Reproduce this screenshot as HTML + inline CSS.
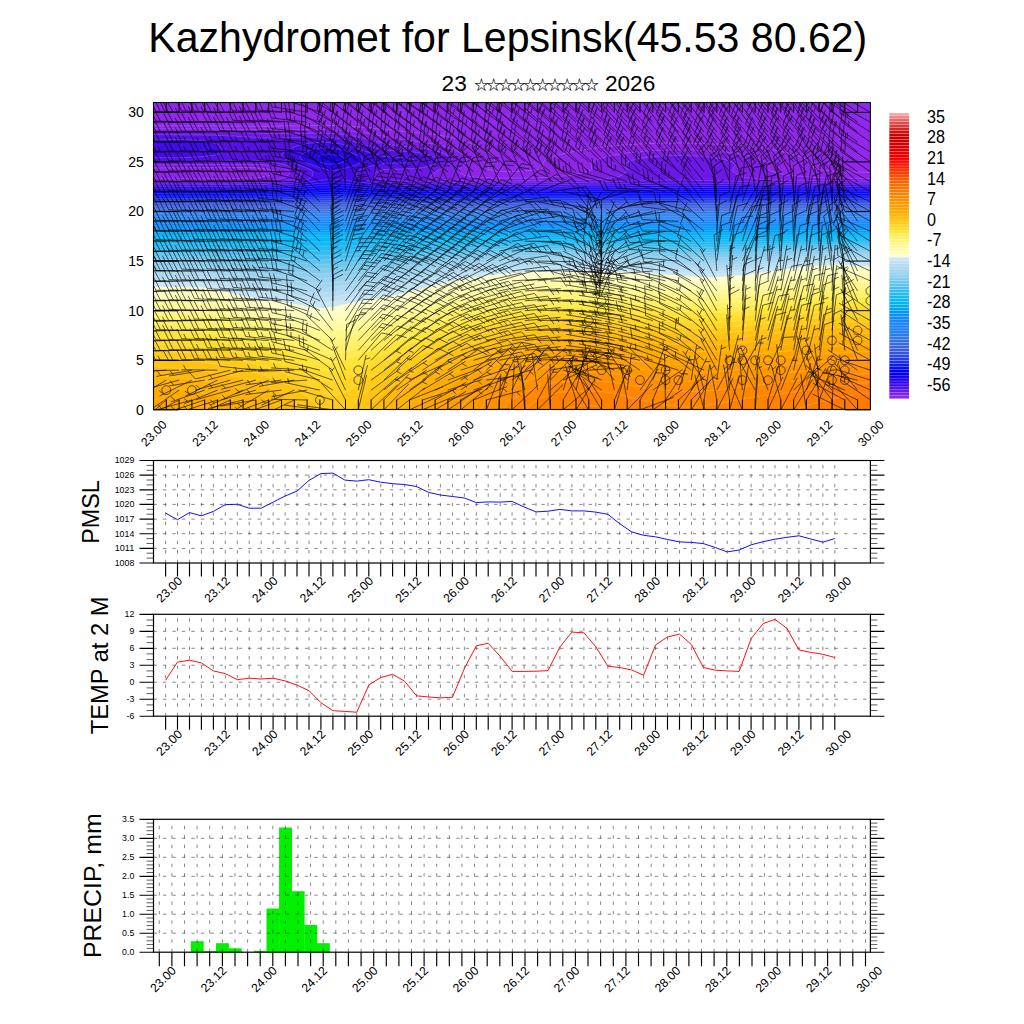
<!DOCTYPE html>
<html><head><meta charset="utf-8"><title>Kazhydromet for Lepsinsk</title>
<style>html,body{margin:0;padding:0;background:#fff;width:1024px;height:1024px;overflow:hidden}</style></head>
<body>
<svg width="1024" height="1024" viewBox="0 0 1024 1024" style="position:absolute;left:0;top:0">
<rect width="1024" height="1024" fill="#fff"/>
<clipPath id="mc"><rect x="153.5" y="102.5" width="716.9" height="307.0"/></clipPath>
<g clip-path="url(#mc)" stroke="#fff" stroke-opacity=".38" stroke-width=".45">
<rect x="153.5" y="102.5" width="716.9" height="307.0" fill="#9128eb" stroke="none"/>
<path d="M145.5 415.9L878.4 415.9L878.4 172.7L839.1 171.7L817.3 169.5L813.6 167.5L812.1 163.5L810.0 161.5L802.8 157.5L786.8 152.5L767.2 148.8L747.5 146.2L727.9 144.6L682.1 143.0L659.2 143.2L633.0 144.4L610.1 146.2L587.2 149.1L567.6 152.7L551.1 157.5L546.8 159.5L544.1 161.5L542.9 163.5L543.7 167.5L540.5 169.5L521.8 171.3L502.1 171.5L495.6 170.9L487.9 169.5L488.0 167.5L492.9 163.5L494.3 161.5L494.6 159.5L493.8 157.5L489.9 153.5L480.2 147.5L469.4 142.6L459.6 139.4L446.5 136.4L433.4 134.4L358.2 126.8L338.5 125.6L318.9 125.5L269.8 126.3L145.5 125.8Z" fill="#8e25e9"/>
<path d="M145.5 415.9L878.4 415.9L878.4 178.7L816.2 177.7L790.1 175.4L779.5 173.5L770.4 171.0L767.6 169.5L768.1 165.5L767.4 163.5L765.1 161.5L760.6 159.3L750.8 156.3L737.7 153.8L721.3 151.8L701.7 150.4L682.1 150.0L662.5 150.2L642.8 151.4L626.5 153.1L610.1 155.8L600.3 158.6L593.9 161.5L591.8 163.5L591.3 165.5L592.2 169.5L588.2 171.5L580.4 173.5L569.2 175.5L548.5 177.5L528.3 178.1L498.9 178.3L476.0 177.5L465.2 175.5L460.5 173.5L458.3 171.5L458.5 169.5L465.6 163.5L466.6 161.5L466.7 159.5L465.9 157.5L462.9 154.5L458.1 151.5L453.5 149.5L443.2 146.2L433.4 144.0L397.4 138.7L364.7 132.8L345.1 130.6L325.5 129.7L273.1 130.0L201.1 129.0L145.5 128.9L145.5 167.9L250.2 167.5L260.0 168.1L269.8 169.4L274.2 171.5L273.4 173.5L269.5 175.5L260.9 177.5L253.5 178.1L227.3 178.7L145.5 178.8Z" fill="#7f1fe7"/>
<path d="M145.5 415.9L878.4 415.9L878.4 181.3L783.5 180.3L761.2 179.5L743.0 177.5L738.7 175.5L733.0 171.5L732.1 169.5L735.2 165.5L734.3 163.5L730.9 161.5L724.5 159.5L711.5 157.3L698.4 156.1L682.1 155.5L665.7 155.9L652.6 156.8L642.8 158.0L633.0 160.1L628.7 161.5L625.4 163.5L624.6 165.5L627.8 169.5L626.9 171.5L621.3 175.5L617.0 177.5L603.6 179.1L567.6 180.5L512.0 181.2L472.7 180.8L441.5 179.5L430.2 177.5L431.0 175.5L435.7 171.5L447.5 165.5L450.0 163.5L451.2 161.5L451.1 159.5L449.9 157.5L447.5 155.5L443.7 153.5L436.7 151.1L426.9 148.9L394.2 145.3L384.3 143.7L361.1 137.5L351.1 135.5L338.5 134.0L322.2 133.2L276.4 133.5L204.4 131.8L145.5 131.5L145.5 165.0L243.7 164.2L260.0 164.5L269.8 165.3L279.6 167.0L287.5 169.5L289.6 171.5L289.4 173.5L287.8 175.5L285.0 177.5L277.6 179.5L266.6 180.5L237.1 181.3L145.5 181.4Z" fill="#6c18e6"/>
<path d="M145.5 415.9L878.4 415.9L878.4 183.2L786.8 182.6L685.4 180.1L659.2 180.3L577.4 182.5L512.0 183.1L462.9 182.7L390.9 180.6L379.5 179.5L374.5 177.5L374.1 175.5L374.7 173.5L376.8 171.5L384.3 169.5L417.1 168.3L423.6 167.4L430.9 165.5L435.0 163.5L436.8 161.5L436.7 159.5L434.7 157.5L430.7 155.5L423.3 153.5L413.8 152.1L390.9 150.5L381.1 149.3L371.3 147.0L348.4 140.1L330.4 137.5L312.4 137.1L273.1 138.4L214.2 135.1L145.5 134.5L145.5 162.2L197.9 162.0L250.2 160.3L263.3 160.7L276.4 162.4L292.7 166.7L299.3 169.5L301.1 171.5L301.2 173.5L298.8 177.5L294.4 179.5L282.9 181.4L273.1 182.2L240.4 183.1L145.5 183.2Z" fill="#5612e6"/>
<path d="M145.5 415.9L878.4 415.9L878.4 184.9L796.6 184.6L678.8 183.0L561.0 184.6L485.8 184.8L404.0 183.6L381.1 182.5L371.1 181.5L359.9 179.5L356.5 177.5L356.5 173.5L357.3 171.5L360.0 169.5L368.0 166.7L381.1 163.8L387.6 163.0L404.0 162.8L410.5 162.2L413.7 161.5L413.8 159.5L404.0 157.7L384.3 156.4L374.5 154.2L345.1 144.9L335.3 143.1L322.2 142.2L309.1 143.2L298.2 145.5L288.1 149.5L284.7 151.5L282.6 153.5L282.0 155.5L283.4 157.5L286.5 159.5L310.5 169.5L312.6 171.5L313.1 173.5L311.8 177.5L308.2 179.5L289.5 182.7L263.3 184.5L145.5 185.0ZM145.5 139.3L145.5 157.6L181.5 157.7L201.1 156.6L212.4 155.5L219.7 153.5L221.7 151.5L221.5 149.5L219.0 145.5L216.0 143.5L208.8 141.5L186.5 139.5Z" fill="#420ce8"/>
<path d="M145.5 415.9L878.4 415.9L878.4 186.7L685.4 185.2L521.8 186.6L413.8 185.9L377.8 184.4L341.8 180.0L332.0 179.5L322.2 180.3L289.5 184.7L266.6 186.2L145.5 186.7ZM300.2 157.5L301.4 159.5L308.0 163.5L322.2 168.4L332.0 170.4L335.3 170.4L341.8 169.2L354.1 165.5L358.7 163.5L361.6 161.5L362.5 159.5L361.3 157.5L358.3 155.5L348.5 151.5L338.5 149.1L328.7 148.0L318.9 148.4L309.1 150.6L302.9 153.5L300.8 155.5Z" fill="#2f06eb"/>
<path d="M145.5 415.9L878.4 415.9L878.4 188.4L685.4 187.4L521.8 188.3L417.1 187.8L381.1 186.8L345.1 183.2L332.0 182.7L318.9 183.4L286.2 186.9L266.6 187.9L145.5 188.4ZM316.5 159.5L318.9 161.5L325.5 163.6L332.0 164.2L338.5 163.6L344.2 161.5L345.4 159.5L343.9 157.5L339.3 155.5L328.7 154.2L319.8 155.5L316.6 157.5Z" fill="#1e02f1"/>
<path d="M145.5 415.9L878.4 415.9L878.4 190.1L685.4 189.3L521.8 190.1L417.1 189.7L384.3 188.9L345.1 185.7L332.0 185.2L318.9 185.8L286.2 188.8L266.6 189.7L145.5 190.1Z" fill="#0e00f8"/>
<path d="M145.5 415.9L878.4 415.9L878.4 191.8L685.4 191.3L417.1 191.5L384.3 190.8L345.1 188.0L332.0 187.6L318.9 188.1L286.2 190.7L266.6 191.5L145.5 191.8Z" fill="#0000ff"/>
<path d="M145.5 415.9L878.4 415.9L878.4 193.5L417.1 193.3L384.3 192.7L332.0 189.9L286.2 192.5L263.3 193.3L145.5 193.5Z" fill="#0102f9"/>
<path d="M145.5 415.9L878.4 415.9L878.4 195.2L417.1 195.1L384.3 194.5L332.0 192.2L263.3 195.0L145.5 195.2Z" fill="#050ef5"/>
<path d="M145.5 415.9L878.4 415.9L878.4 196.9L417.1 196.8L384.3 196.3L332.0 194.4L263.3 196.7L145.5 196.9Z" fill="#0f20ee"/>
<path d="M145.5 415.9L878.4 415.9L878.4 198.6L417.1 198.5L384.3 198.1L332.0 196.5L263.3 198.4L145.5 198.6Z" fill="#1a30e9"/>
<path d="M145.5 415.9L878.4 415.9L878.4 200.2L417.1 200.2L332.0 198.5L263.3 200.1L145.5 200.2Z" fill="#233ce6"/>
<path d="M145.5 415.9L878.4 415.9L878.4 201.9L417.1 201.8L332.0 200.5L263.3 201.8L145.5 201.9Z" fill="#2c48e3"/>
<path d="M145.5 415.9L878.4 415.9L878.4 203.5L417.1 203.5L332.0 202.4L263.3 203.4L145.5 203.5Z" fill="#3454e0"/>
<path d="M145.5 415.9L878.4 415.9L878.4 205.1L417.1 205.1L332.0 204.2L263.3 205.1L145.5 205.1Z" fill="#3b5ddd"/>
<path d="M145.5 415.9L878.4 415.9L878.4 206.8L417.1 206.7L332.0 206.0L263.3 206.7L145.5 206.8Z" fill="#3c64de"/>
<path d="M145.5 415.9L878.4 415.9L878.4 208.4L417.1 208.4L332.0 207.8L145.5 208.4Z" fill="#3b6ae2"/>
<path d="M145.5 415.9L878.4 415.9L878.4 210.0L417.1 210.0L332.0 209.5L145.5 210.0Z" fill="#3871e5"/>
<path d="M145.5 415.9L878.4 415.9L878.4 211.6L332.0 211.3L145.5 211.6Z" fill="#3377e8"/>
<path d="M145.5 415.9L878.4 415.9L878.4 213.3L145.5 213.3Z" fill="#2c7dec"/>
<path d="M145.5 415.9L878.4 415.9L878.4 214.9L145.5 214.9Z" fill="#2680f2"/>
<path d="M145.5 415.9L878.4 415.9L878.4 216.5L145.5 216.5Z" fill="#2283f6"/>
<path d="M145.5 415.9L878.4 415.9L878.4 218.2L145.5 218.2Z" fill="#1f86f9"/>
<path d="M145.5 415.9L878.4 415.9L878.4 219.8L145.5 219.8Z" fill="#1a87fa"/>
<path d="M145.5 415.9L878.4 415.9L878.4 221.6L145.5 221.6Z" fill="#1587fa"/>
<path d="M145.5 415.9L878.4 415.9L878.4 223.7L145.5 223.7Z" fill="#0e8dfa"/>
<path d="M145.5 415.9L878.4 415.9L878.4 226.0L145.5 226.0Z" fill="#0893fa"/>
<path d="M145.5 415.9L878.4 415.9L878.4 228.2L145.5 228.2Z" fill="#0299fa"/>
<path d="M145.5 415.9L878.4 415.9L878.4 230.5L145.5 230.5Z" fill="#00a2fa"/>
<path d="M145.5 415.9L878.4 415.9L878.4 232.8L145.5 232.8Z" fill="#00abfa"/>
<path d="M145.5 415.9L878.4 415.9L878.4 235.0L145.5 235.1Z" fill="#00b7fa"/>
<path d="M145.5 415.9L878.4 415.9L878.4 237.2L145.5 237.5Z" fill="#05b9fa"/>
<path d="M145.5 415.9L878.4 415.9L878.4 239.1L822.8 239.0L711.5 239.8L505.4 239.6L322.2 241.8L207.7 240.5L145.5 240.5Z" fill="#15b9f7"/>
<path d="M145.5 415.9L878.4 415.9L878.4 241.0L822.8 240.8L711.5 242.4L606.8 241.7L505.4 241.9L322.2 246.3L207.7 243.8L145.5 243.7Z" fill="#24baf4"/>
<path d="M145.5 415.9L878.4 415.9L878.4 242.9L819.5 242.6L711.5 244.9L606.8 243.9L505.4 244.2L456.3 245.5L390.9 248.5L322.2 250.8L256.7 249.0L207.7 247.0L145.5 246.8Z" fill="#34bdf2"/>
<path d="M145.5 415.9L878.4 415.9L878.4 244.8L819.5 244.3L711.5 247.5L606.8 246.1L505.4 246.5L456.3 248.3L390.9 252.3L322.2 255.4L256.7 252.9L207.7 250.2L145.5 250.0Z" fill="#48c0f1"/>
<path d="M145.5 415.9L878.4 415.9L878.4 246.7L842.4 245.9L819.5 246.1L741.0 249.3L711.5 250.0L606.8 248.2L547.9 248.2L505.4 248.8L456.3 251.0L390.9 256.0L322.2 259.9L256.7 256.9L207.7 253.4L145.5 253.2Z" fill="#5ec4f0"/>
<path d="M145.5 415.9L878.4 415.9L878.4 248.6L842.4 247.7L822.8 247.8L796.6 248.7L741.0 251.7L711.5 252.6L606.8 250.4L547.9 250.4L505.4 251.1L456.3 253.7L390.9 259.8L322.2 264.4L256.7 260.8L207.7 256.7L188.0 256.2L145.5 256.4Z" fill="#71c7ee"/>
<path d="M145.5 415.9L878.4 415.9L878.4 250.5L842.4 249.4L820.6 249.6L793.3 250.8L741.0 254.2L711.5 255.2L642.8 253.2L606.8 252.7L547.9 252.6L505.4 253.5L482.5 254.5L456.3 256.5L390.9 263.6L322.2 269.0L309.1 268.5L256.7 264.7L207.7 260.0L188.0 259.4L145.5 259.6Z" fill="#80caee"/>
<path d="M145.5 415.9L878.4 415.9L878.4 252.5L842.4 251.3L819.5 251.5L793.3 252.8L741.0 256.7L711.5 257.8L642.8 255.5L606.8 255.0L547.9 254.9L505.4 255.9L482.5 257.1L454.1 259.6L390.9 267.5L332.0 273.3L322.2 273.8L309.1 273.2L256.7 268.9L207.7 263.4L188.0 262.7L145.5 263.0Z" fill="#8eceee"/>
<path d="M145.5 415.9L878.4 415.9L878.4 254.5L842.4 253.1L819.5 253.4L793.3 254.9L741.0 259.3L711.5 260.6L642.8 257.9L606.8 257.3L547.9 257.2L505.4 258.4L482.5 259.7L456.3 262.3L436.7 264.7L390.9 271.6L354.9 275.1L332.0 278.0L322.2 278.6L309.1 278.0L256.7 273.0L207.7 266.8L188.0 266.1L145.5 266.4Z" fill="#99d2ef"/>
<path d="M145.5 415.9L878.4 415.9L878.4 256.5L842.4 254.9L819.5 255.3L793.3 256.9L741.0 261.8L711.5 263.3L642.8 260.3L606.8 259.7L547.9 259.5L505.4 260.8L482.5 262.4L456.3 265.3L436.7 268.0L390.9 275.6L354.9 279.5L332.0 282.8L322.2 283.4L309.1 282.7L256.7 277.2L220.8 271.8L207.7 270.3L188.0 269.5L145.5 269.8Z" fill="#a2d5f0"/>
<path d="M145.5 415.9L878.4 415.9L878.4 258.5L842.4 256.8L819.5 257.1L793.3 259.0L741.0 264.4L711.5 266.0L698.4 265.7L642.8 262.8L606.8 262.0L547.9 261.8L505.4 263.3L482.5 265.0L456.3 268.2L436.7 271.2L390.9 279.6L354.9 284.0L332.0 287.5L322.2 288.3L309.1 287.5L256.7 281.4L220.8 275.4L207.7 273.7L188.0 272.9L145.5 273.2Z" fill="#abd9f1"/>
<path d="M145.5 415.9L878.4 415.9L878.4 260.5L842.4 258.6L819.5 259.0L793.3 261.1L741.0 267.0L711.5 268.7L698.4 268.4L642.8 265.2L606.8 264.3L547.9 264.2L505.4 265.8L482.5 267.6L456.3 271.1L436.7 274.4L390.9 283.6L354.9 288.4L332.0 292.3L322.2 293.1L309.1 292.3L256.7 285.6L220.8 279.0L207.7 277.2L188.0 276.2L145.5 276.6Z" fill="#b4dcf2"/>
<path d="M145.5 415.9L878.4 415.9L878.4 262.5L842.4 260.5L819.5 260.9L793.3 263.1L741.0 269.6L711.5 271.5L698.4 271.1L642.8 267.6L606.8 266.7L547.9 266.5L505.4 268.2L482.5 270.3L456.3 274.1L436.4 277.7L390.9 287.6L354.9 292.8L332.0 297.1L322.2 297.9L309.1 297.0L256.7 289.8L220.8 282.6L207.7 280.6L188.0 279.6L145.5 280.0Z" fill="#bee1f3"/>
<path d="M145.5 415.9L878.4 415.9L878.4 264.6L842.4 262.5L819.5 262.9L793.3 265.3L741.0 272.2L711.5 274.2L698.4 273.9L642.8 270.0L610.1 269.1L547.9 268.9L505.4 270.7L482.5 273.0L453.2 277.7L433.4 281.7L394.2 291.0L354.9 297.3L332.0 301.9L322.2 302.8L309.1 301.8L256.7 294.0L217.8 285.7L204.4 283.8L188.0 283.0L145.5 283.4Z" fill="#c8e6f5"/>
<path d="M145.5 415.9L878.4 415.9L878.4 267.1L839.1 264.8L819.5 265.4L795.9 267.7L744.3 274.9L714.8 277.2L698.4 276.9L639.6 272.7L602.4 271.7L544.7 271.6L504.7 273.7L485.8 275.7L461.3 279.7L440.0 284.0L394.2 295.4L356.7 301.7L332.0 307.0L322.2 307.9L309.1 306.8L286.2 302.8L256.7 298.4L243.7 295.9L217.5 289.7L205.3 287.7L188.0 286.7L145.5 287.1Z" fill="#ffffce"/>
<path d="M145.5 415.9L878.4 415.9L878.4 270.7L842.4 268.6L822.8 268.9L796.6 271.3L741.0 279.0L724.6 280.6L711.5 281.2L695.2 280.6L639.6 276.6L600.3 275.5L544.7 275.5L506.4 277.7L482.5 280.4L453.1 285.6L435.2 289.7L394.2 300.4L358.2 307.1L335.3 312.3L325.5 313.5L312.4 312.7L286.2 307.9L256.7 303.3L217.5 294.6L204.4 292.5L188.0 291.6L145.5 291.9Z" fill="#fffec1"/>
<path d="M145.5 415.9L878.4 415.9L878.4 275.0L842.4 273.0L822.8 273.3L796.6 275.7L741.0 283.3L711.5 285.4L695.2 285.0L639.6 281.0L600.3 279.8L547.9 279.8L512.0 281.8L485.8 284.7L456.3 290.0L436.7 294.4L390.9 306.6L358.2 313.2L335.3 318.5L325.5 319.6L312.4 318.5L286.2 313.4L256.7 308.5L220.8 300.5L207.7 298.2L188.0 296.9L145.5 297.0Z" fill="#fffcb0"/>
<path d="M145.5 415.9L878.4 415.9L878.4 279.3L842.4 277.4L822.8 277.8L796.6 280.2L741.0 287.7L711.5 289.8L695.2 289.4L639.6 285.4L600.3 284.1L551.2 284.1L515.2 286.3L485.8 289.5L456.3 295.1L436.4 299.7L387.6 313.1L338.5 324.4L325.5 325.9L312.4 324.5L286.2 319.0L250.2 312.6L220.8 306.0L207.7 303.7L188.0 302.3L145.5 302.3Z" fill="#fffa9d"/>
<path d="M145.5 415.9L878.4 415.9L878.4 283.7L842.4 282.0L822.8 282.4L796.6 284.8L741.0 292.1L711.5 294.3L695.2 293.8L636.3 289.8L597.0 288.5L551.2 288.6L518.5 290.7L489.0 294.0L456.3 300.3L433.4 305.9L387.6 319.0L341.8 330.4L328.7 332.4L322.2 332.2L312.4 330.8L286.2 324.8L253.5 318.7L220.8 311.5L207.7 309.3L188.0 307.9L145.5 307.7Z" fill="#fff78a"/>
<path d="M145.5 415.9L878.4 415.9L878.4 288.2L842.4 286.6L822.8 287.1L796.6 289.5L741.0 296.7L711.5 298.8L695.2 298.4L633.0 294.3L600.3 293.1L554.5 293.1L525.0 294.9L489.0 299.1L456.3 305.7L436.7 310.5L394.2 323.3L345.1 336.6L335.3 338.7L328.7 339.3L322.2 339.0L315.6 338.0L282.9 330.2L210.9 315.6L188.0 313.6L145.5 313.2Z" fill="#fff478"/>
<path d="M145.5 415.9L878.4 415.9L878.4 292.8L842.4 291.3L822.8 291.9L796.6 294.3L741.0 301.3L711.5 303.4L695.2 303.1L636.3 299.2L597.0 297.6L554.5 297.8L525.9 299.7L489.0 304.3L454.0 311.7L431.5 317.7L394.2 329.6L345.1 344.0L332.0 346.4L325.5 346.4L315.6 344.8L280.2 335.7L210.9 321.5L188.0 319.5L145.5 319.0Z" fill="#fff167"/>
<path d="M145.5 415.9L878.4 415.9L878.4 297.4L842.4 296.1L822.8 296.8L796.6 299.2L741.0 306.0L711.5 308.2L695.2 307.9L633.0 303.8L597.0 302.3L554.5 302.5L528.3 304.4L489.0 309.6L453.1 317.6L426.9 325.1L348.4 350.9L338.5 353.5L332.0 354.2L325.5 354.0L318.9 352.9L278.4 341.8L214.2 328.2L191.3 325.8L145.5 324.9Z" fill="#ffec53"/>
<path d="M145.5 415.9L878.4 415.9L878.4 302.2L842.4 301.1L822.8 301.7L796.6 304.1L741.0 310.9L711.5 313.0L695.2 312.8L629.7 308.5L597.0 307.1L557.8 307.3L531.6 309.1L508.7 312.0L489.0 315.1L452.2 323.7L423.6 332.4L345.1 360.3L338.5 362.0L332.0 362.6L325.5 362.2L318.9 360.8L290.5 351.8L269.8 346.3L217.5 335.1L204.4 333.3L191.3 332.2L145.5 331.0Z" fill="#ffe535"/>
<path d="M145.5 415.9L878.4 415.9L878.4 307.0L845.7 306.1L826.0 306.6L799.9 308.9L737.7 316.1L711.5 318.0L691.9 317.6L626.5 313.3L597.0 312.0L557.8 312.3L531.6 314.3L506.5 317.7L489.0 320.8L469.4 325.2L446.5 331.4L430.2 336.6L410.3 343.8L373.9 357.8L348.4 368.4L341.8 370.5L335.3 371.7L328.7 371.6L322.2 370.3L292.7 359.9L276.4 355.0L250.2 348.5L220.8 342.4L204.4 339.9L191.3 338.8L145.5 337.3Z" fill="#ffdd2c"/>
<path d="M145.5 415.9L878.4 415.9L878.4 312.0L845.7 311.2L826.0 311.8L799.9 314.1L741.0 320.9L711.5 323.1L691.9 322.8L619.9 318.1L597.0 317.1L557.8 317.3L531.6 319.6L505.4 323.5L485.8 327.3L466.1 332.2L443.2 338.9L423.3 345.8L398.3 355.8L375.1 365.8L345.1 380.0L335.3 382.3L328.7 381.9L322.2 380.2L292.7 368.1L273.9 361.8L253.5 356.3L233.0 351.8L214.2 348.3L197.9 346.3L171.7 344.7L145.5 344.0Z" fill="#ffd523"/>
<path d="M145.5 415.9L878.4 415.9L878.4 317.1L845.7 316.5L826.0 317.2L799.9 319.5L737.7 326.5L708.3 328.4L688.6 328.0L616.7 323.2L593.7 322.2L557.8 322.6L531.6 325.0L505.4 329.3L484.3 333.7L462.1 339.7L436.7 347.9L416.4 355.8L394.0 365.8L370.3 377.8L345.1 392.8L338.5 395.2L335.3 395.6L332.0 395.5L325.5 393.7L299.3 380.0L284.8 373.8L266.6 367.5L246.9 362.2L220.8 356.9L201.1 354.0L171.7 351.8L145.5 351.0Z" fill="#ffcd19"/>
<path d="M145.5 358.5L145.5 415.9L318.7 415.9L318.5 409.8L316.5 405.8L312.9 401.8L305.9 395.8L296.8 389.8L289.5 385.8L276.4 379.9L263.3 375.0L240.4 368.7L207.7 362.8L175.9 359.8ZM351.1 415.9L878.4 415.9L878.4 322.4L845.7 321.9L826.0 322.7L799.9 325.1L737.7 331.9L711.5 333.8L688.6 333.5L613.4 328.4L590.5 327.5L567.6 327.7L551.2 328.4L538.1 329.7L521.8 332.3L492.3 338.1L464.5 345.8L435.3 355.8L407.7 367.8L381.8 381.8L372.6 387.8L364.7 393.8L358.2 399.8L353.1 405.8L351.3 409.8Z" fill="#ffc312"/>
<path d="M145.5 366.5L145.5 415.9L298.7 415.9L298.4 409.8L297.8 407.8L294.9 403.8L289.5 399.0L281.8 393.8L274.4 389.8L263.3 384.8L253.5 381.2L233.8 376.2L204.4 371.1L171.7 367.8ZM369.7 415.9L878.4 415.9L878.4 327.8L845.7 327.5L829.3 328.2L803.1 330.5L734.4 337.8L708.3 339.6L678.8 338.7L613.4 333.9L593.7 333.1L557.8 333.6L544.7 334.7L531.6 336.5L498.9 343.1L476.0 349.2L445.0 359.8L420.3 370.4L407.2 377.2L396.2 383.8L387.4 389.8L380.0 395.8L374.2 401.8L371.4 405.8L369.9 409.8Z" fill="#ffba0b"/>
<path d="M145.5 375.4L145.5 415.9L277.1 415.9L276.9 409.8L276.1 407.8L270.4 401.8L260.0 395.2L246.8 389.8L227.3 385.0L197.9 380.0L165.1 376.4ZM386.6 415.9L878.4 415.9L878.4 333.4L849.0 333.3L829.3 334.1L734.4 343.6L708.3 345.4L695.2 345.4L672.3 344.3L613.4 339.7L593.7 338.8L561.0 339.2L547.9 340.2L536.6 341.8L507.3 347.8L482.5 354.3L455.4 363.8L430.2 374.7L410.4 385.8L402.0 391.8L394.9 397.8L389.6 403.8L387.4 407.8L386.8 409.8Z" fill="#ffb306"/>
<path d="M145.5 385.6L145.5 415.9L251.4 415.9L251.0 409.8L249.8 407.8L244.2 403.8L233.8 399.8L210.9 394.3L186.2 389.8L161.9 386.5ZM403.4 415.9L878.4 415.9L878.4 339.2L849.0 339.3L829.3 340.2L731.2 350.1L708.3 351.6L691.9 351.6L665.7 350.3L613.4 345.8L597.0 344.9L564.3 345.1L551.2 346.0L541.4 347.2L518.5 351.9L489.0 359.8L466.4 367.8L443.2 378.0L425.4 387.8L417.1 393.6L412.1 397.8L406.5 403.8L404.2 407.8L403.6 409.8Z" fill="#ffac01"/>
<path d="M145.5 398.9L145.5 415.9L190.3 415.9L190.2 411.8L189.5 409.8L187.1 407.8L182.6 405.8L165.1 401.1L155.3 399.5ZM421.0 415.9L878.4 415.9L878.4 345.3L852.2 345.5L832.6 346.4L727.9 356.8L705.0 358.2L688.6 358.1L662.5 356.7L613.4 352.1L597.0 351.1L564.3 351.4L544.7 353.2L523.3 357.8L495.0 365.8L476.0 372.7L455.9 381.8L438.5 391.8L428.1 399.8L424.3 403.8L421.8 407.8L421.1 409.8Z" fill="#ffa500"/>
<path d="M440.1 415.9L878.4 415.9L878.4 351.7L852.2 352.0L832.6 353.1L727.9 363.7L705.0 365.2L688.6 365.1L659.2 363.6L613.4 358.9L597.0 357.8L567.6 357.9L547.9 359.6L528.5 363.8L505.4 370.7L486.0 377.8L469.4 385.6L455.6 393.8L445.6 401.8L440.9 407.8L440.3 409.8Z" fill="#ff9e00"/>
<path d="M460.1 415.9L878.4 415.9L878.4 358.4L855.5 358.9L835.9 360.0L724.6 371.4L701.7 372.9L685.4 372.7L659.2 371.3L613.4 366.1L597.0 364.8L570.8 364.9L551.2 366.5L535.1 369.8L518.5 374.9L500.1 381.8L483.1 389.8L472.7 396.3L463.8 403.8L461.0 407.8L460.3 409.8Z" fill="#ff9700"/>
<path d="M480.8 415.9L878.4 415.9L878.4 365.6L858.8 366.1L839.1 367.4L721.3 380.0L701.7 381.4L682.1 381.2L655.9 379.6L613.4 373.9L597.0 372.5L574.1 372.5L554.5 373.9L541.4 376.5L528.3 380.6L512.0 387.3L498.9 393.8L489.6 399.8L483.1 405.8L481.0 409.8Z" fill="#ff9000"/>
<path d="M503.4 415.9L878.4 415.9L878.4 373.5L862.0 374.0L842.4 375.5L714.8 390.4L698.4 391.6L678.8 391.2L655.9 389.6L613.4 382.7L600.3 381.3L580.7 380.9L561.0 382.0L551.2 383.4L541.4 385.9L531.2 389.8L519.2 395.8L510.2 401.8L505.9 405.8L503.6 409.8Z" fill="#ff8800"/>
<path d="M526.9 415.9L878.4 415.9L878.4 382.3L858.8 383.3L836.5 385.8L799.9 391.3L749.5 397.8L705.0 406.1L695.2 407.3L682.1 406.9L659.2 404.1L646.1 401.4L616.7 394.0L603.6 391.8L587.2 390.9L564.3 392.0L554.5 393.5L547.9 395.3L541.4 397.9L534.9 401.6L531.6 404.0L528.0 407.8L527.1 409.8Z" fill="#ff8100"/>
<path d="M562.3 415.9L607.1 415.9L607.0 411.8L606.1 409.8L602.7 407.8L600.3 407.2L591.2 405.8L580.7 406.0L567.8 407.8L563.4 409.8L562.4 411.8ZM797.1 415.9L878.4 415.9L878.4 392.9L865.3 393.6L849.1 395.8L829.2 399.8L813.4 403.8L801.4 407.8L798.1 409.8L797.1 411.8Z" fill="#ff7a00"/>
</g>
<g clip-path="url(#mc)" fill="none" stroke="#000" stroke-width=".62">
<path d="M153.5 409.9l-29.9 20.0M166.3 409.9l-26.6 24.3M179.1 409.9l-31.3 17.8M191.9 409.9l-34.0 11.8M204.7 409.9l-31.9 16.7M217.5 409.9l-35.0 8.6M230.3 409.9l-35.1 7.9M243.1 409.9l-32.3 15.8M255.9 409.9l-30.6 19.0M268.7 409.9l-33.2 13.8M281.5 409.9l-35.5 5.7M294.3 409.9l-34.5 10.2M307.1 409.9l-35.9 2.5M319.9 409.9l-35.7 -4.9M332.7 409.9l-35.6 -5.2M345.5 409.9l-24.2 -26.7M358.3 409.9l8.3 -35.0M371.1 409.9l26.2 -24.7M383.9 409.9l24.9 -26.0M396.7 409.9l28.4 -22.2M409.5 409.9l32.6 -15.3M422.3 409.9l33.1 -14.1M435.1 409.9l30.9 -18.5M447.9 409.9l29.9 -20.1M460.7 409.9l27.8 -22.8M473.5 409.9l36.0 -0.9M486.3 409.9l13.3 -33.5M499.1 409.9l1.7 -36.0M511.9 409.9l26.1 -24.8M524.8 409.9l-3.4 -35.8M537.6 409.9l25.5 -25.4M550.4 409.9l-2.8 -35.9M563.2 409.9l27.5 -23.3M576.0 409.9l18.9 -30.7M588.8 409.9l-19.2 -30.5M601.6 409.9l-18.5 -30.9M614.4 409.9l10.4 -34.5M627.2 409.9l25.3 -25.7M640.0 409.9l33.7 -12.6M652.8 409.9l29.6 -20.4M665.6 409.9l-0.7 -36.0M678.4 409.9l19.9 -30.0M691.2 409.9l19.6 -30.2M704.0 409.9l-9.1 -34.8M716.8 409.9l16.4 -32.0M729.6 409.9l9.9 -34.6M742.4 409.9l-14.1 -33.1M755.2 409.9l2.7 -35.9M768.0 409.9l14.8 -32.8M780.8 409.9l16.5 -32.0M793.6 409.9l19.0 -30.6M806.4 409.9l-5.6 -35.6M819.2 409.9l-2.2 -35.9M832.0 409.9l1.4 -36.0M844.8 409.9l-32.3 -15.9M857.6 409.9l-24.3 -26.6M870.4 409.9l-35.9 2.7M153.5 400.0l-31.9 16.7M125.6 414.6l-4.5 -3.0M166.3 400.0l-27.0 23.8M142.7 420.8l-5.1 -1.9M179.1 400.0l-31.9 16.7M191.9 400.0l-34.7 9.7M161.6 408.5l-3.7 -3.9M204.7 400.0l-34.2 11.3M174.8 409.9l-3.9 -3.7M217.5 400.0l-34.3 11.0M187.5 409.6l-3.9 -3.8M230.3 400.0l-32.7 15.1M201.7 413.2l-4.3 -3.3M243.1 400.0l-35.0 8.5M212.5 407.4l-3.6 -4.0M255.9 400.0l-35.5 6.2M268.7 400.0l-33.8 12.5M239.2 410.9l-4.0 -3.6M281.5 400.0l-33.8 12.3M251.9 410.8l-4.0 -3.6M294.3 400.0l-32.4 15.6M307.1 400.0l-36.0 -0.8M275.6 399.3l-2.4 -4.8M332.7 400.0l-34.5 -10.2M345.5 400.0l-16.4 -32.0M331.2 371.9l3.1 -4.4M358.3 400.0l9.2 -34.8M371.1 400.0l27.1 -23.7M394.9 379.3l5.0 1.9M383.9 400.0l25.1 -25.8M405.9 377.4l5.2 1.5M396.7 400.0l29.5 -20.7M422.5 381.9l4.8 2.4M409.5 400.0l33.5 -13.3M422.3 400.0l34.3 -10.9M452.4 390.5l3.9 3.8M435.1 400.0l31.3 -17.8M462.5 384.4l4.6 2.9M447.9 400.0l34.4 -10.8M478.0 390.6l3.8 3.8M460.7 400.0l31.2 -17.9M488.1 384.3l4.6 2.9M473.5 400.0l33.4 -13.4M502.8 388.3l4.1 3.5M486.3 400.0l34.8 -9.3M516.8 391.9l3.7 4.0M499.1 400.0l11.3 -34.2M509.0 370.1l5.3 -0.9M511.9 400.0l2.4 -35.9M514.1 368.6l4.9 -2.2M524.8 400.0l-4.0 -35.8M521.2 368.7l4.5 -3.1M537.6 400.0l17.0 -31.7M552.5 372.2l5.4 0.0M550.4 400.0l-0.3 -36.0M550.1 368.5l4.7 -2.6M563.2 400.0l18.3 -31.0M579.2 372.9l5.4 0.2M576.0 400.0l-10.6 -34.4M566.6 369.9l3.8 -3.8M588.8 400.0l-13.0 -33.6M577.4 370.6l3.5 -4.1M601.6 400.0l-19.3 -30.4M584.7 373.4l2.7 -4.7M614.4 400.0l14.5 -32.9M627.1 371.2l5.4 -0.4M627.2 400.0l-6.6 -35.4M621.4 369.0l4.2 -3.4M640.0 400.0l18.2 -31.1M655.9 372.8l5.4 0.2M652.8 400.0l13.5 -33.4M664.6 370.8l5.4 -0.6M665.6 400.0l19.5 -30.3M682.6 373.5l5.4 0.5M678.4 400.0l26.6 -24.2M701.7 378.8l5.1 1.8M691.2 400.0l25.2 -25.7M713.3 377.5l5.2 1.5M704.0 400.0l5.8 -35.5M716.8 400.0l-6.9 -35.3M710.7 369.1l4.2 -3.4M729.6 400.0l-6.1 -35.5M724.3 368.9l4.3 -3.3M742.4 400.0l6.3 -35.4M755.2 400.0l2.5 -35.9M757.3 368.6l4.9 -2.2M768.0 400.0l10.5 -34.4M780.8 400.0l-9.4 -34.7M772.5 369.6l3.9 -3.7M793.6 400.0l16.5 -32.0M808.0 372.0l5.4 -0.1M806.4 400.0l18.8 -30.7M822.8 373.1l5.4 0.3M819.2 400.0l12.6 -33.7M830.2 370.5l5.4 -0.7M832.0 400.0l-22.0 -28.5M812.8 375.0l2.2 -4.9M844.8 400.0l-31.8 -16.9M817.0 385.2l-0.0 -5.4M857.6 400.0l-32.3 -15.9M829.4 386.0l-0.2 -5.4M870.4 400.0l-29.8 -20.3M844.4 382.3l0.6 -5.4M153.5 390.1l-26.3 24.5M130.5 411.5l-5.1 -1.8M179.1 390.1l-29.7 20.4M153.1 407.9l-4.8 -2.5M204.7 390.1l-34.0 11.9M175.0 400.4l-4.0 -3.7M217.5 390.1l-33.3 13.7M188.4 402.0l-4.2 -3.4M230.3 390.1l-34.7 9.7M200.0 398.5l-3.7 -3.9M243.1 390.1l-32.8 14.9M214.4 403.1l-4.3 -3.3M255.9 390.1l-34.6 9.9M225.6 398.7l-3.7 -3.9M268.7 390.1l-31.0 18.3M241.6 406.0l-4.6 -2.8M281.5 390.1l-35.7 4.5M250.3 394.0l-3.1 -4.4M294.3 390.1l-32.7 15.0M265.7 403.2l-4.3 -3.3M307.1 390.1l-35.4 6.7M276.2 396.0l-3.4 -4.2M319.9 390.1l-35.2 -7.6M289.1 383.4l-1.5 -5.2M332.7 390.1l-30.2 -19.7M306.3 372.9l0.5 -5.4M345.5 390.1l-15.0 -32.7M332.4 361.4l3.3 -4.3M358.3 390.1l7.8 -35.1M365.1 359.3l5.2 -1.4M371.1 390.1l29.0 -21.3M396.5 371.4l4.9 2.3M383.9 390.1l28.0 -22.6M408.5 370.3l5.0 2.1M396.7 390.1l29.9 -20.0M422.9 372.5l4.8 2.5M409.5 390.1l29.5 -20.6M435.4 372.0l4.8 2.5M422.3 390.1l30.9 -18.5M449.4 373.9l4.6 2.8M435.1 390.1l32.6 -15.3M463.7 376.7l4.3 3.2M447.9 390.1l34.4 -10.6M478.0 380.7l3.8 3.8M460.7 390.1l29.7 -20.4M486.7 372.2l4.8 2.5M473.5 390.1l34.1 -11.6M503.4 379.9l3.9 3.7M486.3 390.1l20.8 -29.4M504.5 364.3l5.4 0.7M499.1 390.1l15.9 -32.3M513.0 361.8l5.4 -0.2M511.9 390.1l15.7 -32.4M525.7 361.7l5.4 -0.2M524.8 390.1l-8.5 -35.0M517.3 359.4l4.0 -3.6M537.6 390.1l-5.6 -35.6M532.7 358.9l4.3 -3.2M550.4 390.1l27.1 -23.7M574.1 369.3l5.0 1.9M563.2 390.1l10.7 -34.4M572.5 360.0l5.3 -1.0M576.0 390.1l8.7 -34.9M583.6 359.5l5.2 -1.3M588.8 390.1l-21.9 -28.6M569.6 365.0l2.2 -4.9M601.6 390.1l-29.7 -20.4M575.6 372.2l0.6 -5.4M614.4 390.1l-7.9 -35.1M607.4 359.3l4.1 -3.5M627.2 390.1l4.2 -35.8M630.9 358.8l5.0 -2.0M640.0 390.1l21.1 -29.2M658.4 364.5l5.3 0.7M652.8 390.1l29.6 -20.5M678.7 372.2l4.8 2.5M665.6 390.1l-1.1 -36.0M664.6 358.6l4.7 -2.7M678.4 390.1l11.5 -34.1M688.4 360.2l5.3 -0.9M691.2 390.1l15.7 -32.4M704.9 361.7l5.4 -0.2M704.0 390.1l-9.2 -34.8M696.0 359.6l4.0 -3.7M716.8 390.1l17.1 -31.7M731.7 362.3l5.4 0.0M729.6 390.1l-3.5 -35.8M726.5 358.7l4.5 -3.0M742.4 390.1l-3.0 -35.9M739.8 358.7l4.5 -2.9M755.2 390.1l-17.2 -31.6M740.1 362.4l3.0 -4.5M768.0 390.1l-13.0 -33.6M756.6 360.7l3.5 -4.1M780.8 390.1l13.1 -33.5M792.3 360.7l5.4 -0.6M793.6 390.1l26.2 -24.7M816.5 368.4l5.1 1.7M806.4 390.1l11.9 -34.0M816.8 360.3l5.3 -0.8M819.2 390.1l-12.6 -33.7M808.1 360.6l3.6 -4.0M832.0 390.1l-26.1 -24.8M809.1 368.4l1.4 -5.2M844.8 390.1l-33.0 -14.4M815.9 377.5l-0.4 -5.4M857.6 390.1l-23.4 -27.4M837.1 366.1l2.0 -5.0M870.4 390.1l-32.8 -14.9M841.7 377.0l-0.3 -5.4M153.5 380.1l-32.0 16.6M125.5 394.6l-4.4 -3.1M166.3 380.1l-31.1 18.1M139.1 396.0l-4.6 -2.8M179.1 380.1l-34.7 9.6M148.7 388.5l-3.7 -3.9M191.9 380.1l-32.3 15.9M163.6 394.0l-4.4 -3.2M204.7 380.1l-35.5 5.8M173.6 385.2l-3.3 -4.3M217.5 380.1l-32.2 16.1M189.3 394.2l-4.4 -3.1M230.3 380.1l-34.6 10.0M200.0 388.9l-3.8 -3.9M243.1 380.1l-34.9 8.8M212.6 387.9l-3.6 -4.0M255.9 380.1l-34.8 9.3M225.5 388.3l-3.7 -4.0M268.7 380.1l-33.3 13.8M239.6 392.2l-4.2 -3.4M281.5 380.1l-35.7 4.7M250.3 384.3l-3.1 -4.4M294.3 380.1l-35.4 6.3M263.3 385.7l-3.3 -4.2M307.1 380.1l-35.9 2.4M275.7 382.3l-2.9 -4.6M319.9 380.1l-35.0 -8.4M289.3 372.8l-1.4 -5.2M332.7 380.1l-34.0 -11.9M303.0 369.7l-0.8 -5.3M345.5 380.1l-12.8 -33.7M334.3 350.7l3.6 -4.1M371.1 380.1l29.2 -21.1M396.6 361.7l4.8 2.4M383.9 380.1l26.0 -24.9M406.7 358.3l5.1 1.7M396.7 380.1l30.2 -19.5M423.2 363.0l4.7 2.6M409.5 380.1l32.7 -15.1M438.1 367.0l4.3 3.3M422.3 380.1l28.7 -21.7M447.5 361.1l4.9 2.3M435.1 380.1l30.6 -19.0M461.9 363.5l4.7 2.7M447.9 380.1l33.9 -12.2M477.6 369.5l4.0 3.6M460.7 380.1l31.0 -18.3M487.9 364.2l4.6 2.8M473.5 380.1l34.1 -11.5M503.4 370.1l3.9 3.7M486.3 380.1l35.7 -4.7M517.6 376.1l3.1 4.4M499.1 380.1l34.3 -10.8M529.2 370.7l3.8 3.8M511.9 380.1l29.5 -20.6M537.8 362.1l4.8 2.5M524.8 380.1l19.6 -30.2M541.9 353.7l5.4 0.5M537.6 380.1l26.9 -24.0M561.1 359.2l5.1 1.9M550.4 380.1l24.9 -26.0M572.2 357.4l5.2 1.5M563.2 380.1l32.7 -15.0M591.8 367.0l4.3 3.3M576.0 380.1l14.5 -33.0M588.6 351.3l5.4 -0.4M588.8 380.1l-3.7 -35.8M585.5 348.8l4.5 -3.0M601.6 380.1l-33.2 -13.9M572.5 368.0l-0.5 -5.4M614.4 380.1l-24.1 -26.8M593.3 356.7l1.8 -5.1M627.2 380.1l-19.6 -30.2M610.0 353.7l2.6 -4.7M652.8 380.1l11.9 -34.0M663.1 350.4l5.3 -0.8M691.2 380.1l5.5 -35.6M696.0 349.0l5.1 -1.8M704.0 380.1l-21.3 -29.1M685.4 354.7l2.4 -4.9M716.8 380.1l4.9 -35.7M721.1 348.9l5.1 -1.9M729.6 380.1l8.4 -35.0M736.9 349.5l5.2 -1.4M755.2 380.1l-14.6 -32.9M742.4 351.4l3.3 -4.3M780.8 380.1l-4.2 -35.8M777.1 348.9l4.4 -3.1M793.6 380.1l15.9 -32.3M807.5 351.9l5.4 -0.2M806.4 380.1l26.9 -24.0M829.9 359.2l5.1 1.9M819.2 380.1l-4.7 -35.7M815.1 348.9l4.4 -3.1M857.6 380.1l-35.1 -7.9M826.9 373.2l-1.4 -5.2M870.4 380.1l-34.3 -10.8M840.3 370.7l-1.0 -5.3M153.5 370.2l-35.1 8.0M122.8 377.2l-3.5 -4.1M166.3 370.2l-35.9 2.5M134.9 372.4l-2.9 -4.6M179.1 370.2l-36.0 0.4M147.6 370.6l-2.6 -4.7M191.9 370.2l-35.5 6.2M160.9 375.7l-3.3 -4.3M204.7 370.2l-35.5 5.8M173.6 375.3l-3.3 -4.3M217.5 370.2l-36.0 -0.5M186.0 369.8l-2.5 -4.8M230.3 370.2l-34.9 8.8M195.4 379.0l-7.2 -8.0M243.1 370.2l-34.7 9.6M212.7 378.6l-3.7 -3.9M255.9 370.2l-35.8 -3.9M220.1 366.3l-4.0 -10.0M268.7 370.2l-36.0 1.6M237.2 371.6l-2.7 -4.7M281.5 370.2l-36.0 -1.1M250.0 369.3l-2.4 -4.8M294.3 370.2l-36.0 1.1M262.8 371.2l-2.7 -4.7M307.1 370.2l-35.9 -2.3M275.7 368.2l-2.2 -4.9M319.9 370.2l-35.0 -8.6M285.0 361.6l-2.6 -10.5M332.7 370.2l-29.0 -21.3M307.3 351.6l0.8 -5.3M345.5 370.2l-15.5 -32.5M332.0 341.8l3.2 -4.3M371.1 370.2l28.7 -21.8M396.2 351.2l4.9 2.3M383.9 370.2l28.0 -22.7M408.4 350.4l5.0 2.1M396.7 370.2l26.2 -24.7M422.9 345.5l10.2 3.5M409.5 370.2l28.7 -21.7M438.3 348.5l9.8 4.5M422.3 370.2l30.4 -19.4M448.9 353.3l4.7 2.7M435.1 370.2l31.5 -17.4M462.7 355.0l4.5 3.0M447.9 370.2l29.7 -20.3M477.6 349.9l9.6 5.0M460.7 370.2l34.2 -11.4M494.9 358.8l7.8 7.4M473.5 370.2l28.4 -22.1M498.4 350.9l4.9 2.2M486.3 370.2l26.2 -24.6M509.3 348.7l5.1 1.7M499.1 370.2l22.7 -27.9M521.8 342.3l10.6 2.1M511.9 370.2l27.5 -23.2M536.0 349.9l5.0 2.0M524.8 370.2l25.7 -25.3M547.2 348.1l5.2 1.6M537.6 370.2l28.3 -22.3M562.3 350.7l4.9 2.2M550.4 370.2l35.4 -6.4M581.4 364.6l3.3 4.2M563.2 370.2l35.1 8.1M593.8 377.3l1.4 5.2M576.0 370.2l31.3 -17.8M603.3 354.7l4.6 2.9M588.8 370.2l35.9 -2.5M624.7 367.8l5.7 9.2M614.4 370.2l-33.1 -14.3M585.4 357.7l-0.4 -5.4M640.0 370.2l-30.0 -19.9M613.7 352.8l0.5 -5.4M652.8 370.2l-26.2 -24.7M629.9 348.6l1.4 -5.2M678.4 370.2l-34.3 -10.9M648.3 360.7l-1.0 -5.3M691.2 370.2l-28.3 -22.2M666.4 350.8l1.0 -5.3M704.0 370.2l-32.5 -15.6M675.6 356.6l-0.2 -5.4M716.8 370.2l-16.4 -32.0M702.4 342.2l3.1 -4.4M729.6 370.2l8.8 -34.9M737.3 339.7l5.2 -1.3M742.4 370.2l18.0 -31.2M758.1 342.9l5.4 0.2M755.2 370.2l7.1 -35.3M761.4 339.3l5.2 -1.5M768.0 370.2l15.1 -32.7M783.1 337.5l10.8 -0.6M793.6 370.2l8.1 -35.1M800.7 339.5l5.2 -1.4M806.4 370.2l-9.6 -34.7M798.0 339.9l3.9 -3.7M819.2 370.2l-15.0 -32.7M806.1 341.6l3.3 -4.3M857.6 370.2l-29.7 -20.3M831.6 352.5l0.6 -5.4M870.4 370.2l-34.1 -11.4M840.5 360.2l-0.9 -5.3M153.5 360.3l-36.0 0.4M117.5 360.7l-5.2 -9.5M122.0 360.6l-5.2 -9.5M126.5 360.6l-2.6 -4.7M166.3 360.3l-36.0 0.2M130.3 360.5l-5.1 -9.5M134.8 360.4l-5.1 -9.5M179.1 360.3l-36.0 -0.3M143.1 360.0l-5.0 -9.6M147.6 360.1l-5.0 -9.6M191.9 360.3l-36.0 0.1M155.9 360.4l-5.1 -9.5M160.4 360.4l-2.6 -4.8M204.7 360.3l-36.0 0.3M168.7 360.6l-5.2 -9.5M173.2 360.6l-5.2 -9.5M217.5 360.3l-36.0 -0.9M181.5 359.4l-4.8 -9.7M186.0 359.5l-4.8 -9.7M230.3 360.3l-36.0 -1.6M194.3 358.7l-4.6 -9.8M198.8 358.9l-4.6 -9.8M243.1 360.3l-36.0 -1.5M207.1 358.8l-4.7 -9.7M211.6 359.0l-4.7 -9.7M255.9 360.3l-35.9 -2.7M220.0 357.6l-4.3 -9.9M224.5 358.0l-4.3 -9.9M268.7 360.3l-35.9 -3.1M232.8 357.2l-4.2 -9.9M237.3 357.6l-2.1 -5.0M281.5 360.3l-35.8 -3.6M245.7 356.7l-4.1 -10.0M250.2 357.1l-2.0 -5.0M294.3 360.3l-35.8 -4.2M258.6 356.1l-3.9 -10.1M263.0 356.6l-3.9 -10.1M307.1 360.3l-35.3 -7.3M271.9 353.0l-3.0 -10.4M276.3 354.0l-3.0 -10.4M319.9 360.3l-34.4 -10.7M285.6 349.6l-2.0 -10.6M289.8 350.9l-1.0 -5.3M332.7 360.3l-32.9 -14.6M299.8 345.7l-0.8 -10.8M303.9 347.5l-0.8 -10.8M345.5 360.3l1.1 -36.0M346.6 324.3l9.7 -4.8M358.3 360.3l23.3 -27.4M381.7 332.9l10.5 2.3M371.1 360.3l25.4 -25.6M396.5 334.7l10.3 3.1M383.9 360.3l27.5 -23.2M411.4 337.1l10.0 4.0M396.7 360.3l28.2 -22.4M424.9 337.9l9.9 4.3M409.5 360.3l28.7 -21.7M438.3 338.6l9.8 4.6M422.3 360.3l30.6 -18.9M453.0 341.4l9.3 5.4M435.1 360.3l31.8 -16.9M466.9 343.4l8.9 6.0M447.9 360.3l33.3 -13.7M481.2 346.6l8.3 6.9M460.7 360.3l33.8 -12.3M494.6 348.0l8.0 7.2M473.5 360.3l34.5 -10.2M508.1 350.1l7.6 7.7M486.3 360.3l35.0 -8.4M521.3 351.9l7.2 8.1M499.1 360.3l35.4 -6.8M534.5 353.5l6.8 8.4M511.9 360.3l35.6 -5.3M547.6 355.0l6.4 8.7M524.8 360.3l35.8 -4.1M556.0 356.7l3.1 4.4M537.6 360.3l35.9 -2.0M569.0 358.5l2.8 4.6M550.4 360.3l36.0 0.8M581.8 361.0l2.4 4.8M563.2 360.3l36.0 1.3M594.6 361.4l2.4 4.9M576.0 360.3l35.8 3.9M607.3 363.7l2.0 5.0M588.8 360.3l35.6 5.0M619.9 364.7l1.8 5.1M601.6 360.3l-35.6 -5.4M570.4 355.6l-1.8 -5.1M614.4 360.3l-35.5 -6.1M583.3 355.0l-1.7 -5.1M627.2 360.3l-35.1 -8.0M596.5 353.3l-1.4 -5.2M640.0 360.3l-35.1 -7.8M609.2 353.5l-1.4 -5.2M652.8 360.3l-34.4 -10.7M622.7 351.0l-1.0 -5.3M665.6 360.3l-33.8 -12.5M636.0 349.3l-0.7 -5.4M678.4 360.3l-33.1 -14.1M649.4 347.9l-0.5 -5.4M691.2 360.3l-32.0 -16.5M663.2 345.9l-0.1 -5.4M704.0 360.3l-27.5 -23.3M679.9 339.9l1.1 -5.3M716.8 360.3l-18.3 -31.0M700.7 333.2l2.8 -4.6M793.6 360.3l8.5 -35.0M801.0 329.7l5.2 -1.3M806.4 360.3l8.5 -35.0M813.8 329.7l5.2 -1.3M819.2 360.3l5.1 -35.6M824.3 324.7l10.2 -3.7M857.6 360.3l-13.2 -33.5M846.1 331.0l3.5 -4.1M870.4 360.3l-31.5 -17.5M842.9 345.0l0.1 -5.4M153.5 350.4l-36.0 1.7M117.5 352.1l-5.5 -9.3M122.0 351.9l-2.8 -4.6M166.3 350.4l-36.0 0.7M130.3 351.0l-5.2 -9.4M134.8 351.0l-2.6 -4.7M179.1 350.4l-36.0 0.9M143.1 351.3l-5.3 -9.4M147.6 351.2l-2.7 -4.7M191.9 350.4l-36.0 0.2M155.9 350.6l-5.1 -9.5M160.4 350.6l-5.1 -9.5M204.7 350.4l-36.0 -0.8M168.7 349.5l-4.8 -9.7M173.2 349.6l-4.8 -9.7M217.5 350.4l-36.0 -0.5M181.5 349.9l-4.9 -9.6M186.0 350.0l-4.9 -9.6M230.3 350.4l-36.0 -1.5M194.3 348.9l-4.7 -9.7M198.8 349.0l-2.3 -4.9M243.1 350.4l-35.9 -2.6M207.2 347.8l-4.4 -9.9M211.7 348.1l-4.4 -9.9M255.9 350.4l-35.9 -3.1M220.0 347.3l-4.2 -9.9M224.5 347.7l-2.1 -5.0M268.7 350.4l-35.9 -2.6M232.8 347.8l-4.4 -9.9M237.3 348.1l-4.4 -9.9M281.5 350.4l-35.9 -2.8M245.6 347.6l-4.3 -9.9M250.1 347.9l-2.2 -4.9M294.3 350.4l-35.9 -3.1M258.4 347.3l-4.2 -9.9M262.9 347.7l-2.1 -5.0M307.1 350.4l-35.0 -8.5M272.1 341.9l-2.7 -10.5M276.5 342.9l-2.7 -10.5M319.9 350.4l-32.8 -14.8M287.1 335.5l-0.7 -10.8M291.2 337.4l-0.3 -5.4M332.7 350.4l-30.3 -19.4M302.4 331.0l0.9 -10.8M306.2 333.4l0.9 -10.8M345.5 350.4l10.1 -34.5M355.7 315.8l10.6 -2.2M358.3 350.4l24.0 -26.9M382.3 323.5l10.5 2.6M379.3 326.9l5.2 1.3M371.1 350.4l26.5 -24.4M397.6 326.0l10.2 3.6M383.9 350.4l27.2 -23.6M411.1 326.8l10.1 3.9M407.7 329.8l5.0 1.9M396.7 350.4l27.9 -22.8M424.6 327.6l10.0 4.2M421.1 330.5l5.0 2.1M409.5 350.4l28.8 -21.5M438.4 328.8l9.8 4.6M422.3 350.4l30.4 -19.3M452.7 331.0l9.4 5.3M435.1 350.4l32.2 -16.2M467.3 334.2l8.8 6.2M447.9 350.4l32.5 -15.4M480.5 335.0l8.7 6.4M476.4 336.9l4.3 3.2M460.7 350.4l34.1 -11.6M494.8 338.8l7.9 7.4M473.5 350.4l34.6 -10.1M508.1 340.3l7.5 7.7M486.3 350.4l35.0 -8.3M521.4 342.1l7.1 8.1M499.1 350.4l35.5 -6.1M534.6 344.3l6.6 8.5M511.9 350.4l35.6 -5.3M547.6 345.1l6.4 8.7M524.8 350.4l35.8 -3.8M556.1 347.1l3.0 4.5M537.6 350.4l36.0 -1.0M569.0 349.5l2.7 4.7M550.4 350.4l36.0 -0.7M581.8 349.8l2.6 4.7M563.2 350.4l35.9 2.7M594.6 352.8l2.2 4.9M576.0 350.4l35.8 3.5M607.3 353.5l2.1 5.0M588.8 350.4l35.7 4.5M620.0 354.3l1.9 5.0M601.6 350.4l-35.7 -5.0M570.4 346.0l-1.9 -5.1M614.4 350.4l-35.4 -6.5M583.4 344.7l-1.6 -5.1M627.2 350.4l-35.0 -8.3M596.5 343.1l-1.4 -5.2M640.0 350.4l-35.1 -8.1M609.3 343.3l-1.4 -5.2M652.8 350.4l-34.4 -10.6M622.7 341.1l-1.0 -5.3M665.6 350.4l-33.7 -12.7M631.9 337.6l-1.4 -10.7M678.4 350.4l-33.1 -14.1M649.4 338.0l-0.5 -5.4M691.2 350.4l-31.7 -17.0M659.4 333.4l0.0 -10.8M704.0 350.4l-28.8 -21.6M675.1 328.8l1.6 -10.7M716.8 350.4l-17.7 -31.4M701.3 322.9l2.9 -4.5M729.6 350.4l-3.0 -35.9M727.0 319.0l4.5 -2.9M755.2 350.4l5.9 -35.5M760.4 319.3l5.1 -1.7M768.0 350.4l7.8 -35.1M775.8 315.2l10.4 -2.9M780.8 350.4l6.6 -35.4M786.6 319.4l5.2 -1.6M793.6 350.4l6.3 -35.4M799.1 319.4l5.1 -1.7M819.2 350.4l4.5 -35.7M823.7 314.7l10.1 -3.8M832.0 350.4l0.8 -36.0M832.8 314.4l9.7 -4.8M844.8 350.4l-3.8 -35.8M841.5 319.1l4.5 -3.0M857.6 350.4l-15.3 -32.6M842.3 317.8l6.5 -8.6M870.4 350.4l-31.4 -17.5M842.9 335.0l0.1 -5.4M153.5 340.5l-36.0 1.1M117.5 341.5l-5.4 -9.4M122.0 341.4l-2.7 -4.7M166.3 340.5l-36.0 1.3M130.3 341.7l-5.4 -9.4M134.8 341.6l-5.4 -9.4M179.1 340.5l-36.0 0.1M143.1 340.6l-5.1 -9.5M147.6 340.6l-2.6 -4.8M191.9 340.5l-36.0 -0.6M155.9 339.8l-4.9 -9.6M160.4 339.9l-4.9 -9.6M204.7 340.5l-36.0 -0.9M168.7 339.6l-4.8 -9.7M173.2 339.7l-4.8 -9.7M217.5 340.5l-36.0 -1.8M181.6 338.7l-4.6 -9.8M186.0 338.9l-2.3 -4.9M230.3 340.5l-35.9 -2.1M194.4 338.3l-4.5 -9.8M198.9 338.6l-4.5 -9.8M243.1 340.5l-36.0 -1.3M207.1 339.2l-4.7 -9.7M211.6 339.3l-2.4 -4.9M255.9 340.5l-35.9 -3.1M220.0 337.4l-4.2 -9.9M224.5 337.8l-4.2 -9.9M268.7 340.5l-35.9 -2.5M232.8 337.9l-4.4 -9.9M237.3 338.2l-4.4 -9.9M281.5 340.5l-35.8 -4.0M245.7 336.5l-4.0 -10.0M250.2 337.0l-2.0 -5.0M294.3 340.5l-35.8 -4.2M258.6 336.3l-3.9 -10.1M263.0 336.8l-2.0 -5.0M307.1 340.5l-34.9 -8.8M272.2 331.7l-2.6 -10.5M276.6 332.8l-2.6 -10.5M319.9 340.5l-33.4 -13.5M286.5 327.0l-1.1 -10.7M290.7 328.7l-0.6 -5.4M332.7 340.5l-26.0 -24.9M306.8 315.5l2.9 -10.4M310.0 318.6l1.5 -5.2M345.5 340.5l17.1 -31.7M362.7 308.8l10.8 0.1M360.5 312.8l5.4 0.0M358.3 340.5l24.5 -26.4M382.8 314.1l10.4 2.8M379.8 317.4l5.2 1.4M371.1 340.5l25.8 -25.1M396.9 315.3l10.3 3.3M393.7 318.5l5.1 1.6M383.9 340.5l27.9 -22.7M411.9 317.8l9.9 4.2M408.4 320.6l5.0 2.1M396.7 340.5l27.9 -22.8M424.6 317.7l10.0 4.2M421.1 320.5l5.0 2.1M409.5 340.5l29.4 -20.8M438.9 319.7l9.6 4.9M435.3 322.3l4.8 2.4M422.3 340.5l30.8 -18.7M453.1 321.8l9.3 5.5M449.3 324.1l4.6 2.8M435.1 340.5l32.5 -15.6M467.6 324.9l8.7 6.4M463.5 326.8l4.3 3.2M447.9 340.5l32.7 -15.1M480.6 325.3l8.6 6.5M476.5 327.2l4.3 3.3M460.7 340.5l33.8 -12.3M494.6 328.2l8.0 7.2M490.4 329.7l4.0 3.6M473.5 340.5l34.6 -9.8M508.2 330.6l7.5 7.8M503.8 331.9l3.7 3.9M486.3 340.5l34.9 -8.8M521.3 331.7l7.2 8.0M499.1 340.5l35.5 -5.7M534.7 334.7l6.5 8.6M511.9 340.5l35.7 -4.5M547.7 335.9l6.2 8.8M524.8 340.5l35.8 -3.6M556.1 337.3l3.0 4.5M537.6 340.5l36.0 -0.9M569.0 339.7l2.7 4.7M550.4 340.5l36.0 0.4M581.9 340.8l2.5 4.8M563.2 340.5l36.0 1.1M594.6 341.5l2.4 4.8M576.0 340.5l35.8 3.4M607.3 343.4l2.1 5.0M588.8 340.5l35.5 5.8M619.8 345.6l1.7 5.1M601.6 340.5l-35.5 -6.2M570.5 335.1l-1.7 -5.1M614.4 340.5l-35.2 -7.5M583.5 333.9l-1.5 -5.2M627.2 340.5l-35.3 -6.9M596.3 334.4l-1.6 -5.2M640.0 340.5l-34.8 -9.3M609.5 332.3l-1.2 -5.3M652.8 340.5l-34.7 -9.4M622.4 332.2l-1.2 -5.3M665.6 340.5l-33.9 -12.2M635.9 329.8l-0.8 -5.3M678.4 340.5l-33.3 -13.6M649.2 328.6l-0.6 -5.4M691.2 340.5l-32.3 -15.9M662.9 326.5l-0.2 -5.4M704.0 340.5l-29.6 -20.5M678.1 322.6l0.6 -5.4M716.8 340.5l-19.9 -30.0M699.4 314.2l2.6 -4.7M729.6 340.5l-2.2 -35.9M727.6 309.0l4.6 -2.8M742.4 340.5l2.7 -35.9M744.7 309.0l4.9 -2.2M755.2 340.5l7.6 -35.2M762.8 305.3l10.4 -2.9M768.0 340.5l9.8 -34.6M776.5 310.1l5.3 -1.1M780.8 340.5l10.7 -34.4M790.2 310.4l5.3 -1.0M793.6 340.5l8.0 -35.1M801.6 305.4l10.4 -2.8M806.4 340.5l7.8 -35.1M814.2 305.3l10.4 -2.9M819.2 340.5l8.2 -35.0M826.4 309.8l5.2 -1.4M844.8 340.5l-1.3 -36.0M843.5 304.5l9.3 -5.4M870.4 340.5l-31.5 -17.4M842.8 325.2l0.1 -5.4M153.5 330.5l-36.0 0.3M117.5 330.9l-5.2 -9.5M122.0 330.8l-5.2 -9.5M166.3 330.5l-36.0 1.2M130.3 331.7l-5.4 -9.4M134.8 331.6l-2.7 -4.7M179.1 330.5l-36.0 0.5M143.1 331.0l-5.2 -9.5M147.6 331.0l-5.2 -9.5M191.9 330.5l-36.0 -1.0M155.9 329.5l-4.8 -9.7M160.4 329.7l-4.8 -9.7M164.9 329.8l-2.4 -4.8M204.7 330.5l-36.0 0.1M168.7 330.6l-5.1 -9.5M173.2 330.6l-2.5 -4.8M217.5 330.5l-36.0 -0.7M181.5 329.8l-4.9 -9.6M186.0 329.9l-4.9 -9.6M230.3 330.5l-36.0 -1.6M194.3 328.9l-4.6 -9.8M198.8 329.1l-4.6 -9.8M243.1 330.5l-35.9 -2.2M207.2 328.3l-4.5 -9.8M211.7 328.6l-4.5 -9.8M255.9 330.5l-35.9 -2.5M220.0 328.1l-4.4 -9.9M224.5 328.4l-4.4 -9.9M268.7 330.5l-35.9 -3.2M232.9 327.4l-4.2 -9.9M237.3 327.8l-2.1 -5.0M281.5 330.5l-35.9 -2.7M245.6 327.8l-4.3 -9.9M250.1 328.2l-4.3 -9.9M294.3 330.5l-35.9 -2.7M258.4 327.8l-4.3 -9.9M262.9 328.1l-4.3 -9.9M307.1 330.5l-35.4 -6.8M271.8 323.8l-3.2 -10.3M276.2 324.6l-1.6 -5.2M319.9 330.5l-33.4 -13.4M286.5 317.1l-1.2 -10.7M290.7 318.8l-0.6 -5.4M332.7 330.5l-22.6 -28.0M310.1 302.5l4.2 -9.9M312.9 306.0l2.1 -5.0M345.5 330.5l17.9 -31.2M363.4 299.3l10.8 0.3M361.2 303.2l10.8 0.3M358.3 330.5l25.2 -25.7M383.5 304.8l10.4 3.1M380.4 308.1l5.2 1.5M371.1 330.5l25.8 -25.1M397.0 305.5l10.3 3.3M393.7 308.6l5.1 1.7M383.9 330.5l28.2 -22.4M412.1 308.2l9.9 4.3M408.6 311.0l4.9 2.2M396.7 330.5l29.1 -21.3M425.8 309.3l9.7 4.7M422.2 311.9l4.9 2.4M409.5 330.5l29.6 -20.5M439.1 310.0l9.6 5.0M435.4 312.6l4.8 2.5M422.3 330.5l30.2 -19.6M452.5 310.9l9.4 5.2M448.8 313.4l4.7 2.6M435.1 330.5l31.9 -16.6M467.1 313.9l8.9 6.1M463.1 316.0l8.9 6.1M447.9 330.5l32.7 -15.0M480.7 315.5l8.6 6.5M476.6 317.4l8.6 6.5M460.7 330.5l34.0 -11.9M494.7 318.6l7.9 7.3M490.5 320.1l4.0 3.7M473.5 330.5l34.5 -10.2M508.1 320.4l7.6 7.7M503.8 321.6l3.8 3.9M486.3 330.5l35.0 -8.3M521.4 322.2l7.1 8.1M499.1 330.5l35.2 -7.5M534.4 323.0l6.9 8.3M511.9 330.5l35.6 -5.1M547.6 325.5l6.4 8.7M524.8 330.5l35.9 -2.3M556.2 328.6l2.8 4.6M537.6 330.5l36.0 -1.3M569.0 329.4l2.7 4.7M550.4 330.5l36.0 0.8M581.8 331.2l2.4 4.8M563.2 330.5l36.0 1.8M594.6 332.1l2.3 4.9M576.0 330.5l35.9 3.0M607.3 333.2l2.1 5.0M601.6 330.5l-35.5 -6.2M570.5 325.1l-1.7 -5.1M614.4 330.5l-35.5 -5.8M583.3 325.5l-1.7 -5.1M627.2 330.5l-35.1 -7.8M596.4 323.7l-1.4 -5.2M640.0 330.5l-34.8 -9.2M609.5 322.5l-1.2 -5.3M652.8 330.5l-34.9 -8.9M622.3 322.7l-1.3 -5.2M665.6 330.5l-34.0 -11.7M631.5 318.8l-1.7 -10.7M678.4 330.5l-32.8 -14.9M645.6 315.7l-0.7 -10.8M691.2 330.5l-32.1 -16.3M663.1 316.3l-0.1 -5.4M704.0 330.5l-27.5 -23.3M680.0 310.2l1.1 -5.3M716.8 330.5l-18.5 -30.9M698.3 299.6l5.6 -9.2M729.6 330.5l0.3 -36.0M729.8 294.5l9.6 -5.0M742.4 330.5l3.6 -35.8M745.5 299.2l5.0 -2.0M755.2 330.5l7.8 -35.2M762.9 295.4l10.4 -2.9M768.0 330.5l10.6 -34.4M778.6 296.1l10.6 -2.0M780.8 330.5l8.4 -35.0M788.2 299.9l5.2 -1.3M793.6 330.5l7.6 -35.2M800.2 299.7l5.2 -1.5M806.4 330.5l5.1 -35.6M811.5 294.9l10.2 -3.7M819.2 330.5l4.7 -35.7M823.3 299.3l5.1 -1.9M832.0 330.5l4.4 -35.7M836.4 294.8l10.1 -3.9M844.8 330.5l-0.4 -36.0M844.4 294.5l9.5 -5.2M870.4 330.5l-30.0 -19.9M844.2 313.1l0.5 -5.4M153.5 320.6l-36.0 1.9M117.5 322.5l-5.6 -9.3M122.0 322.2l-5.6 -9.3M166.3 320.6l-36.0 0.9M130.3 321.5l-5.3 -9.4M134.8 321.4l-2.7 -4.7M179.1 320.6l-36.0 -0.5M143.1 320.1l-4.9 -9.6M147.6 320.2l-4.9 -9.6M191.9 320.6l-36.0 0.8M155.9 321.5l-5.3 -9.4M160.4 321.4l-5.3 -9.4M164.9 321.3l-2.6 -4.7M204.7 320.6l-36.0 -0.2M168.7 320.4l-5.0 -9.6M173.2 320.4l-5.0 -9.6M217.5 320.6l-36.0 -0.6M181.5 320.0l-4.9 -9.6M186.0 320.1l-4.9 -9.6M190.5 320.2l-2.5 -4.8M230.3 320.6l-36.0 -1.6M194.3 319.0l-4.6 -9.8M198.8 319.2l-4.6 -9.8M243.1 320.6l-36.0 -1.3M207.1 319.4l-4.7 -9.7M211.6 319.5l-2.4 -4.9M255.9 320.6l-35.9 -2.8M220.0 317.8l-4.3 -9.9M224.5 318.1l-4.3 -9.9M268.7 320.6l-35.8 -3.4M232.9 317.3l-4.2 -10.0M237.4 317.7l-4.2 -10.0M281.5 320.6l-35.9 -3.0M245.6 317.6l-4.3 -9.9M250.1 318.0l-4.3 -9.9M294.3 320.6l-35.8 -3.5M258.5 317.1l-4.1 -10.0M263.0 317.5l-4.1 -10.0M307.1 320.6l-35.1 -7.9M272.0 312.7l-2.9 -10.4M276.4 313.7l-1.4 -5.2M319.9 320.6l-32.6 -15.2M287.3 305.4l-0.6 -10.8M291.4 307.3l-0.3 -5.4M332.7 320.6l-16.7 -31.9M316.1 288.7l6.1 -8.9M318.1 292.7l3.1 -4.5M345.5 320.6l19.1 -30.5M364.7 290.1l10.8 0.8M362.3 293.9l10.8 0.8M358.3 320.6l25.1 -25.8M383.5 294.9l10.4 3.0M380.3 298.1l10.4 3.0M371.1 320.6l26.3 -24.6M397.4 296.0l10.2 3.5M394.1 299.1l10.2 3.5M383.9 320.6l27.1 -23.6M411.1 297.0l10.1 3.9M407.7 299.9l10.1 3.9M396.7 320.6l28.6 -21.9M425.3 298.7l9.8 4.5M421.7 301.4l9.8 4.5M418.2 304.2l4.9 2.2M409.5 320.6l29.0 -21.4M438.5 299.2l9.7 4.7M434.9 301.9l9.7 4.7M422.3 320.6l30.9 -18.5M453.2 302.1l9.3 5.6M449.4 304.4l9.3 5.6M435.1 320.6l31.9 -16.7M467.0 303.9l8.9 6.1M463.0 306.0l8.9 6.1M447.9 320.6l33.0 -14.5M480.9 306.1l8.5 6.7M476.8 307.9l8.5 6.7M460.7 320.6l33.9 -12.0M494.7 308.6l8.0 7.3M490.4 310.1l8.0 7.3M473.5 320.6l34.6 -9.9M508.1 310.7l7.5 7.8M503.8 311.9l3.8 3.9M486.3 320.6l34.9 -8.9M521.2 311.7l7.3 8.0M499.1 320.6l35.3 -7.1M534.5 313.6l6.8 8.4M511.9 320.6l35.6 -5.2M547.6 315.4l6.4 8.7M524.8 320.6l35.8 -3.3M556.1 317.7l3.0 4.5M537.6 320.6l36.0 -0.9M569.0 319.9l2.6 4.7M550.4 320.6l36.0 0.0M581.9 320.7l2.5 4.8M563.2 320.6l35.9 2.7M594.6 323.0l2.2 4.9M576.0 320.6l35.8 3.6M607.3 323.7l2.0 5.0M601.6 320.6l-35.5 -5.9M570.5 315.5l-1.7 -5.1M614.4 320.6l-35.3 -7.0M583.5 314.5l-1.6 -5.2M627.2 320.6l-35.4 -6.8M596.2 314.7l-1.6 -5.2M640.0 320.6l-35.0 -8.2M609.3 313.4l-1.4 -5.2M652.8 320.6l-34.6 -10.0M618.2 310.7l-2.2 -10.6M665.6 320.6l-33.7 -12.6M631.9 308.0l-1.4 -10.7M678.4 320.6l-33.1 -14.2M645.3 306.4l-0.9 -10.8M691.2 320.6l-31.6 -17.2M659.6 303.4l0.1 -10.8M704.0 320.6l-27.6 -23.1M679.8 300.4l1.1 -5.3M716.8 320.6l-20.0 -29.9M699.2 294.5l2.5 -4.8M729.6 320.6l0.7 -36.0M730.2 289.1l4.8 -2.4M742.4 320.6l3.8 -35.8M745.7 289.3l5.0 -2.0M755.2 320.6l3.9 -35.8M759.1 284.8l10.0 -4.0M768.0 320.6l9.4 -34.8M776.2 290.2l5.3 -1.2M780.8 320.6l8.2 -35.0M788.0 290.0l5.2 -1.4M793.6 320.6l10.2 -34.5M803.7 286.1l10.6 -2.2M806.4 320.6l8.0 -35.1M813.4 289.9l5.2 -1.4M819.2 320.6l4.1 -35.8M823.3 284.9l10.1 -3.9M832.0 320.6l2.7 -35.9M834.3 289.2l4.9 -2.2M844.8 320.6l-0.5 -36.0M844.3 284.6l9.5 -5.2M857.6 320.6l-16.9 -31.8M842.8 292.8l3.0 -4.5M870.4 320.6l-31.5 -17.4M842.8 305.4l0.1 -5.4M153.5 310.7l-36.0 1.2M117.5 311.9l-5.4 -9.4M122.0 311.7l-5.4 -9.4M166.3 310.7l-36.0 1.5M130.3 312.2l-5.5 -9.3M134.8 312.0l-5.5 -9.3M139.3 311.8l-5.5 -9.3M179.1 310.7l-36.0 -0.2M143.1 310.5l-5.0 -9.6M147.6 310.5l-5.0 -9.6M152.1 310.6l-2.5 -4.8M191.9 310.7l-36.0 -0.7M155.9 310.0l-4.9 -9.6M160.4 310.1l-4.9 -9.6M164.9 310.2l-2.4 -4.8M204.7 310.7l-36.0 -1.4M168.7 309.3l-4.7 -9.7M173.2 309.5l-4.7 -9.7M217.5 310.7l-36.0 -0.5M181.5 310.2l-4.9 -9.6M186.0 310.2l-4.9 -9.6M230.3 310.7l-36.0 -0.6M194.3 310.1l-4.9 -9.6M198.8 310.1l-4.9 -9.6M203.3 310.2l-2.5 -4.8M243.1 310.7l-36.0 -1.4M207.1 309.3l-4.7 -9.7M211.6 309.5l-4.7 -9.7M255.9 310.7l-36.0 -1.9M220.0 308.8l-4.6 -9.8M224.5 309.0l-4.6 -9.8M229.0 309.3l-2.3 -4.9M268.7 310.7l-35.9 -2.8M232.8 307.9l-4.3 -9.9M237.3 308.2l-4.3 -9.9M281.5 310.7l-35.8 -3.7M245.7 307.0l-4.1 -10.0M250.2 307.5l-4.1 -10.0M294.3 310.7l-35.9 -3.2M258.5 307.5l-4.2 -9.9M262.9 307.9l-4.2 -9.9M307.1 310.7l-34.5 -10.2M272.6 300.5l-2.2 -10.6M276.9 301.8l-1.1 -5.3M319.9 310.7l-32.2 -16.1M287.7 294.6l-0.3 -10.8M291.8 296.6l-0.3 -10.8M332.7 310.7l0.7 -36.0M333.5 274.7l9.6 -4.9M333.4 279.2l9.6 -4.9M345.5 310.7l21.1 -29.2M366.6 281.5l10.7 1.5M364.0 285.2l10.7 1.5M358.3 310.7l26.0 -24.9M384.3 285.8l10.3 3.4M381.0 288.9l10.3 3.4M371.1 310.7l25.8 -25.1M396.9 285.6l10.3 3.3M393.7 288.7l10.3 3.3M383.9 310.7l27.9 -22.7M411.9 288.0l10.0 4.2M408.4 290.8l10.0 4.2M396.7 310.7l29.2 -21.1M425.9 289.6l9.7 4.7M422.2 292.2l9.7 4.7M418.6 294.9l4.8 2.4M409.5 310.7l29.5 -20.6M439.1 290.1l9.6 4.9M435.4 292.7l9.6 4.9M422.3 310.7l30.7 -18.8M453.1 291.9l9.3 5.5M449.2 294.3l4.6 2.7M435.1 310.7l31.8 -16.8M467.0 293.9l8.9 6.1M463.0 296.0l8.9 6.1M447.9 310.7l33.2 -13.8M481.2 296.9l8.3 6.9M477.0 298.6l8.3 6.9M472.9 300.3l4.2 3.4M460.7 310.7l34.2 -11.2M494.9 299.5l7.8 7.5M490.7 300.9l7.8 7.5M473.5 310.7l34.3 -11.0M507.8 299.7l7.7 7.5M503.5 301.1l7.7 7.5M486.3 310.7l35.1 -8.1M521.4 302.6l7.1 8.1M499.1 310.7l35.5 -6.0M534.6 304.7l6.6 8.5M511.9 310.7l35.5 -5.7M543.1 305.7l3.3 4.3M524.8 310.7l35.9 -3.1M556.1 308.0l2.9 4.5M537.6 310.7l36.0 -1.3M569.0 309.5l2.7 4.7M550.4 310.7l36.0 0.0M581.9 310.7l2.5 4.8M563.2 310.7l36.0 1.7M594.6 312.2l2.3 4.9M576.0 310.7l35.8 3.9M607.3 314.1l2.0 5.0M588.8 310.7l35.7 4.9M620.0 315.0l1.9 5.1M614.4 310.7l-35.4 -6.5M583.4 305.0l-1.6 -5.1M627.2 310.7l-35.3 -7.2M596.3 304.4l-1.5 -5.2M640.0 310.7l-35.2 -7.7M609.2 304.0l-1.5 -5.2M652.8 310.7l-34.8 -9.3M622.3 302.6l-1.2 -5.3M665.6 310.7l-34.0 -11.9M635.9 300.3l-0.8 -5.3M678.4 310.7l-33.0 -14.5M645.4 296.2l-0.8 -10.8M691.2 310.7l-32.2 -16.1M659.0 294.6l-0.3 -10.8M704.0 310.7l-27.9 -22.7M679.5 290.8l1.0 -5.3M716.8 310.7l-16.9 -31.8M702.0 282.9l3.0 -4.5M729.6 310.7l-0.6 -36.0M729.1 279.2l4.7 -2.6M742.4 310.7l2.4 -35.9M744.8 274.8l9.9 -4.4M755.2 310.7l5.5 -35.6M760.7 275.1l10.2 -3.5M768.0 310.7l10.4 -34.5M777.1 280.5l5.3 -1.0M780.8 310.7l11.0 -34.3M790.4 280.7l5.3 -1.0M793.6 310.7l8.2 -35.1M800.8 280.0l5.2 -1.4M806.4 310.7l8.3 -35.0M814.6 275.7l10.4 -2.7M819.2 310.7l8.4 -35.0M827.6 275.7l10.5 -2.7M832.0 310.7l2.2 -35.9M833.9 279.3l4.9 -2.2M844.8 310.7l-3.0 -35.9M842.2 279.3l4.5 -2.9M857.6 310.7l-13.5 -33.4M845.8 281.5l3.5 -4.1M870.4 310.7l-29.4 -20.8M844.7 292.5l0.7 -5.4M153.5 300.8l-36.0 1.5M117.5 302.2l-5.5 -9.3M122.0 302.1l-5.5 -9.3M126.5 301.9l-2.7 -4.7M166.3 300.8l-36.0 0.4M130.3 301.1l-5.2 -9.5M134.8 301.1l-5.2 -9.5M139.3 301.0l-2.6 -4.7M179.1 300.8l-36.0 -0.4M143.1 300.4l-5.0 -9.6M147.6 300.4l-5.0 -9.6M152.1 300.5l-2.5 -4.8M191.9 300.8l-36.0 -0.7M155.9 300.1l-4.9 -9.6M160.4 300.2l-4.9 -9.6M204.7 300.8l-36.0 -1.2M168.7 299.6l-4.8 -9.7M173.2 299.8l-4.8 -9.7M177.7 299.9l-2.4 -4.8M217.5 300.8l-36.0 -0.3M181.5 300.5l-5.0 -9.6M186.0 300.5l-5.0 -9.6M190.5 300.5l-2.5 -4.8M230.3 300.8l-35.9 -2.2M194.4 298.6l-4.5 -9.8M198.9 298.8l-4.5 -9.8M203.4 299.1l-2.2 -4.9M243.1 300.8l-35.9 -2.1M207.2 298.7l-4.5 -9.8M211.7 299.0l-4.5 -9.8M255.9 300.8l-36.0 -1.4M219.9 299.4l-4.7 -9.7M224.4 299.6l-4.7 -9.7M268.7 300.8l-35.9 -2.7M232.8 298.1l-4.3 -9.9M237.3 298.4l-4.3 -9.9M241.8 298.7l-2.2 -4.9M281.5 300.8l-35.9 -2.2M245.6 298.6l-4.5 -9.8M250.1 298.8l-4.5 -9.8M294.3 300.8l-35.8 -3.7M258.5 297.1l-4.1 -10.0M263.0 297.6l-4.1 -10.0M267.5 298.0l-2.0 -5.0M307.1 300.8l-34.3 -10.8M272.8 289.9l-2.0 -10.6M277.1 291.3l-1.0 -5.3M319.9 300.8l-32.7 -15.1M287.2 285.7l-0.6 -10.8M291.3 287.6l-0.3 -5.4M332.7 300.8l0.6 -36.0M333.4 264.8l9.6 -4.9M333.3 269.3l4.8 -2.5M345.5 300.8l22.0 -28.5M367.5 272.3l10.6 1.8M364.8 275.8l10.6 1.8M358.3 300.8l26.3 -24.6M384.6 276.2l10.2 3.5M381.3 279.3l10.2 3.5M378.1 282.3l10.2 3.5M371.1 300.8l26.1 -24.8M397.2 276.0l10.2 3.4M394.0 279.1l10.2 3.4M390.7 282.2l5.1 1.7M383.9 300.8l28.0 -22.6M411.9 278.2l9.9 4.2M408.4 281.0l9.9 4.2M396.7 300.8l28.5 -22.0M425.2 278.7l9.8 4.4M421.6 281.5l9.8 4.4M409.5 300.8l29.5 -20.6M439.0 280.2l9.6 4.9M435.4 282.7l9.6 4.9M431.7 285.3l4.8 2.5M422.3 300.8l30.9 -18.4M453.3 282.4l9.2 5.6M449.4 284.7l9.2 5.6M435.1 300.8l31.4 -17.7M466.5 283.1l9.1 5.8M462.6 285.3l9.1 5.8M458.7 287.5l4.5 2.9M447.9 300.8l33.4 -13.4M481.4 287.4l8.2 7.0M477.2 289.1l8.2 7.0M460.7 300.8l33.7 -12.6M494.5 288.2l8.1 7.2M490.3 289.8l8.1 7.2M473.5 300.8l34.6 -10.0M508.1 290.8l7.5 7.8M503.8 292.0l7.5 7.8M499.5 293.3l3.8 3.9M486.3 300.8l34.8 -9.2M521.2 291.6l7.3 7.9M499.1 300.8l35.2 -7.3M534.4 293.4l6.9 8.3M511.9 300.8l35.7 -4.6M547.7 296.2l6.2 8.8M524.8 300.8l35.9 -2.9M556.1 298.2l2.9 4.5M537.6 300.8l36.0 -1.0M569.0 299.9l2.7 4.7M550.4 300.8l36.0 0.6M581.9 301.3l2.4 4.8M563.2 300.8l35.9 2.5M594.6 302.9l2.2 4.9M576.0 300.8l35.8 4.2M607.2 304.4l2.0 5.0M588.8 300.8l35.5 5.7M619.9 305.8l1.7 5.1M614.4 300.8l-35.6 -5.6M583.3 295.9l-1.8 -5.1M627.2 300.8l-35.3 -6.9M596.2 294.8l-1.6 -5.2M640.0 300.8l-34.9 -8.8M609.4 293.1l-1.3 -5.2M652.8 300.8l-34.7 -9.5M622.4 292.5l-1.2 -5.3M665.6 300.8l-33.8 -12.5M636.0 289.8l-0.7 -5.4M678.4 300.8l-32.8 -14.9M649.7 287.7l-0.3 -5.4M691.2 300.8l-31.9 -16.7M659.3 284.1l-0.1 -10.8M704.0 300.8l-29.4 -20.8M678.2 282.6l0.7 -5.4M716.8 300.8l-17.5 -31.5M701.5 273.3l2.9 -4.5M729.6 300.8l-2.8 -35.9M727.1 269.4l4.6 -2.9M742.4 300.8l1.6 -36.0M744.0 264.8l9.7 -4.6M755.2 300.8l3.9 -35.8M758.6 269.5l5.0 -2.0M768.0 300.8l9.7 -34.7M776.5 270.5l5.3 -1.2M780.8 300.8l10.7 -34.4M791.5 266.4l10.6 -2.0M793.6 300.8l8.7 -34.9M802.3 265.9l10.5 -2.6M806.4 300.8l7.0 -35.3M812.5 269.9l5.2 -1.6M819.2 300.8l6.8 -35.3M825.2 269.9l5.2 -1.6M832.0 300.8l4.8 -35.7M836.2 269.6l5.1 -1.9M844.8 300.8l-2.0 -35.9M843.1 269.3l4.6 -2.8M857.6 300.8l-14.3 -33.0M845.1 271.9l3.4 -4.2M153.5 290.9l-36.0 1.3M117.5 292.2l-5.4 -9.3M122.0 292.0l-5.4 -9.3M166.3 290.9l-36.0 1.2M130.3 292.1l-5.4 -9.4M134.8 291.9l-5.4 -9.4M179.1 290.9l-36.0 0.8M143.1 291.6l-5.3 -9.4M147.6 291.6l-5.3 -9.4M152.1 291.5l-2.6 -4.7M191.9 290.9l-36.0 -0.7M155.9 290.1l-4.9 -9.6M160.4 290.2l-4.9 -9.6M204.7 290.9l-36.0 -0.9M168.7 289.9l-4.8 -9.7M173.2 290.1l-4.8 -9.7M177.7 290.2l-2.4 -4.8M217.5 290.9l-36.0 -1.1M181.5 289.7l-4.8 -9.7M186.0 289.9l-4.8 -9.7M230.3 290.9l-36.0 -0.7M194.3 290.2l-4.9 -9.6M198.8 290.3l-4.9 -9.6M243.1 290.9l-35.9 -2.2M207.2 288.6l-4.5 -9.8M211.7 288.9l-4.5 -9.8M255.9 290.9l-35.9 -2.8M220.0 288.1l-4.3 -9.9M224.5 288.4l-4.3 -9.9M268.7 290.9l-35.8 -3.6M232.9 287.3l-4.1 -10.0M237.4 287.7l-4.1 -10.0M241.9 288.2l-2.0 -5.0M281.5 290.9l-35.9 -3.0M245.6 287.8l-4.3 -9.9M250.1 288.2l-4.3 -9.9M254.6 288.6l-2.1 -5.0M294.3 290.9l-35.9 -2.7M258.4 288.2l-4.3 -9.9M262.9 288.5l-4.3 -9.9M307.1 290.9l-35.2 -7.8M272.0 283.1l-2.9 -10.4M276.4 284.1l-2.9 -10.4M319.9 290.9l-31.1 -18.1M288.8 272.8l0.4 -10.8M292.7 275.0l0.4 -10.8M332.7 290.9l-0.7 -36.0M332.0 254.9l9.4 -5.3M332.1 259.4l9.4 -5.3M345.5 290.9l21.1 -29.2M366.6 261.7l10.7 1.5M364.0 265.3l10.7 1.5M361.4 269.0l5.3 0.7M358.3 290.9l25.2 -25.7M383.6 265.2l10.4 3.1M380.4 268.4l10.4 3.1M371.1 290.9l26.7 -24.2M397.8 266.7l10.2 3.7M394.5 269.7l10.2 3.7M391.1 272.7l5.1 1.8M383.9 290.9l28.3 -22.3M412.2 268.6l9.9 4.3M408.7 271.4l9.9 4.3M405.1 274.1l4.9 2.2M396.7 290.9l28.8 -21.6M425.5 269.3l9.8 4.6M421.9 272.0l9.8 4.6M418.3 274.7l4.9 2.3M409.5 290.9l29.8 -20.2M439.3 270.6l9.6 5.0M435.6 273.2l9.6 5.0M422.3 290.9l30.9 -18.5M453.2 272.4l9.2 5.6M449.4 274.7l9.2 5.6M445.5 277.0l4.6 2.8M435.1 290.9l32.3 -15.9M467.5 275.0l8.8 6.3M463.4 277.0l8.8 6.3M459.4 279.0l4.4 3.2M447.9 290.9l33.2 -13.8M481.2 277.0l8.3 6.9M477.0 278.8l8.3 6.9M460.7 290.9l34.0 -11.8M494.7 279.0l7.9 7.3M490.5 280.5l7.9 7.3M486.2 282.0l4.0 3.7M473.5 290.9l34.7 -9.5M508.3 281.3l7.4 7.9M503.9 282.5l7.4 7.9M499.6 283.7l3.7 3.9M486.3 290.9l34.9 -8.9M521.2 282.0l7.3 8.0M499.1 290.9l35.3 -7.0M530.0 284.7l3.4 4.2M511.9 290.9l35.7 -4.6M547.7 286.3l6.2 8.8M524.8 290.9l35.9 -2.3M556.2 288.8l2.8 4.6M537.6 290.9l36.0 -0.7M569.0 290.2l2.6 4.7M550.4 290.9l36.0 -0.1M581.9 290.8l2.6 4.8M563.2 290.9l35.9 2.2M594.6 292.8l2.2 4.9M576.0 290.9l35.7 4.5M607.2 294.8l1.9 5.0M588.8 290.9l35.7 4.7M620.0 294.9l1.9 5.1M601.6 290.9l-35.5 -6.0M570.5 285.6l-1.7 -5.1M614.4 290.9l-35.3 -7.1M583.5 284.6l-1.5 -5.2M627.2 290.9l-35.2 -7.3M596.3 284.4l-1.5 -5.2M640.0 290.9l-34.9 -8.8M609.4 283.2l-1.3 -5.2M652.8 290.9l-34.9 -9.0M617.9 281.8l-2.5 -10.5M665.6 290.9l-34.0 -11.9M635.8 280.5l-0.8 -5.3M678.4 290.9l-32.9 -14.5M649.5 278.2l-0.4 -5.4M691.2 290.9l-31.8 -16.9M659.4 273.9l0.0 -10.8M704.0 290.9l-30.9 -18.5M676.9 274.7l0.3 -5.4M716.8 290.9l-21.6 -28.8M697.9 265.6l2.3 -4.9M729.6 290.9l3.1 -35.9M732.3 259.5l5.0 -2.1M742.4 290.9l4.8 -35.7M746.6 259.6l5.1 -1.9M755.2 290.9l1.1 -36.0M756.2 259.4l4.8 -2.4M768.0 290.9l11.8 -34.0M778.3 261.1l5.3 -0.8M780.8 290.9l6.9 -35.3M786.8 259.9l5.2 -1.6M793.6 290.9l12.7 -33.7M804.7 261.4l5.4 -0.7M806.4 290.9l8.1 -35.1M813.5 260.2l5.2 -1.4M819.2 290.9l6.4 -35.4M824.8 259.9l5.1 -1.7M832.0 290.9l2.0 -35.9M833.8 259.4l4.9 -2.3M844.8 290.9l-2.1 -35.9M842.7 254.9l9.2 -5.6M857.6 290.9l-19.3 -30.4M840.7 264.3l2.7 -4.7M153.5 280.9l-36.0 0.5M117.5 281.5l-5.2 -9.5M122.0 281.4l-5.2 -9.5M126.5 281.3l-2.6 -4.7M166.3 280.9l-36.0 0.1M130.3 281.0l-5.1 -9.5M134.8 281.0l-5.1 -9.5M139.3 281.0l-2.5 -4.8M179.1 280.9l-36.0 0.5M143.1 281.4l-5.2 -9.5M147.6 281.3l-5.2 -9.5M152.1 281.3l-2.6 -4.7M191.9 280.9l-36.0 0.6M155.9 281.5l-5.2 -9.4M160.4 281.5l-5.2 -9.4M164.9 281.4l-2.6 -4.7M204.7 280.9l-36.0 -1.3M168.7 279.7l-4.7 -9.7M173.2 279.8l-4.7 -9.7M177.7 280.0l-2.4 -4.9M217.5 280.9l-36.0 -1.0M181.5 279.9l-4.8 -9.7M186.0 280.0l-4.8 -9.7M190.5 280.2l-2.4 -4.8M230.3 280.9l-36.0 -1.6M194.3 279.3l-4.6 -9.8M198.8 279.5l-4.6 -9.8M243.1 280.9l-36.0 -1.3M207.1 279.7l-4.7 -9.7M211.6 279.8l-4.7 -9.7M255.9 280.9l-35.9 -2.6M220.0 278.4l-4.4 -9.9M224.5 278.7l-4.4 -9.9M268.7 280.9l-35.9 -2.8M232.8 278.2l-4.3 -9.9M237.3 278.5l-4.3 -9.9M281.5 280.9l-35.9 -2.8M245.6 278.1l-4.3 -9.9M250.1 278.5l-4.3 -9.9M294.3 280.9l-35.8 -4.0M258.5 276.9l-4.0 -10.0M263.0 277.4l-4.0 -10.0M307.1 280.9l-34.1 -11.5M273.0 269.5l-1.8 -10.7M277.3 270.9l-1.8 -10.7M319.9 280.9l-28.9 -21.5M291.0 259.5l1.6 -10.7M294.6 262.1l0.8 -5.3M332.7 280.9l-1.5 -36.0M331.2 245.0l9.3 -5.5M331.4 249.5l4.7 -2.7M345.5 280.9l19.2 -30.5M364.7 250.5l10.8 0.8M362.3 254.3l10.8 0.8M359.9 258.1l10.8 0.8M358.3 280.9l23.3 -27.5M381.6 253.5l10.6 2.3M378.7 256.9l10.6 2.3M375.8 260.3l5.3 1.1M371.1 280.9l25.7 -25.2M396.9 255.8l10.3 3.3M393.6 258.9l10.3 3.3M390.4 262.0l10.3 3.3M383.9 280.9l26.0 -24.9M410.0 256.1l10.3 3.4M406.7 259.2l10.3 3.4M403.5 262.3l5.1 1.7M396.7 280.9l27.4 -23.4M424.1 257.6l10.0 4.0M420.7 260.5l10.0 4.0M417.3 263.4l5.0 2.0M409.5 280.9l28.5 -22.0M438.0 259.0l9.8 4.5M434.5 261.7l9.8 4.5M430.9 264.5l4.9 2.2M422.3 280.9l30.0 -19.9M452.3 261.1l9.5 5.1M448.6 263.5l9.5 5.1M444.8 266.0l9.5 5.1M435.1 280.9l30.2 -19.6M465.3 261.3l9.4 5.2M461.6 263.8l9.4 5.2M457.8 266.2l9.4 5.2M447.9 280.9l31.4 -17.6M479.3 263.3l9.1 5.8M475.4 265.5l9.1 5.8M471.5 267.7l4.5 2.9M460.7 280.9l32.0 -16.5M492.7 264.4l8.9 6.1M488.7 266.5l8.9 6.1M484.7 268.5l8.9 6.1M473.5 280.9l32.6 -15.2M506.2 265.7l8.6 6.5M502.1 267.6l8.6 6.5M498.0 269.5l8.6 6.5M486.3 280.9l35.1 -7.9M521.5 273.1l7.0 8.2M499.1 280.9l34.6 -10.1M533.7 270.8l7.5 7.7M511.9 280.9l35.9 -2.2M543.4 279.0l2.8 4.6M524.8 280.9l35.8 -3.3M560.6 277.6l5.9 9.0M537.6 280.9l35.7 -4.3M568.8 277.2l3.1 4.4M550.4 280.9l36.0 1.4M581.8 282.1l2.4 4.9M563.2 280.9l36.0 1.4M594.6 282.2l2.3 4.9M576.0 280.9l35.9 2.3M607.4 282.9l2.2 4.9M588.8 280.9l35.4 6.8M619.7 286.9l1.6 5.2M601.6 280.9l-35.4 -6.7M570.6 275.1l-1.6 -5.2M614.4 280.9l-35.3 -7.2M583.5 274.6l-1.5 -5.2M627.2 280.9l-35.5 -6.0M596.1 275.7l-1.7 -5.1M640.0 280.9l-34.8 -9.1M609.5 273.0l-1.3 -5.3M652.8 280.9l-35.8 -3.4M621.4 277.9l-2.1 -5.0M665.6 280.9l-35.0 -8.4M634.9 273.6l-1.3 -5.2M678.4 280.9l-35.0 -8.2M643.3 272.7l-2.8 -10.4M691.2 280.9l-31.6 -17.2M663.5 265.9l0.1 -5.4M704.0 280.9l-28.3 -22.2M675.6 258.7l1.9 -10.6M716.8 280.9l-16.6 -32.0M702.3 253.0l3.1 -4.4M729.6 280.9l0.7 -36.0M730.2 249.4l4.8 -2.4M742.4 280.9l3.7 -35.8M745.6 249.6l5.0 -2.0M755.2 280.9l9.5 -34.7M763.5 250.6l5.3 -1.2M768.0 280.9l2.0 -35.9M769.7 249.5l4.9 -2.3M780.8 280.9l6.0 -35.5M786.0 249.9l5.1 -1.7M793.6 280.9l8.0 -35.1M800.5 250.2l5.2 -1.4M806.4 280.9l5.9 -35.5M811.6 249.9l5.1 -1.7M819.2 280.9l3.7 -35.8M822.4 249.6l5.0 -2.0M832.0 280.9l3.2 -35.9M834.8 249.6l5.0 -2.1M844.8 280.9l-3.0 -35.9M842.2 249.5l4.5 -2.9M857.6 280.9l-13.2 -33.5M846.0 251.6l3.5 -4.1M870.4 280.9l-33.0 -14.4M841.5 268.4l-0.4 -5.4M153.5 271.0l-36.0 -0.4M117.5 270.6l-5.0 -9.6M122.0 270.7l-5.0 -9.6M126.5 270.7l-2.5 -4.8M166.3 271.0l-36.0 0.1M130.3 271.1l-5.1 -9.5M134.8 271.1l-5.1 -9.5M139.3 271.1l-5.1 -9.5M143.8 271.1l-2.5 -4.8M179.1 271.0l-36.0 -0.7M143.1 270.3l-4.9 -9.6M147.6 270.4l-4.9 -9.6M152.1 270.5l-4.9 -9.6M156.6 270.6l-2.4 -4.8M191.9 271.0l-36.0 -0.5M155.9 270.5l-4.9 -9.6M160.4 270.6l-4.9 -9.6M164.9 270.6l-4.9 -9.6M204.7 271.0l-36.0 -0.2M168.7 270.8l-5.0 -9.6M173.2 270.9l-5.0 -9.6M177.7 270.9l-5.0 -9.6M217.5 271.0l-36.0 -1.9M181.6 269.1l-4.6 -9.8M186.1 269.4l-4.6 -9.8M190.5 269.6l-4.6 -9.8M230.3 271.0l-36.0 -1.0M194.3 270.0l-4.8 -9.7M198.8 270.1l-4.8 -9.7M203.3 270.2l-4.8 -9.7M243.1 271.0l-35.9 -2.1M207.2 269.0l-4.5 -9.8M211.7 269.2l-4.5 -9.8M216.2 269.5l-4.5 -9.8M220.6 269.7l-2.3 -4.9M255.9 271.0l-36.0 -1.2M219.9 269.8l-4.7 -9.7M224.4 269.9l-4.7 -9.7M228.9 270.1l-4.7 -9.7M233.4 270.2l-2.4 -4.9M268.7 271.0l-35.9 -2.3M232.8 268.7l-4.4 -9.8M237.3 269.0l-4.4 -9.8M241.8 269.3l-4.4 -9.8M246.3 269.6l-2.2 -4.9M281.5 271.0l-35.9 -2.1M245.6 268.9l-4.5 -9.8M250.1 269.2l-4.5 -9.8M254.6 269.5l-2.3 -4.9M294.3 271.0l-35.8 -3.7M258.5 267.3l-4.1 -10.0M263.0 267.8l-4.1 -10.0M267.5 268.3l-2.0 -5.0M307.1 271.0l-33.8 -12.3M273.3 258.7l-1.5 -10.7M277.5 260.2l-1.5 -10.7M319.9 271.0l-27.4 -23.3M292.5 247.7l2.3 -10.6M295.9 250.6l2.3 -10.6M299.3 253.5l2.3 -10.6M302.8 256.5l1.2 -5.3M332.7 271.0l0.6 -36.0M333.3 235.0l9.6 -4.9M333.2 239.5l9.6 -4.9M333.2 244.0l9.6 -4.9M333.1 248.5l4.8 -2.5M345.5 271.0l15.8 -32.3M361.4 238.7l10.8 -0.4M359.4 242.7l10.8 -0.4M357.4 246.8l10.8 -0.4M355.4 250.8l5.4 -0.2M358.3 271.0l21.5 -28.9M379.8 242.1l10.7 1.6M377.1 245.7l10.7 1.6M374.4 249.3l10.7 1.6M371.7 253.0l5.3 0.8M371.1 271.0l23.9 -26.9M395.0 244.1l10.5 2.5M392.0 247.5l10.5 2.5M389.1 250.8l10.5 2.5M386.1 254.2l10.5 2.5M383.1 257.6l10.5 2.5M383.9 271.0l24.9 -26.0M408.9 245.0l10.4 2.9M405.7 248.3l10.4 2.9M402.6 251.5l10.4 2.9M399.5 254.8l10.4 2.9M396.4 258.0l10.4 2.9M396.7 271.0l27.0 -23.8M423.8 247.2l10.1 3.8M420.4 250.2l10.1 3.8M417.0 253.2l10.1 3.8M413.6 256.2l10.1 3.8M410.2 259.1l10.1 3.8M409.5 271.0l27.7 -23.0M437.2 248.0l10.0 4.1M433.7 250.9l10.0 4.1M430.3 253.8l10.0 4.1M426.8 256.6l10.0 4.1M423.4 259.5l5.0 2.0M422.3 271.0l28.0 -22.7M450.3 248.3l9.9 4.2M446.8 251.2l9.9 4.2M443.3 254.0l9.9 4.2M439.8 256.8l5.0 2.1M435.1 271.0l28.5 -22.0M463.7 249.0l9.8 4.5M460.1 251.8l9.8 4.5M456.5 254.5l9.8 4.5M453.0 257.3l4.9 2.2M447.9 271.0l29.4 -20.8M477.3 250.2l9.7 4.8M473.6 252.8l9.7 4.8M470.0 255.4l9.7 4.8M460.7 271.0l29.5 -20.6M490.3 250.4l9.6 4.9M486.6 253.0l9.6 4.9M473.5 271.0l30.9 -18.5M504.4 252.5l9.3 5.6M500.6 254.8l9.3 5.6M486.3 271.0l33.4 -13.4M519.8 257.6l8.3 7.0M515.6 259.3l4.1 3.5M499.1 271.0l34.0 -11.8M533.2 259.2l7.9 7.3M528.9 260.7l4.0 3.7M511.9 271.0l35.7 -4.7M547.6 266.3l6.3 8.8M543.2 266.9l3.1 4.4M524.8 271.0l36.0 -0.3M560.8 270.7l5.2 9.5M537.6 271.0l36.0 -1.7M573.5 269.3l5.5 9.3M550.4 271.0l34.5 10.4M584.8 281.5l2.1 10.6M563.2 271.0l36.0 1.1M594.6 272.0l2.4 4.8M576.0 271.0l35.9 2.9M607.4 273.5l2.1 5.0M588.8 271.0l35.7 4.8M620.0 275.2l1.9 5.1M601.6 271.0l-35.4 -6.7M570.6 265.1l-1.6 -5.2M614.4 271.0l-35.3 -7.0M583.5 264.9l-1.6 -5.2M627.2 271.0l-34.8 -9.0M596.7 263.1l-1.3 -5.3M640.0 271.0l-34.9 -8.8M609.4 263.3l-1.3 -5.2M652.8 271.0l-35.9 2.8M616.9 273.8l-5.8 -9.1M665.6 271.0l-35.7 -5.0M629.9 266.1l-3.7 -10.1M678.4 271.0l-34.7 -9.5M643.7 261.5l-2.4 -10.5M691.2 271.0l-31.5 -17.5M659.7 253.5l0.2 -10.8M704.0 271.0l-25.9 -25.0M678.1 246.0l3.0 -10.4M716.8 271.0l-2.7 -35.9M714.1 235.1l9.1 -5.8M729.6 271.0l3.8 -35.8M733.4 235.2l10.0 -4.0M742.4 271.0l12.6 -33.7M755.0 237.3l10.7 -1.4M755.2 271.0l2.3 -35.9M757.5 235.1l9.8 -4.4M768.0 271.0l6.8 -35.3M774.8 235.7l10.3 -3.2M780.8 271.0l-1.9 -35.9M778.9 235.1l9.3 -5.6M793.6 271.0l3.2 -35.9M796.8 235.2l9.9 -4.2M806.4 271.0l4.6 -35.7M811.0 235.3l10.1 -3.8M819.2 271.0l2.4 -35.9M821.5 235.1l9.8 -4.4M832.0 271.0l-5.2 -35.6M826.8 235.4l8.7 -6.4M844.8 271.0l-7.1 -35.3M837.7 235.7l8.3 -6.9M857.6 271.0l-16.0 -32.3M841.6 238.8l6.3 -8.8M870.4 271.0l-32.6 -15.2M837.8 255.8l-0.6 -10.8M153.5 261.1l-36.0 0.3M117.5 261.4l-5.2 -9.5M122.0 261.4l-5.2 -9.5M126.5 261.3l-5.2 -9.5M166.3 261.1l-36.0 -0.4M130.3 260.7l-5.0 -9.6M134.8 260.7l-5.0 -9.6M139.3 260.8l-5.0 -9.6M179.1 261.1l-36.0 -0.3M143.1 260.8l-5.0 -9.6M147.6 260.9l-5.0 -9.6M152.1 260.9l-5.0 -9.6M156.6 260.9l-2.5 -4.8M191.9 261.1l-36.0 -0.6M155.9 260.5l-4.9 -9.6M160.4 260.5l-4.9 -9.6M164.9 260.6l-2.5 -4.8M204.7 261.1l-36.0 -0.6M168.7 260.5l-4.9 -9.6M173.2 260.5l-4.9 -9.6M177.7 260.6l-4.9 -9.6M217.5 261.1l-36.0 -0.9M181.5 260.2l-4.8 -9.7M186.0 260.3l-4.8 -9.7M190.5 260.4l-4.8 -9.7M195.0 260.5l-2.4 -4.8M230.3 261.1l-36.0 -0.5M194.3 260.6l-4.9 -9.6M198.8 260.7l-4.9 -9.6M203.3 260.7l-4.9 -9.6M243.1 261.1l-36.0 -1.6M207.1 259.5l-4.6 -9.8M211.6 259.7l-4.6 -9.8M216.1 259.9l-4.6 -9.8M220.6 260.1l-4.6 -9.8M255.9 261.1l-36.0 -1.3M219.9 259.8l-4.7 -9.7M224.4 260.0l-4.7 -9.7M228.9 260.1l-4.7 -9.7M268.7 261.1l-36.0 -1.5M232.7 259.6l-4.7 -9.7M237.2 259.8l-4.7 -9.7M241.7 260.0l-4.7 -9.7M246.2 260.1l-4.7 -9.7M281.5 261.1l-35.9 -2.4M245.6 258.7l-4.4 -9.9M250.1 259.0l-4.4 -9.9M254.6 259.3l-4.4 -9.9M259.1 259.6l-2.2 -4.9M294.3 261.1l-35.9 -3.1M258.5 258.0l-4.2 -9.9M262.9 258.4l-4.2 -9.9M267.4 258.8l-4.2 -9.9M271.9 259.2l-4.2 -9.9M307.1 261.1l-34.1 -11.5M273.0 249.6l-1.8 -10.7M277.3 251.0l-1.8 -10.7M319.9 261.1l-26.7 -24.1M293.2 237.0l2.6 -10.5M296.6 240.0l2.6 -10.5M299.9 243.0l2.6 -10.5M332.7 261.1l-2.8 -35.9M329.9 225.2l9.1 -5.8M330.3 229.7l9.1 -5.8M330.6 234.2l9.1 -5.8M331.0 238.7l9.1 -5.8M345.5 261.1l10.1 -34.5M355.7 226.6l10.6 -2.2M354.4 230.9l10.6 -2.2M353.1 235.2l10.6 -2.2M351.9 239.5l10.6 -2.2M358.3 261.1l19.7 -30.2M378.0 230.9l10.8 1.0M375.5 234.7l10.8 1.0M373.1 238.5l10.8 1.0M370.6 242.3l5.4 0.5M371.1 261.1l21.8 -28.6M392.9 232.5l10.7 1.7M390.2 236.0l10.7 1.7M387.5 239.6l10.7 1.7M384.8 243.2l10.7 1.7M382.0 246.8l5.3 0.9M383.9 261.1l24.8 -26.1M408.7 235.0l10.4 2.9M405.6 238.2l10.4 2.9M402.5 241.5l10.4 2.9M399.4 244.8l10.4 2.9M396.3 248.0l10.4 2.9M396.7 261.1l26.1 -24.8M422.8 236.3l10.3 3.4M419.5 239.4l10.3 3.4M416.3 242.5l10.3 3.4M413.0 245.6l10.3 3.4M409.8 248.7l5.1 1.7M409.5 261.1l26.9 -23.9M436.5 237.2l10.1 3.8M433.1 240.2l10.1 3.8M429.7 243.2l10.1 3.8M426.4 246.2l5.1 1.9M422.3 261.1l27.9 -22.7M450.3 238.4l10.0 4.2M446.8 241.2l10.0 4.2M443.3 244.1l10.0 4.2M439.8 246.9l10.0 4.2M435.1 261.1l28.3 -22.3M463.4 238.8l9.9 4.3M459.9 241.6l9.9 4.3M456.3 244.4l9.9 4.3M452.8 247.2l4.9 2.2M447.9 261.1l27.1 -23.7M475.0 237.4l10.1 3.8M471.7 240.4l10.1 3.8M468.3 243.3l10.1 3.8M460.7 261.1l28.0 -22.6M488.7 238.5l9.9 4.2M485.2 241.3l9.9 4.2M481.7 244.1l9.9 4.2M473.5 261.1l28.0 -22.6M501.5 238.5l9.9 4.2M498.0 241.3l9.9 4.2M494.5 244.1l5.0 2.1M486.3 261.1l31.4 -17.6M517.7 243.5l9.1 5.8M513.8 245.7l9.1 5.8M499.1 261.1l32.8 -14.8M531.9 246.3l8.6 6.6M527.8 248.1l4.3 3.3M511.9 261.1l35.6 -5.3M547.6 255.8l6.4 8.7M524.8 261.1l35.8 3.5M560.6 264.6l4.1 10.0M537.6 261.1l36.0 0.6M573.5 261.7l4.9 9.6M550.4 261.1l33.5 13.3M583.8 274.4l1.2 10.7M563.2 261.1l31.9 16.7M591.1 275.7l0.0 5.4M576.0 261.1l24.4 26.5M597.3 284.3l-1.8 5.1M588.8 261.1l9.8 34.6M597.3 291.4l-3.9 3.7M601.6 261.1l-2.2 35.9M599.6 292.5l-4.9 2.2M614.4 261.1l-13.0 33.6M602.9 290.5l-5.4 0.6M627.2 261.1l-27.9 22.8M602.8 281.0l-5.0 -2.1M640.0 261.1l-33.4 13.3M610.7 272.7l-4.1 -3.5M652.8 261.1l-35.3 6.8M617.4 267.9l-6.8 -8.4M665.6 261.1l-35.7 4.4M629.8 265.5l-6.2 -8.8M678.4 261.1l-35.8 -3.3M642.5 257.8l-4.2 -10.0M691.2 261.1l-32.4 -15.6M658.7 245.5l-0.4 -10.8M704.0 261.1l-26.4 -24.5M677.6 236.6l2.8 -10.4M716.8 261.1l4.8 -35.7M721.6 225.4l10.1 -3.7M729.6 261.1l4.7 -35.7M734.3 225.4l10.1 -3.8M742.4 261.1l15.3 -32.6M757.7 228.5l10.8 -0.5M755.2 261.1l2.3 -35.9M757.5 225.2l9.8 -4.5M768.0 261.1l-1.3 -36.0M766.7 225.1l9.3 -5.4M780.8 261.1l2.1 -35.9M782.9 225.2l9.8 -4.5M793.6 261.1l6.4 -35.4M800.0 225.7l10.3 -3.3M806.4 261.1l6.3 -35.5M812.6 225.6l10.3 -3.3M819.2 261.1l3.0 -35.9M822.2 225.2l9.9 -4.2M832.0 261.1l-3.7 -35.8M828.3 225.3l9.0 -6.0M844.8 261.1l-8.3 -35.0M836.5 226.1l8.1 -7.1M857.6 261.1l-19.1 -30.5M838.5 230.6l5.4 -9.4M870.4 261.1l-31.3 -17.9M839.1 243.2l0.3 -10.8M153.5 251.2l-36.0 -0.4M117.5 250.8l-5.0 -9.6M122.0 250.8l-5.0 -9.6M126.5 250.9l-5.0 -9.6M131.0 250.9l-5.0 -9.6M166.3 251.2l-36.0 0.1M130.3 251.3l-5.1 -9.5M134.8 251.3l-5.1 -9.5M139.3 251.3l-5.1 -9.5M179.1 251.2l-36.0 0.4M143.1 251.6l-5.2 -9.5M147.6 251.5l-5.2 -9.5M152.1 251.5l-5.2 -9.5M191.9 251.2l-36.0 -0.2M155.9 251.0l-5.0 -9.6M160.4 251.0l-5.0 -9.6M164.9 251.0l-5.0 -9.6M169.4 251.1l-2.5 -4.8M204.7 251.2l-36.0 -1.0M168.7 250.2l-4.8 -9.7M173.2 250.3l-4.8 -9.7M177.7 250.4l-2.4 -4.8M217.5 251.2l-36.0 -1.3M181.5 249.9l-4.7 -9.7M186.0 250.1l-4.7 -9.7M190.5 250.2l-4.7 -9.7M230.3 251.2l-36.0 -1.4M194.3 249.7l-4.7 -9.7M198.8 249.9l-4.7 -9.7M203.3 250.1l-4.7 -9.7M207.8 250.3l-4.7 -9.7M243.1 251.2l-35.9 -1.9M207.2 249.2l-4.6 -9.8M211.7 249.5l-4.6 -9.8M216.2 249.7l-4.6 -9.8M220.6 250.0l-2.3 -4.9M255.9 251.2l-36.0 -1.4M219.9 249.7l-4.7 -9.7M224.4 249.9l-4.7 -9.7M228.9 250.1l-4.7 -9.7M268.7 251.2l-35.9 -2.1M232.8 249.0l-4.5 -9.8M237.3 249.3l-4.5 -9.8M241.8 249.6l-4.5 -9.8M281.5 251.2l-36.0 -1.5M245.5 249.7l-4.7 -9.7M250.0 249.9l-4.7 -9.7M254.5 250.1l-4.7 -9.7M294.3 251.2l-35.9 -2.6M258.4 248.6l-4.4 -9.9M262.9 248.9l-4.4 -9.9M267.4 249.3l-4.4 -9.9M307.1 251.2l-34.6 -9.9M272.5 241.2l-2.2 -10.6M276.8 242.5l-2.2 -10.6M281.2 243.7l-2.2 -10.6M319.9 251.2l-25.8 -25.1M294.1 226.1l3.0 -10.4M297.3 229.3l3.0 -10.4M300.5 232.4l3.0 -10.4M332.7 251.2l1.4 -36.0M334.1 215.2l9.7 -4.7M334.0 219.7l9.7 -4.7M333.8 224.2l9.7 -4.7M333.6 228.7l9.7 -4.7M345.5 251.2l11.8 -34.0M357.4 217.2l10.7 -1.7M355.9 221.4l10.7 -1.7M354.4 225.7l10.7 -1.7M352.9 229.9l10.7 -1.7M358.3 251.2l21.0 -29.3M379.3 221.9l10.7 1.4M376.7 225.6l10.7 1.4M374.0 229.2l10.7 1.4M371.4 232.9l10.7 1.4M368.8 236.5l5.4 0.7M371.1 251.2l22.2 -28.3M393.3 222.9l10.6 1.9M390.6 226.4l10.6 1.9M387.8 229.9l10.6 1.9M385.0 233.5l10.6 1.9M383.9 251.2l23.6 -27.2M407.5 224.0l10.5 2.4M404.6 227.4l10.5 2.4M401.6 230.8l10.5 2.4M398.7 234.2l10.5 2.4M395.7 237.6l10.5 2.4M396.7 251.2l26.8 -24.1M423.5 227.1l10.1 3.7M420.2 230.1l10.1 3.7M416.8 233.1l10.1 3.7M413.5 236.1l10.1 3.7M410.1 239.2l5.1 1.9M409.5 251.2l27.6 -23.1M437.1 228.0l10.0 4.0M433.7 230.9l10.0 4.0M430.2 233.8l10.0 4.0M426.8 236.7l10.0 4.0M422.3 251.2l27.6 -23.1M450.0 228.1l10.0 4.1M446.5 231.0l10.0 4.1M443.1 233.9l10.0 4.1M439.6 236.8l5.0 2.0M435.1 251.2l27.3 -23.5M462.4 227.7l10.1 3.9M459.0 230.6l10.1 3.9M455.6 233.6l10.1 3.9M452.2 236.5l10.1 3.9M447.9 251.2l26.8 -24.0M474.7 227.1l10.1 3.7M471.4 230.2l10.1 3.7M468.0 233.2l10.1 3.7M464.7 236.2l10.1 3.7M460.7 251.2l26.8 -24.1M487.5 227.1l10.1 3.7M484.2 230.1l10.1 3.7M480.8 233.1l5.1 1.8M473.5 251.2l28.0 -22.6M501.6 228.6l9.9 4.2M498.1 231.4l9.9 4.2M494.6 234.2l5.0 2.1M486.3 251.2l30.6 -19.0M517.0 232.2l9.3 5.4M513.1 234.6l9.3 5.4M499.1 251.2l35.1 -7.9M534.3 243.3l7.0 8.2M529.9 244.3l3.5 4.1M511.9 251.2l35.6 -5.7M547.5 245.5l6.5 8.6M543.1 246.2l3.3 4.3M524.8 251.2l36.0 1.7M560.7 252.9l4.6 9.8M537.6 251.2l35.3 7.2M572.8 258.4l3.1 10.4M550.4 251.2l33.6 13.0M583.9 264.2l1.3 10.7M563.2 251.2l32.4 15.7M591.5 264.9l0.2 5.4M576.0 251.2l23.3 27.4M596.4 275.2l-2.0 5.0M588.8 251.2l11.4 34.1M598.8 281.0l-3.7 3.9M601.6 251.2l-2.1 35.9M599.7 282.6l-4.9 2.3M614.4 251.2l-13.5 33.4M602.6 280.4l-5.4 0.6M627.2 251.2l-28.0 22.6M602.6 270.9l-5.0 -2.1M640.0 251.2l-33.9 12.1M610.3 261.8l-4.0 -3.6M652.8 251.2l-33.7 12.7M619.1 263.8l-8.1 -7.1M665.6 251.2l-36.0 -1.7M629.6 249.5l-4.6 -9.8M678.4 251.2l-35.8 -4.0M642.6 247.2l-4.0 -10.0M691.2 251.2l-32.1 -16.2M659.0 234.9l-0.2 -10.8M704.0 251.2l-23.6 -27.2M680.4 224.0l3.9 -10.1M716.8 251.2l4.9 -35.7M721.7 215.5l10.1 -3.7M729.6 251.2l12.6 -33.7M742.2 217.5l10.7 -1.4M742.4 251.2l13.9 -33.2M756.3 218.0l10.8 -1.0M755.2 251.2l4.5 -35.7M759.7 215.5l10.1 -3.8M768.0 251.2l1.9 -35.9M769.9 215.2l9.8 -4.5M780.8 251.2l3.0 -35.9M783.8 215.3l9.9 -4.3M793.6 251.2l2.3 -35.9M795.8 215.3l9.8 -4.5M806.4 251.2l2.0 -35.9M808.4 215.2l9.8 -4.5M819.2 251.2l-1.4 -36.0M817.8 215.2l9.3 -5.4M832.0 251.2l-8.3 -35.0M823.7 216.2l8.1 -7.1M844.8 251.2l-8.9 -34.9M835.9 216.3l8.0 -7.3M857.6 251.2l-24.1 -26.7M833.5 224.5l3.7 -10.2M870.4 251.2l-31.9 -16.7M838.5 234.5l-0.1 -10.8M153.5 241.3l-36.0 -0.7M117.5 240.6l-4.9 -9.6M122.0 240.7l-4.9 -9.6M126.5 240.8l-4.9 -9.6M131.0 240.8l-2.4 -4.8M166.3 241.3l-36.0 0.2M130.3 241.5l-5.1 -9.5M134.8 241.4l-5.1 -9.5M139.3 241.4l-5.1 -9.5M143.8 241.4l-2.6 -4.8M179.1 241.3l-36.0 -1.1M143.1 240.2l-4.8 -9.7M147.6 240.3l-4.8 -9.7M152.1 240.4l-4.8 -9.7M191.9 241.3l-36.0 -1.6M155.9 239.7l-4.7 -9.7M160.4 239.9l-4.7 -9.7M164.9 240.1l-2.3 -4.9M204.7 241.3l-36.0 -1.3M168.7 240.0l-4.7 -9.7M173.2 240.2l-4.7 -9.7M177.7 240.3l-4.7 -9.7M182.2 240.5l-2.4 -4.9M217.5 241.3l-36.0 -0.8M181.5 240.4l-4.8 -9.7M186.0 240.5l-4.8 -9.7M190.5 240.6l-4.8 -9.7M195.0 240.7l-2.4 -4.8M230.3 241.3l-35.9 -2.2M194.4 239.1l-4.5 -9.8M198.9 239.4l-4.5 -9.8M203.4 239.6l-4.5 -9.8M243.1 241.3l-35.9 -2.3M207.2 238.9l-4.4 -9.8M211.7 239.2l-4.4 -9.8M216.2 239.5l-4.4 -9.8M255.9 241.3l-35.9 -2.5M220.0 238.8l-4.4 -9.9M224.5 239.1l-4.4 -9.9M229.0 239.4l-4.4 -9.9M233.5 239.7l-2.2 -4.9M268.7 241.3l-35.9 -2.3M232.8 239.0l-4.5 -9.8M237.3 239.2l-4.5 -9.8M241.8 239.5l-4.5 -9.8M281.5 241.3l-35.9 -1.9M245.6 239.4l-4.6 -9.8M250.1 239.6l-4.6 -9.8M254.6 239.8l-4.6 -9.8M259.0 240.1l-2.3 -4.9M294.3 241.3l-36.0 -1.6M258.4 239.7l-4.6 -9.7M262.8 239.9l-4.6 -9.7M267.3 240.1l-4.6 -9.7M307.1 241.3l-34.1 -11.5M273.0 229.8l-1.8 -10.7M277.3 231.2l-1.8 -10.7M281.5 232.7l-1.8 -10.7M319.9 241.3l-25.1 -25.8M294.8 215.5l3.3 -10.3M297.9 218.7l3.3 -10.3M301.1 221.9l3.3 -10.3M332.7 241.3l-1.8 -36.0M330.9 205.3l9.3 -5.5M331.1 209.8l9.3 -5.5M331.4 214.3l9.3 -5.5M345.5 241.3l11.2 -34.2M356.7 207.0l10.6 -1.9M355.3 211.3l10.6 -1.9M353.9 215.6l10.6 -1.9M352.5 219.9l10.6 -1.9M358.3 241.3l20.7 -29.4M379.1 211.8l10.7 1.4M376.5 215.5l10.7 1.4M373.9 219.2l10.7 1.4M371.3 222.9l10.7 1.4M371.1 241.3l22.7 -28.0M393.8 213.3l10.6 2.1M391.0 216.8l10.6 2.1M388.1 220.3l10.6 2.1M385.3 223.8l10.6 2.1M383.9 241.3l25.1 -25.8M409.1 215.5l10.4 3.0M405.9 218.7l10.4 3.0M402.8 221.9l10.4 3.0M399.6 225.2l10.4 3.0M396.5 228.4l10.4 3.0M396.7 241.3l26.7 -24.1M423.5 217.1l10.2 3.7M420.1 220.2l10.2 3.7M416.8 223.2l10.2 3.7M413.4 226.2l10.2 3.7M410.1 229.2l5.1 1.8M409.5 241.3l27.4 -23.3M437.0 218.0l10.0 4.0M433.6 220.9l10.0 4.0M430.1 223.8l10.0 4.0M426.7 226.7l10.0 4.0M422.3 241.3l28.0 -22.6M450.4 218.7l9.9 4.2M446.9 221.5l9.9 4.2M443.4 224.3l9.9 4.2M439.9 227.1l5.0 2.1M435.1 241.3l27.8 -22.9M462.9 218.4l10.0 4.1M459.4 221.2l10.0 4.1M456.0 224.1l10.0 4.1M452.5 227.0l5.0 2.1M447.9 241.3l27.6 -23.1M475.5 218.2l10.0 4.1M472.1 221.0l10.0 4.1M468.6 223.9l10.0 4.1M460.7 241.3l27.2 -23.6M487.9 217.6l10.1 3.9M484.5 220.6l10.1 3.9M481.1 223.5l5.0 1.9M473.5 241.3l29.3 -20.9M502.8 220.3l9.7 4.8M499.2 222.9l9.7 4.8M486.3 241.3l29.1 -21.2M515.5 220.1l9.7 4.7M511.8 222.7l4.9 2.4M499.1 241.3l33.6 -13.0M532.7 228.3l8.2 7.1M528.5 229.9l8.2 7.1M511.9 241.3l35.6 -5.3M547.6 235.9l6.4 8.7M524.8 241.3l36.0 0.2M560.8 241.5l5.0 9.6M537.6 241.3l35.9 3.2M573.4 244.5l4.2 9.9M550.4 241.3l34.2 11.4M584.5 252.7l1.8 10.7M563.2 241.3l32.1 16.4M591.2 255.6l0.1 5.4M576.0 241.3l23.1 27.6M596.1 265.4l-2.0 5.0M588.8 241.3l10.3 34.5M597.8 271.4l-3.8 3.8M601.6 241.3l-0.4 36.0M601.2 272.8l-4.8 2.5M614.4 241.3l-13.1 33.5M602.9 270.6l-5.4 0.6M627.2 241.3l-27.7 23.0M602.9 261.4l-5.0 -2.1M640.0 241.3l-33.8 12.3M610.4 252.0l-4.0 -3.6M652.8 241.3l-34.1 11.6M618.7 252.9l-7.9 -7.4M665.6 241.3l-36.0 1.3M629.6 242.5l-5.4 -9.4M678.4 241.3l-36.0 -1.5M642.4 239.8l-4.7 -9.7M691.2 241.3l-31.9 -16.7M659.3 224.5l-0.1 -10.8M704.0 241.3l-21.6 -28.8M682.4 212.5l4.6 -9.8M716.8 241.3l0.6 -36.0M717.4 205.3l9.6 -4.9M729.6 241.3l7.7 -35.2M737.3 206.1l10.4 -2.9M742.4 241.3l9.9 -34.6M752.3 206.6l10.6 -2.3M755.2 241.3l6.4 -35.4M761.6 205.8l10.3 -3.3M768.0 241.3l-1.3 -36.0M766.7 205.3l9.3 -5.4M780.8 241.3l-1.6 -36.0M779.1 205.3l9.3 -5.5M793.6 241.3l-1.3 -36.0M792.2 205.3l9.3 -5.4M806.4 241.3l2.7 -35.9M809.1 205.4l9.9 -4.3M819.2 241.3l-0.4 -36.0M818.8 205.3l9.5 -5.2M832.0 241.3l-3.1 -35.9M828.9 205.4l9.1 -5.9M844.8 241.3l-6.1 -35.5M838.7 205.8l8.5 -6.6M857.6 241.3l-23.2 -27.6M834.4 213.7l4.0 -10.0M870.4 241.3l-30.4 -19.3M840.0 222.0l0.8 -10.8M153.5 231.3l-36.0 0.3M117.5 231.6l-5.2 -9.5M122.0 231.6l-5.2 -9.5M126.5 231.6l-5.2 -9.5M166.3 231.3l-36.0 -1.0M130.3 230.4l-4.8 -9.7M134.8 230.5l-4.8 -9.7M139.3 230.6l-2.4 -4.8M179.1 231.3l-36.0 -0.8M143.1 230.5l-4.9 -9.6M147.6 230.6l-4.9 -9.6M152.1 230.7l-4.9 -9.6M156.6 230.8l-2.4 -4.8M191.9 231.3l-36.0 -0.6M155.9 230.8l-4.9 -9.6M160.4 230.9l-4.9 -9.6M164.9 230.9l-4.9 -9.6M169.4 231.0l-2.5 -4.8M204.7 231.3l-36.0 -1.4M168.7 229.9l-4.7 -9.7M173.2 230.1l-4.7 -9.7M177.7 230.3l-4.7 -9.7M217.5 231.3l-36.0 -1.0M181.5 230.3l-4.8 -9.7M186.0 230.4l-4.8 -9.7M190.5 230.6l-4.8 -9.7M230.3 231.3l-35.9 -2.0M194.4 229.3l-4.5 -9.8M198.9 229.6l-4.5 -9.8M203.4 229.8l-4.5 -9.8M207.8 230.1l-2.3 -4.9M243.1 231.3l-36.0 -1.6M207.1 229.7l-4.6 -9.8M211.6 229.9l-4.6 -9.8M216.1 230.1l-2.3 -4.9M255.9 231.3l-36.0 -1.9M220.0 229.5l-4.6 -9.8M224.5 229.7l-4.6 -9.8M229.0 229.9l-2.3 -4.9M268.7 231.3l-36.0 -1.6M232.8 229.7l-4.6 -9.8M237.2 229.9l-4.6 -9.8M241.7 230.1l-4.6 -9.8M246.2 230.3l-2.3 -4.9M281.5 231.3l-35.9 -2.2M245.6 229.1l-4.5 -9.8M250.1 229.4l-4.5 -9.8M254.6 229.7l-4.5 -9.8M294.3 231.3l-35.9 -2.6M258.4 228.7l-4.4 -9.9M262.9 229.0l-4.4 -9.9M267.4 229.4l-4.4 -9.9M307.1 231.3l-33.4 -13.3M273.7 218.0l-1.2 -10.7M277.9 219.7l-1.2 -10.7M282.0 221.3l-0.6 -5.4M319.9 231.3l-24.3 -26.5M295.6 204.8l3.6 -10.2M298.6 208.1l3.6 -10.2M301.7 211.4l3.6 -10.2M332.7 231.3l0.9 -36.0M333.6 195.4l9.7 -4.8M333.5 199.8l9.7 -4.8M333.4 204.3l9.7 -4.8M333.3 208.8l4.8 -2.4M345.5 231.3l11.7 -34.1M357.2 197.3l10.7 -1.7M355.7 201.5l10.7 -1.7M354.3 205.8l10.7 -1.7M352.8 210.1l10.7 -1.7M358.3 231.3l20.5 -29.6M378.8 201.8l10.7 1.3M376.3 205.5l10.7 1.3M373.7 209.1l10.7 1.3M371.1 212.8l10.7 1.3M371.1 231.3l22.8 -27.9M393.9 203.5l10.6 2.1M391.1 206.9l10.6 2.1M388.2 210.4l10.6 2.1M385.4 213.9l10.6 2.1M382.5 217.4l5.3 1.1M383.9 231.3l23.7 -27.1M407.6 204.2l10.5 2.4M404.6 207.6l10.5 2.4M401.7 211.0l10.5 2.4M398.7 214.4l10.5 2.4M396.7 231.3l25.8 -25.1M422.6 206.3l10.3 3.3M419.3 209.4l10.3 3.3M416.1 212.5l10.3 3.3M412.9 215.7l10.3 3.3M409.6 218.8l5.1 1.7M409.5 231.3l26.7 -24.1M436.3 207.2l10.2 3.7M432.9 210.2l10.2 3.7M429.6 213.3l10.2 3.7M426.2 216.3l10.2 3.7M422.3 231.3l27.3 -23.5M449.6 207.8l10.1 3.9M446.2 210.8l10.1 3.9M442.8 213.7l10.1 3.9M439.4 216.6l5.0 2.0M435.1 231.3l28.0 -22.7M463.1 208.7l9.9 4.2M459.6 211.5l9.9 4.2M456.1 214.3l9.9 4.2M452.6 217.2l9.9 4.2M447.9 231.3l27.5 -23.3M475.4 208.1l10.0 4.0M472.0 211.0l10.0 4.0M468.5 213.9l10.0 4.0M460.7 231.3l28.3 -22.3M489.0 209.0l9.9 4.3M485.5 211.8l9.9 4.3M481.9 214.6l9.9 4.3M473.5 231.3l28.7 -21.7M502.3 209.7l9.8 4.6M498.7 212.4l9.8 4.6M495.1 215.1l4.9 2.3M486.3 231.3l31.9 -16.6M518.3 214.7l8.9 6.1M514.3 216.8l8.9 6.1M499.1 231.3l33.7 -12.6M532.9 218.7l8.1 7.1M528.6 220.3l8.1 7.1M511.9 231.3l34.4 -10.6M546.3 220.7l7.7 7.6M524.8 231.3l36.0 -1.0M560.7 230.3l5.3 9.4M537.6 231.3l36.0 1.8M573.5 233.1l4.6 9.8M550.4 231.3l34.1 11.5M584.5 242.8l1.8 10.7M563.2 231.3l31.3 17.7M590.6 246.8l-0.1 5.4M576.0 231.3l24.3 26.6M597.2 254.6l-1.8 5.1M588.8 231.3l10.6 34.4M598.0 261.5l-3.8 3.8M601.6 231.3l0.1 36.0M601.6 262.8l-4.8 2.5M614.4 231.3l-13.3 33.5M602.8 260.6l-5.4 0.6M627.2 231.3l-26.7 24.2M603.8 252.5l-5.1 -1.8M640.0 231.3l-33.7 12.6M610.5 242.4l-4.0 -3.6M652.8 231.3l-34.7 9.5M618.0 240.8l-7.4 -7.9M665.6 231.3l-35.5 5.7M630.0 237.1l-6.5 -8.6M678.4 231.3l-36.0 -0.3M642.4 231.0l-5.0 -9.6M691.2 231.3l-34.3 -10.9M656.9 220.5l-2.0 -10.6M704.0 231.3l-28.1 -22.5M675.9 208.8l2.0 -10.6M716.8 231.3l3.2 -35.9M720.0 195.5l10.0 -4.2M729.6 231.3l6.8 -35.3M736.4 196.0l10.3 -3.2M742.4 231.3l16.3 -32.1M758.7 199.2l10.8 -0.2M755.2 231.3l6.9 -35.3M762.0 196.0l10.3 -3.2M768.0 231.3l3.2 -35.9M771.1 195.5l9.9 -4.2M780.8 231.3l3.9 -35.8M784.6 195.5l10.0 -4.0M793.6 231.3l5.1 -35.6M798.7 195.7l10.2 -3.7M806.4 231.3l7.7 -35.2M814.1 196.2l10.4 -2.9M819.2 231.3l-1.6 -36.0M817.6 195.4l9.3 -5.5M832.0 231.3l-7.2 -35.3M824.8 196.1l8.3 -6.9M844.8 231.3l-10.9 -34.3M833.9 197.0l7.6 -7.7M857.6 231.3l-23.2 -27.6M834.4 203.8l4.0 -10.0M870.4 231.3l-33.0 -14.5M837.4 216.9l-0.8 -10.8M153.5 221.4l-36.0 0.5M117.5 221.9l-5.2 -9.5M122.0 221.9l-5.2 -9.5M126.5 221.8l-2.6 -4.7M166.3 221.4l-36.0 -1.1M130.3 220.4l-4.8 -9.7M134.8 220.5l-4.8 -9.7M139.3 220.6l-4.8 -9.7M179.1 221.4l-36.0 -0.7M143.1 220.7l-4.9 -9.6M147.6 220.8l-4.9 -9.6M152.1 220.9l-4.9 -9.6M191.9 221.4l-36.0 -1.2M155.9 220.3l-4.8 -9.7M160.4 220.4l-4.8 -9.7M164.9 220.5l-2.4 -4.8M204.7 221.4l-36.0 -1.1M168.7 220.3l-4.8 -9.7M173.2 220.4l-4.8 -9.7M177.7 220.6l-4.8 -9.7M217.5 221.4l-36.0 -0.3M181.5 221.2l-5.0 -9.6M186.0 221.2l-5.0 -9.6M190.5 221.2l-2.5 -4.8M230.3 221.4l-36.0 -1.2M194.3 220.2l-4.8 -9.7M198.8 220.4l-4.8 -9.7M203.3 220.5l-2.4 -4.8M243.1 221.4l-35.9 -2.0M207.2 219.4l-4.5 -9.8M211.7 219.6l-4.5 -9.8M216.2 219.9l-4.5 -9.8M255.9 221.4l-35.9 -2.5M220.0 218.9l-4.4 -9.9M224.5 219.2l-4.4 -9.9M229.0 219.6l-4.4 -9.9M268.7 221.4l-36.0 -1.7M232.8 219.7l-4.6 -9.8M237.3 219.9l-4.6 -9.8M281.5 221.4l-36.0 -1.4M245.5 220.0l-4.7 -9.7M250.0 220.2l-4.7 -9.7M254.5 220.3l-2.3 -4.9M294.3 221.4l-35.9 -2.3M258.4 219.1l-4.5 -9.8M262.9 219.4l-4.5 -9.8M267.4 219.7l-2.2 -4.9M307.1 221.4l-34.8 -9.1M272.3 212.3l-2.5 -10.5M276.7 213.4l-2.5 -10.5M281.0 214.6l-1.2 -5.3M319.9 221.4l-26.8 -24.0M293.1 197.4l2.6 -10.5M296.5 200.4l2.6 -10.5M299.8 203.4l1.3 -5.2M332.7 221.4l-1.4 -36.0M331.3 185.4l9.3 -5.4M331.5 189.9l9.3 -5.4M331.6 194.4l9.3 -5.4M345.5 221.4l12.0 -34.0M357.5 187.5l10.7 -1.6M356.0 191.7l10.7 -1.6M354.5 196.0l10.7 -1.6M353.0 200.2l10.7 -1.6M358.3 221.4l19.7 -30.1M378.0 191.3l10.8 1.0M375.6 195.1l10.8 1.0M373.1 198.8l10.8 1.0M370.6 202.6l10.8 1.0M368.2 206.4l5.4 0.5M371.1 221.4l21.8 -28.6M393.0 192.8l10.7 1.8M390.2 196.4l10.7 1.8M387.5 200.0l10.7 1.8M384.8 203.5l10.7 1.8M382.1 207.1l5.3 0.9M383.9 221.4l24.3 -26.6M408.2 194.8l10.5 2.7M405.2 198.2l10.5 2.7M402.1 201.5l10.5 2.7M399.1 204.8l5.2 1.3M396.7 221.4l25.9 -25.0M422.7 196.4l10.3 3.3M419.4 199.6l10.3 3.3M416.2 202.7l10.3 3.3M412.9 205.8l10.3 3.3M409.5 221.4l27.5 -23.3M437.0 198.2l10.0 4.0M433.6 201.1l10.0 4.0M430.1 204.0l10.0 4.0M426.7 206.9l10.0 4.0M422.3 221.4l27.6 -23.1M449.9 198.3l10.0 4.0M446.5 201.2l10.0 4.0M443.0 204.1l10.0 4.0M439.6 207.0l5.0 2.0M435.1 221.4l27.2 -23.5M462.4 197.9l10.1 3.9M459.0 200.8l10.1 3.9M455.6 203.8l10.1 3.9M452.2 206.7l5.0 2.0M447.9 221.4l27.6 -23.1M475.5 198.3l10.0 4.1M472.1 201.2l10.0 4.1M468.6 204.1l5.0 2.0M460.7 221.4l27.6 -23.1M488.3 198.3l10.0 4.1M484.9 201.2l10.0 4.1M481.4 204.1l10.0 4.1M473.5 221.4l27.8 -22.9M501.4 198.6l10.0 4.1M497.9 201.4l10.0 4.1M494.4 204.3l5.0 2.1M486.3 221.4l33.2 -13.9M519.6 207.5l8.4 6.8M515.4 209.3l4.2 3.4M499.1 221.4l34.4 -10.5M533.6 210.9l7.6 7.6M529.3 212.2l3.8 3.8M511.9 221.4l34.3 -10.9M546.3 210.5l7.7 7.5M542.0 211.9l3.9 3.8M524.8 221.4l35.6 -5.6M560.3 215.8l6.5 8.6M537.6 221.4l36.0 0.7M573.5 222.1l4.9 9.6M550.4 221.4l33.1 14.2M583.5 235.6l0.9 10.8M563.2 221.4l32.2 16.2M591.3 235.6l0.1 5.4M576.0 221.4l24.4 26.5M597.3 244.6l-1.8 5.1M588.8 221.4l12.4 33.8M599.6 251.0l-3.6 4.0M601.6 221.4l-1.3 36.0M600.5 252.9l-4.9 2.4M614.4 221.4l-15.5 32.5M600.8 249.9l-5.4 0.2M627.2 221.4l-26.5 24.4M604.0 242.7l-5.1 -1.8M640.0 221.4l-33.9 12.1M610.3 232.0l-4.0 -3.6M652.8 221.4l-34.1 11.6M618.7 233.0l-7.9 -7.4M665.6 221.4l-35.8 3.3M629.7 224.7l-5.9 -9.0M678.4 221.4l-36.0 -1.8M642.4 219.7l-4.6 -9.8M691.2 221.4l-31.6 -17.2M659.6 204.2l0.1 -10.8M704.0 221.4l-27.1 -23.7M676.9 197.7l2.5 -10.5M716.8 221.4l-2.2 -35.9M714.5 185.5l9.2 -5.7M729.6 221.4l10.7 -34.4M740.2 187.0l10.6 -2.0M742.4 221.4l18.4 -31.0M760.7 190.5l10.8 0.5M755.2 221.4l9.5 -34.7M764.7 186.7l10.5 -2.4M768.0 221.4l0.8 -36.0M768.8 185.4l9.6 -4.9M780.8 221.4l-1.6 -36.0M779.2 185.5l9.3 -5.5M793.6 221.4l5.5 -35.6M799.1 185.8l10.2 -3.6M806.4 221.4l8.7 -34.9M815.1 186.5l10.5 -2.6M819.2 221.4l4.6 -35.7M823.8 185.7l10.1 -3.8M832.0 221.4l-6.5 -35.4M825.5 186.0l8.5 -6.7M844.8 221.4l-7.3 -35.3M837.5 186.2l8.3 -6.9M857.6 221.4l-19.3 -30.4M838.3 191.0l5.3 -9.4M870.4 221.4l-31.1 -18.1M839.3 203.3l0.4 -10.8M153.5 211.5l-36.0 -0.6M117.5 210.9l-4.9 -9.6M122.0 211.0l-4.9 -9.6M126.5 211.0l-2.5 -4.8M166.3 211.5l-36.0 -0.6M130.3 210.9l-4.9 -9.6M134.8 211.0l-4.9 -9.6M139.3 211.0l-2.5 -4.8M179.1 211.5l-36.0 -0.0M143.1 211.5l-5.1 -9.5M147.6 211.5l-5.1 -9.5M152.1 211.5l-5.1 -9.5M191.9 211.5l-36.0 -0.1M155.9 211.4l-5.0 -9.6M160.4 211.4l-5.0 -9.6M164.9 211.4l-5.0 -9.6M204.7 211.5l-36.0 -1.7M168.7 209.8l-4.6 -9.8M173.2 210.0l-4.6 -9.8M177.7 210.2l-4.6 -9.8M217.5 211.5l-36.0 -1.6M181.5 209.9l-4.6 -9.7M186.0 210.1l-4.6 -9.7M190.5 210.3l-2.3 -4.9M230.3 211.5l-36.0 -1.5M194.3 210.0l-4.7 -9.7M198.8 210.2l-4.7 -9.7M203.3 210.4l-4.7 -9.7M207.8 210.6l-2.3 -4.9M243.1 211.5l-36.0 -1.8M207.2 209.7l-4.6 -9.8M211.7 209.9l-4.6 -9.8M216.1 210.2l-2.3 -4.9M255.9 211.5l-36.0 -1.0M219.9 210.5l-4.8 -9.7M224.4 210.6l-4.8 -9.7M228.9 210.8l-4.8 -9.7M233.4 210.9l-2.4 -4.8M268.7 211.5l-35.9 -2.2M232.8 209.3l-4.5 -9.8M237.3 209.6l-4.5 -9.8M241.8 209.9l-2.2 -4.9M281.5 211.5l-36.0 -1.7M245.6 209.8l-4.6 -9.8M250.1 210.1l-4.6 -9.8M254.5 210.3l-4.6 -9.8M294.3 211.5l-35.9 -2.7M258.4 208.8l-4.3 -9.9M262.9 209.1l-4.3 -9.9M267.4 209.5l-4.3 -9.9M307.1 211.5l-33.9 -12.1M273.2 199.4l-1.6 -10.7M277.4 201.0l-1.6 -10.7M281.7 202.5l-0.8 -5.3M319.9 211.5l-25.9 -25.1M294.1 186.4l3.0 -10.4M297.3 189.6l3.0 -10.4M300.5 192.7l3.0 -10.4M303.8 195.8l1.5 -5.2M332.7 211.5l-0.5 -36.0M332.2 175.5l9.5 -5.2M332.3 180.0l9.5 -5.2M332.4 184.5l9.5 -5.2M332.4 189.0l9.5 -5.2M345.5 211.5l12.0 -33.9M357.5 177.6l10.7 -1.6M356.0 181.8l10.7 -1.6M354.5 186.0l10.7 -1.6M353.0 190.3l10.7 -1.6M358.3 211.5l20.9 -29.3M379.3 182.2l10.7 1.4M376.7 185.9l10.7 1.4M374.0 189.5l10.7 1.4M371.4 193.2l5.4 0.7M371.1 211.5l21.7 -28.7M392.9 182.8l10.7 1.7M390.1 186.4l10.7 1.7M387.4 190.0l10.7 1.7M384.7 193.6l5.3 0.9M383.9 211.5l24.9 -26.0M408.8 185.5l10.4 2.9M405.7 188.7l10.4 2.9M402.6 192.0l10.4 2.9M399.5 195.2l10.4 2.9M396.4 198.5l10.4 2.9M396.7 211.5l25.2 -25.8M421.9 185.7l10.4 3.0M418.7 189.0l10.4 3.0M415.6 192.2l10.4 3.0M412.5 195.4l10.4 3.0M409.3 198.6l10.4 3.0M409.5 211.5l27.8 -22.9M437.3 188.6l10.0 4.1M433.8 191.5l10.0 4.1M430.4 194.3l10.0 4.1M426.9 197.2l10.0 4.1M423.4 200.1l10.0 4.1M422.3 211.5l28.1 -22.4M450.5 189.1l9.9 4.3M447.0 191.9l9.9 4.3M443.4 194.7l9.9 4.3M439.9 197.5l9.9 4.3M436.4 200.3l5.0 2.1M435.1 211.5l26.8 -24.0M462.0 187.5l10.1 3.7M458.6 190.5l10.1 3.7M455.3 193.5l10.1 3.7M447.9 211.5l28.2 -22.4M476.1 189.1l9.9 4.3M472.6 191.9l9.9 4.3M469.1 194.7l9.9 4.3M465.5 197.5l5.0 2.1M460.7 211.5l26.9 -23.9M487.7 187.6l10.1 3.8M484.3 190.6l10.1 3.8M481.0 193.6l10.1 3.8M473.5 211.5l27.9 -22.8M501.4 188.7l10.0 4.2M497.9 191.5l10.0 4.2M486.3 211.5l32.2 -16.1M518.6 195.4l8.8 6.3M514.5 197.4l4.4 3.1M499.1 211.5l34.6 -9.9M533.8 201.6l7.5 7.8M529.4 202.8l7.5 7.8M511.9 211.5l35.9 -2.4M547.9 209.1l5.7 9.2M524.8 211.5l36.0 0.4M560.7 211.9l5.0 9.6M537.6 211.5l35.5 6.2M573.0 217.7l3.3 10.3M550.4 211.5l33.5 13.2M583.8 224.7l1.2 10.7M563.2 211.5l32.1 16.3M591.2 225.8l0.1 5.4M576.0 211.5l24.7 26.2M597.6 234.4l-1.7 5.1M588.8 211.5l12.4 33.8M599.6 241.1l-3.6 4.0M601.6 211.5l-2.2 35.9M599.6 242.9l-4.9 2.2M614.4 211.5l-14.7 32.9M601.5 240.3l-5.4 0.4M627.2 211.5l-26.4 24.5M604.1 232.9l-5.1 -1.8M640.0 211.5l-33.8 12.5M610.4 222.5l-4.0 -3.6M652.8 211.5l-34.8 9.1M617.9 220.6l-7.3 -8.0M665.6 211.5l-35.5 6.0M630.1 217.5l-6.6 -8.6M678.4 211.5l-35.7 -4.7M642.7 206.8l-3.8 -10.1M691.2 211.5l-34.8 -9.3M656.4 202.2l-2.4 -10.5M704.0 211.5l-22.7 -27.9M681.3 183.6l4.2 -10.0M716.8 211.5l-3.7 -35.8M713.1 175.7l9.0 -6.0M729.6 211.5l6.5 -35.4M736.1 176.1l10.3 -3.3M742.4 211.5l18.0 -31.2M760.4 180.3l10.8 0.4M755.2 211.5l10.4 -34.5M765.6 177.0l10.6 -2.1M768.0 211.5l4.0 -35.8M772.0 175.7l10.0 -4.0M780.8 211.5l3.0 -35.9M783.8 175.6l9.9 -4.3M793.6 211.5l2.9 -35.9M796.4 175.6l9.9 -4.3M806.4 211.5l5.9 -35.5M812.2 176.0l10.2 -3.5M819.2 211.5l7.0 -35.3M826.1 176.2l10.3 -3.1M832.0 211.5l0.9 -36.0M832.9 175.5l9.7 -4.8M844.8 211.5l-11.0 -34.3M833.8 177.2l7.5 -7.7M857.6 211.5l-21.1 -29.2M836.5 182.3l4.8 -9.7M870.4 211.5l-31.4 -17.6M839.0 193.9l0.2 -10.8M153.5 201.6l-36.0 0.7M117.5 202.3l-5.3 -9.4M122.0 202.2l-5.3 -9.4M126.5 202.1l-5.3 -9.4M166.3 201.6l-36.0 -0.4M130.3 201.2l-5.0 -9.6M134.8 201.2l-5.0 -9.6M139.3 201.3l-5.0 -9.6M179.1 201.6l-36.0 -0.5M143.1 201.1l-4.9 -9.6M147.6 201.1l-4.9 -9.6M152.1 201.2l-4.9 -9.6M191.9 201.6l-36.0 0.1M155.9 201.7l-5.1 -9.5M160.4 201.7l-5.1 -9.5M164.9 201.7l-2.6 -4.8M204.7 201.6l-36.0 -0.1M168.7 201.5l-5.1 -9.5M173.2 201.5l-5.1 -9.5M177.7 201.5l-5.1 -9.5M182.2 201.5l-2.5 -4.8M217.5 201.6l-36.0 -0.4M181.5 201.2l-5.0 -9.6M186.0 201.2l-5.0 -9.6M190.5 201.3l-2.5 -4.8M230.3 201.6l-36.0 -1.3M194.3 200.3l-4.7 -9.7M198.8 200.4l-4.7 -9.7M203.3 200.6l-4.7 -9.7M207.8 200.8l-2.4 -4.9M243.1 201.6l-35.9 -1.9M207.2 199.6l-4.5 -9.8M211.7 199.9l-4.5 -9.8M216.2 200.1l-2.3 -4.9M255.9 201.6l-36.0 -1.3M219.9 200.2l-4.7 -9.7M224.4 200.4l-4.7 -9.7M228.9 200.6l-2.4 -4.9M268.7 201.6l-36.0 -1.8M232.8 199.8l-4.6 -9.8M237.3 200.0l-4.6 -9.8M241.8 200.2l-2.3 -4.9M281.5 201.6l-36.0 -1.4M245.5 200.2l-4.7 -9.7M250.0 200.4l-4.7 -9.7M254.5 200.6l-4.7 -9.7M294.3 201.6l-35.9 -3.2M258.5 198.4l-4.2 -9.9M262.9 198.8l-4.2 -9.9M267.4 199.2l-4.2 -9.9M307.1 201.6l-33.9 -12.2M273.3 189.4l-1.5 -10.7M277.5 190.9l-1.5 -10.7M281.7 192.4l-0.8 -5.3M319.9 201.6l-25.5 -25.4M294.4 176.2l3.1 -10.3M297.6 179.4l3.1 -10.3M300.8 182.5l3.1 -10.3M304.0 185.7l1.6 -5.2M332.7 201.6l-0.7 -36.0M332.1 165.6l9.4 -5.2M332.1 170.1l9.4 -5.2M332.2 174.6l9.4 -5.2M332.3 179.1l4.7 -2.6M345.5 201.6l12.0 -33.9M357.6 167.7l10.7 -1.6M356.1 171.9l10.7 -1.6M354.6 176.1l10.7 -1.6M353.0 180.4l10.7 -1.6M358.3 201.6l21.2 -29.1M379.5 172.5l10.7 1.5M376.9 176.1l10.7 1.5M374.2 179.7l10.7 1.5M371.6 183.4l10.7 1.5M371.1 201.6l22.3 -28.3M393.4 173.3l10.6 1.9M390.6 176.8l10.6 1.9M387.8 180.4l10.6 1.9M385.1 183.9l10.6 1.9M383.9 201.6l25.1 -25.8M409.0 175.7l10.4 3.0M405.9 179.0l10.4 3.0M402.7 182.2l10.4 3.0M399.6 185.4l10.4 3.0M396.5 188.7l5.2 1.5M396.7 201.6l26.0 -24.9M422.7 176.7l10.3 3.4M419.5 179.8l10.3 3.4M416.2 182.9l10.3 3.4M413.0 186.0l10.3 3.4M409.7 189.1l5.1 1.7M409.5 201.6l26.7 -24.1M436.3 177.5l10.1 3.7M432.9 180.5l10.1 3.7M429.6 183.5l10.1 3.7M426.3 186.5l10.1 3.7M422.3 201.6l27.7 -23.0M450.0 178.6l10.0 4.1M446.5 181.4l10.0 4.1M443.1 184.3l10.0 4.1M439.6 187.2l5.0 2.0M435.1 201.6l27.1 -23.7M462.2 177.9l10.1 3.8M458.8 180.8l10.1 3.8M455.5 183.8l10.1 3.8M447.9 201.6l27.0 -23.8M475.0 177.8l10.1 3.8M471.6 180.8l10.1 3.8M468.2 183.8l10.1 3.8M464.8 186.7l5.1 1.9M460.7 201.6l28.0 -22.7M488.7 178.9l9.9 4.2M485.2 181.7l9.9 4.2M481.7 184.6l9.9 4.2M473.5 201.6l28.5 -21.9M502.1 179.6l9.8 4.5M498.5 182.4l9.8 4.5M486.3 201.6l31.4 -17.7M517.7 183.9l9.1 5.8M513.8 186.1l9.1 5.8M499.1 201.6l33.9 -12.0M533.1 189.6l8.0 7.3M528.9 191.1l4.0 3.7M511.9 201.6l35.7 -4.6M547.7 197.0l6.2 8.8M543.2 197.6l3.1 4.4M524.8 201.6l36.0 -1.2M560.7 200.4l5.4 9.4M537.6 201.6l35.3 7.3M572.8 208.9l3.0 10.4M550.4 201.6l35.4 6.3M585.8 207.9l3.3 10.3M563.2 201.6l32.7 15.1M591.8 214.8l0.3 5.4M576.0 201.6l24.5 26.3M597.4 224.6l-1.8 5.1M588.8 201.6l11.7 34.0M599.0 231.4l-3.7 3.9M601.6 201.6l-0.4 36.0M601.2 233.1l-4.8 2.5M614.4 201.6l-13.2 33.5M602.8 230.9l-5.4 0.6M627.2 201.6l-27.8 22.9M602.9 221.6l-5.0 -2.1M640.0 201.6l-33.9 12.1M610.3 212.2l-4.0 -3.6M652.8 201.6l-35.3 6.9M617.4 208.4l-6.8 -8.4M665.6 201.6l-35.8 4.2M629.8 205.8l-6.2 -8.9M678.4 201.6l-36.0 -0.0M642.4 201.6l-5.1 -9.5M691.2 201.6l-31.9 -16.7M659.3 184.9l-0.1 -10.8M704.0 201.6l-22.1 -28.4M681.9 173.2l4.4 -9.9M716.8 201.6l-2.6 -35.9M714.2 165.7l9.1 -5.7M729.6 201.6l12.1 -33.9M741.7 167.7l10.7 -1.6M742.4 201.6l11.6 -34.1M754.0 167.5l10.7 -1.7M755.2 201.6l6.0 -35.5M761.2 166.1l10.2 -3.4M768.0 201.6l-1.2 -36.0M766.8 165.6l9.4 -5.4M780.8 201.6l-3.5 -35.8M777.3 165.8l9.0 -6.0M793.6 201.6l-0.0 -36.0M793.6 165.6l9.5 -5.1M806.4 201.6l4.8 -35.7M811.2 165.9l10.1 -3.7M819.2 201.6l0.7 -36.0M819.9 165.6l9.6 -4.9M832.0 201.6l-2.5 -35.9M829.5 165.7l9.2 -5.7M844.8 201.6l-5.1 -35.6M839.7 165.9l8.7 -6.4M857.6 201.6l-23.6 -27.2M834.0 174.4l3.9 -10.1M870.4 201.6l-32.9 -14.5M837.5 187.0l-0.8 -10.8M153.5 191.7l-36.0 0.4M117.5 192.0l-5.2 -9.5M122.0 192.0l-5.2 -9.5M126.5 191.9l-2.6 -4.7M166.3 191.7l-36.0 -0.5M130.3 191.1l-4.9 -9.6M134.8 191.2l-4.9 -9.6M179.1 191.7l-36.0 -1.0M143.1 190.7l-4.8 -9.7M147.6 190.8l-4.8 -9.7M152.1 190.9l-2.4 -4.8M191.9 191.7l-36.0 -0.2M155.9 191.5l-5.0 -9.6M160.4 191.5l-5.0 -9.6M164.9 191.5l-5.0 -9.6M204.7 191.7l-36.0 -1.1M168.7 190.6l-4.8 -9.7M173.2 190.7l-4.8 -9.7M177.7 190.9l-4.8 -9.7M217.5 191.7l-36.0 -0.1M181.5 191.5l-5.0 -9.6M186.0 191.5l-5.0 -9.6M230.3 191.7l-36.0 -0.2M194.3 191.4l-5.0 -9.6M198.8 191.4l-5.0 -9.6M203.3 191.5l-2.5 -4.8M243.1 191.7l-36.0 -0.4M207.1 191.2l-5.0 -9.6M211.6 191.3l-5.0 -9.6M216.1 191.4l-2.5 -4.8M255.9 191.7l-36.0 -1.8M220.0 189.9l-4.6 -9.8M224.5 190.1l-4.6 -9.8M268.7 191.7l-36.0 -1.6M232.8 190.1l-4.6 -9.8M237.2 190.3l-4.6 -9.8M241.7 190.5l-2.3 -4.9M281.5 191.7l-35.9 -2.7M245.6 189.0l-4.3 -9.9M250.1 189.3l-4.3 -9.9M254.6 189.6l-4.3 -9.9M294.3 191.7l-35.9 -1.9M258.4 189.7l-4.5 -9.8M262.9 190.0l-4.5 -9.8M267.4 190.2l-2.3 -4.9M307.1 191.7l-35.0 -8.5M272.2 183.1l-2.7 -10.5M276.5 184.2l-2.7 -10.5M319.9 191.7l-28.2 -22.4M291.7 169.3l2.0 -10.6M295.2 172.1l2.0 -10.6M332.7 191.7l-11.2 -34.2M321.5 157.5l7.5 -7.8M322.9 161.7l7.5 -7.8M345.5 191.7l-1.2 -36.0M344.3 155.7l9.4 -5.4M344.5 160.2l9.4 -5.4M358.3 191.7l6.3 -35.5M364.6 156.2l10.3 -3.3M363.8 160.6l10.3 -3.3M363.0 165.1l5.1 -1.7M371.1 191.7l6.5 -35.4M377.7 156.3l10.3 -3.3M376.8 160.7l10.3 -3.3M376.0 165.1l5.1 -1.6M383.9 191.7l9.6 -34.7M393.5 157.0l10.5 -2.3M392.3 161.3l10.5 -2.3M396.7 191.7l11.8 -34.0M408.6 157.7l10.7 -1.7M407.1 161.9l10.7 -1.7M405.6 166.2l5.3 -0.8M409.5 191.7l11.9 -34.0M421.5 157.7l10.7 -1.6M420.0 161.9l10.7 -1.6M422.3 191.7l13.2 -33.5M435.5 158.2l10.7 -1.2M433.9 162.4l10.7 -1.2M432.2 166.5l5.4 -0.6M435.1 191.7l12.5 -33.8M447.6 157.9l10.7 -1.5M446.0 162.1l10.7 -1.5M444.5 166.3l5.4 -0.7M447.9 191.7l12.8 -33.7M460.7 158.0l10.7 -1.4M459.1 162.2l10.7 -1.4M457.5 166.4l5.4 -0.7M460.7 191.7l12.2 -33.9M473.0 157.8l10.7 -1.5M471.4 162.0l10.7 -1.5M473.5 191.7l14.3 -33.0M487.9 158.6l10.8 -0.9M486.1 162.8l10.8 -0.9M484.3 166.9l10.8 -0.9M486.3 191.7l18.8 -30.7M505.2 161.0l10.8 0.7M502.8 164.8l10.8 0.7M499.1 191.7l22.6 -28.1M521.7 163.6l10.6 2.0M518.9 167.1l10.6 2.0M511.9 191.7l28.3 -22.2M540.3 169.5l9.9 4.4M536.7 172.2l9.9 4.4M533.2 175.0l4.9 2.2M524.8 191.7l31.6 -17.2M556.4 174.4l9.0 5.9M552.4 176.6l9.0 5.9M548.5 178.7l4.5 3.0M537.6 191.7l33.8 -12.4M571.3 179.2l8.0 7.2M567.1 180.8l8.0 7.2M550.4 191.7l35.7 -5.0M586.0 186.7l6.3 8.7M581.6 187.3l6.3 8.7M577.1 187.9l3.2 4.4M563.2 191.7l35.2 7.3M598.4 199.0l3.0 10.4M594.0 198.1l3.0 10.4M589.6 197.2l1.5 5.2M576.0 191.7l21.6 28.8M597.6 220.4l-4.6 9.8M594.9 216.8l-4.6 9.8M588.8 191.7l-3.2 35.9M585.6 227.5l-9.9 4.2M586.0 223.0l-9.9 4.2M586.4 218.6l-5.0 2.1M601.6 191.7l-17.4 31.5M584.2 223.2l-10.8 -0.2M586.4 219.3l-10.8 -0.2M614.4 191.7l-29.7 20.4M584.7 212.1l-9.6 -5.0M588.4 209.5l-9.6 -5.0M627.2 191.7l-34.6 9.8M592.5 201.5l-7.5 -7.8M596.9 200.3l-7.5 -7.8M640.0 191.7l-36.0 -1.2M604.0 190.4l-4.7 -9.7M608.5 190.6l-4.7 -9.7M652.8 191.7l-35.8 -3.6M617.0 188.0l-4.1 -10.0M621.4 188.5l-4.1 -10.0M625.9 188.9l-2.0 -5.0M665.6 191.7l-35.1 -8.2M630.5 183.5l-2.8 -10.4M634.9 184.5l-2.8 -10.4M639.3 185.5l-1.4 -5.2M678.4 191.7l-33.8 -12.3M644.5 179.3l-1.5 -10.7M648.8 180.9l-1.5 -10.7M653.0 182.4l-0.7 -5.3M691.2 191.7l-30.0 -19.8M661.1 171.8l1.0 -10.8M664.9 174.3l1.0 -10.8M668.6 176.8l0.5 -5.4M704.0 191.7l-23.1 -27.6M680.9 164.0l4.1 -10.0M683.8 167.5l4.1 -10.0M716.8 191.7l-7.0 -35.3M709.8 156.3l8.4 -6.8M710.7 160.8l8.4 -6.8M729.6 191.7l0.0 -36.0M729.6 155.7l9.5 -5.1M729.6 160.2l9.5 -5.1M742.4 191.7l2.2 -35.9M744.6 155.7l9.8 -4.5M744.3 160.2l9.8 -4.5M755.2 191.7l-4.7 -35.7M750.5 156.0l8.8 -6.3M751.1 160.4l8.8 -6.3M751.7 164.9l4.4 -3.1M768.0 191.7l-7.2 -35.3M760.8 156.4l8.3 -6.9M761.7 160.8l8.3 -6.9M762.6 165.2l4.2 -3.4M780.8 191.7l-7.2 -35.3M773.6 156.4l8.3 -6.9M774.5 160.8l8.3 -6.9M775.4 165.2l4.2 -3.4M793.6 191.7l-4.7 -35.7M788.9 156.0l8.8 -6.3M789.5 160.4l8.8 -6.3M806.4 191.7l-3.3 -35.8M803.1 155.8l9.0 -5.9M803.5 160.3l9.0 -5.9M803.9 164.8l4.5 -3.0M819.2 191.7l-6.7 -35.4M812.4 156.3l8.4 -6.8M813.3 160.7l8.4 -6.8M832.0 191.7l-10.8 -34.3M821.2 157.3l7.6 -7.7M822.5 161.6l7.6 -7.7M823.9 165.9l3.8 -3.9M844.8 191.7l-14.9 -32.8M829.9 158.9l6.6 -8.6M831.7 163.0l6.6 -8.6M833.6 167.1l3.3 -4.3M857.6 191.7l-24.4 -26.5M833.2 165.2l3.6 -10.2M836.3 168.5l3.6 -10.2M839.3 171.8l1.8 -5.1M870.4 191.7l-31.5 -17.5M838.9 174.2l0.2 -10.8M842.9 176.3l0.2 -10.8M153.5 181.7l-36.0 -0.1M117.5 181.6l-5.0 -9.5M122.0 181.7l-5.0 -9.5M126.5 181.7l-2.5 -4.8M166.3 181.7l-36.0 0.1M130.3 181.8l-5.1 -9.5M134.8 181.8l-5.1 -9.5M139.3 181.8l-2.5 -4.8M179.1 181.7l-36.0 -0.7M143.1 181.1l-4.9 -9.6M147.6 181.2l-4.9 -9.6M152.1 181.2l-4.9 -9.6M191.9 181.7l-36.0 -0.5M155.9 181.2l-4.9 -9.6M160.4 181.3l-4.9 -9.6M164.9 181.3l-2.5 -4.8M204.7 181.7l-36.0 0.1M168.7 181.9l-5.1 -9.5M173.2 181.9l-5.1 -9.5M177.7 181.8l-2.6 -4.8M217.5 181.7l-36.0 -1.0M181.5 180.8l-4.8 -9.7M186.0 180.9l-4.8 -9.7M190.5 181.0l-4.8 -9.7M230.3 181.7l-36.0 0.0M194.3 181.8l-5.1 -9.5M198.8 181.8l-5.1 -9.5M203.3 181.8l-5.1 -9.5M243.1 181.7l-36.0 -1.2M207.1 180.5l-4.7 -9.7M211.6 180.7l-4.7 -9.7M216.1 180.8l-2.4 -4.9M255.9 181.7l-36.0 -0.7M219.9 181.0l-4.9 -9.6M224.4 181.1l-4.9 -9.6M228.9 181.2l-2.4 -4.8M268.7 181.7l-36.0 -0.9M232.7 180.8l-4.8 -9.7M237.2 181.0l-4.8 -9.7M241.7 181.1l-4.8 -9.7M281.5 181.7l-36.0 -1.2M245.5 180.6l-4.8 -9.7M250.0 180.7l-4.8 -9.7M254.5 180.9l-2.4 -4.8M294.3 181.7l-36.0 -1.7M258.4 180.0l-4.6 -9.8M262.9 180.2l-4.6 -9.8M267.4 180.4l-2.3 -4.9M307.1 181.7l-35.0 -8.4M272.1 173.4l-2.7 -10.5M276.5 174.4l-2.7 -10.5M280.9 175.5l-1.4 -5.2M319.9 181.7l-31.8 -16.9M288.1 164.9l-0.0 -10.8M292.1 167.0l-0.0 -10.8M296.1 169.1l-0.0 -5.4M332.7 181.7l-23.2 -27.5M309.5 154.2l4.0 -10.0M312.4 157.6l4.0 -10.0M315.3 161.1l2.0 -5.0M345.5 181.7l-15.7 -32.4M329.8 149.4l6.4 -8.7M331.8 153.4l6.4 -8.7M358.3 181.7l-16.1 -32.2M342.3 149.5l6.3 -8.8M344.3 153.5l6.3 -8.8M371.1 181.7l-15.3 -32.6M355.8 149.2l6.5 -8.6M357.7 153.2l6.5 -8.6M383.9 181.7l-14.4 -33.0M369.5 148.8l6.7 -8.5M371.3 152.9l6.7 -8.5M373.1 157.0l6.7 -8.5M396.7 181.7l-13.6 -33.3M383.1 148.4l6.9 -8.3M384.8 152.6l6.9 -8.3M386.5 156.7l3.5 -4.1M409.5 181.7l-13.0 -33.6M396.5 148.2l7.0 -8.2M398.1 152.4l7.0 -8.2M399.7 156.6l3.5 -4.1M422.3 181.7l-15.8 -32.3M406.5 149.4l6.3 -8.7M408.5 153.5l6.3 -8.7M410.5 157.5l3.2 -4.4M435.1 181.7l-14.1 -33.1M421.0 148.6l6.8 -8.4M422.8 152.8l6.8 -8.4M424.5 156.9l3.4 -4.2M447.9 181.7l-15.0 -32.7M432.9 149.0l6.6 -8.6M434.8 153.1l6.6 -8.6M436.7 157.2l3.3 -4.3M460.7 181.7l-14.9 -32.8M445.8 149.0l6.6 -8.6M447.7 153.1l6.6 -8.6M449.6 157.2l3.3 -4.3M473.5 181.7l-12.8 -33.7M460.8 148.1l7.1 -8.1M462.4 152.3l7.1 -8.1M464.0 156.5l3.6 -4.1M486.3 181.7l-13.1 -33.5M473.3 148.2l7.0 -8.2M474.9 152.4l7.0 -8.2M476.5 156.6l3.5 -4.1M499.1 181.7l-14.1 -33.1M485.0 148.6l6.8 -8.4M486.8 152.8l6.8 -8.4M511.9 181.7l-13.4 -33.4M498.5 148.3l7.0 -8.3M500.2 152.5l7.0 -8.3M524.8 181.7l-13.8 -33.3M511.0 148.5l6.9 -8.3M512.7 152.6l6.9 -8.3M514.4 156.8l3.4 -4.2M537.6 181.7l-13.4 -33.4M524.2 148.3l7.0 -8.2M525.9 152.5l7.0 -8.2M527.5 156.7l3.5 -4.1M550.4 181.7l-16.2 -32.2M534.2 149.6l6.2 -8.8M536.2 153.6l6.2 -8.8M538.2 157.6l3.1 -4.4M563.2 181.7l-18.9 -30.6M544.3 151.1l5.5 -9.3M546.6 154.9l5.5 -9.3M549.0 158.8l2.7 -4.7M576.0 181.7l-29.1 -21.2M546.8 160.6l1.5 -10.7M550.5 163.2l1.5 -10.7M554.1 165.9l0.8 -5.3M588.8 181.7l-33.3 -13.8M555.5 168.0l-1.0 -10.8M559.7 169.7l-1.0 -10.8M563.8 171.4l-0.5 -5.4M601.6 181.7l-34.5 -10.2M567.0 171.6l-2.2 -10.6M571.3 172.8l-2.2 -10.6M614.4 181.7l-34.7 -9.6M579.7 172.1l-2.3 -10.5M584.0 173.3l-2.3 -10.5M588.3 174.5l-1.2 -5.3M627.2 181.7l-33.7 -12.6M593.5 169.1l-1.4 -10.7M597.7 170.7l-1.4 -10.7M601.9 172.3l-1.4 -10.7M640.0 181.7l-32.5 -15.5M607.5 166.2l-0.5 -10.8M611.5 168.2l-0.5 -10.8M615.6 170.1l-0.2 -5.4M652.8 181.7l-31.2 -17.9M621.5 163.8l0.3 -10.8M625.4 166.1l0.3 -10.8M629.3 168.3l0.2 -5.4M665.6 181.7l-29.6 -20.4M635.9 161.3l1.2 -10.7M639.6 163.9l1.2 -10.7M678.4 181.7l-29.4 -20.7M648.9 161.0l1.3 -10.7M652.6 163.6l1.3 -10.7M656.3 166.2l0.7 -5.4M691.2 181.7l-27.9 -22.8M663.3 159.0l2.1 -10.6M666.8 161.8l2.1 -10.6M704.0 181.7l-22.5 -28.1M681.5 153.7l4.3 -9.9M684.3 157.2l4.3 -9.9M716.8 181.7l-15.4 -32.5M701.3 149.2l6.4 -8.7M703.3 153.3l6.4 -8.7M729.6 181.7l-12.7 -33.7M716.9 148.1l7.1 -8.1M718.5 152.3l7.1 -8.1M720.1 156.5l3.6 -4.1M742.4 181.7l-10.5 -34.4M731.8 147.3l7.6 -7.6M733.2 151.6l7.6 -7.6M755.2 181.7l-15.1 -32.7M740.1 149.1l6.5 -8.6M741.9 153.2l6.5 -8.6M743.8 157.2l3.3 -4.3M768.0 181.7l-14.8 -32.8M753.2 148.9l6.6 -8.5M755.0 153.0l6.6 -8.5M780.8 181.7l-14.7 -32.9M766.1 148.9l6.6 -8.5M767.9 153.0l6.6 -8.5M793.6 181.7l-16.3 -32.1M777.3 149.7l6.2 -8.8M779.3 153.7l6.2 -8.8M781.3 157.7l3.1 -4.4M806.4 181.7l-13.9 -33.2M792.5 148.5l6.9 -8.3M794.3 152.7l6.9 -8.3M796.0 156.8l3.4 -4.2M819.2 181.7l-16.4 -32.1M802.8 149.7l6.2 -8.8M804.9 153.7l6.2 -8.8M832.0 181.7l-19.5 -30.2M812.5 151.5l5.3 -9.4M814.9 155.3l5.3 -9.4M817.3 159.1l2.6 -4.7M844.8 181.7l-20.5 -29.6M824.3 152.2l4.9 -9.6M826.8 155.9l4.9 -9.6M829.4 159.6l2.5 -4.8M857.6 181.7l-26.6 -24.2M831.0 157.5l2.7 -10.5M834.3 160.5l2.7 -10.5M870.4 181.7l-31.8 -16.9M838.6 164.8l0.0 -10.8M842.6 166.9l0.0 -10.8M153.5 171.8l-36.0 -0.1M117.5 171.8l-5.1 -9.5M122.0 171.8l-5.1 -9.5M166.3 171.8l-36.0 -0.2M130.3 171.6l-5.0 -9.6M134.8 171.6l-5.0 -9.6M139.3 171.7l-2.5 -4.8M179.1 171.8l-36.0 -0.1M143.1 171.7l-5.0 -9.5M147.6 171.7l-5.0 -9.5M152.1 171.8l-2.5 -4.8M191.9 171.8l-36.0 0.6M155.9 172.4l-5.2 -9.5M160.4 172.3l-5.2 -9.5M204.7 171.8l-36.0 -1.0M168.7 170.9l-4.8 -9.7M173.2 171.0l-4.8 -9.7M177.7 171.1l-2.4 -4.8M217.5 171.8l-36.0 -1.2M181.5 170.6l-4.7 -9.7M186.0 170.8l-4.7 -9.7M190.5 170.9l-2.4 -4.9M230.3 171.8l-36.0 -1.0M194.3 170.9l-4.8 -9.7M198.8 171.0l-4.8 -9.7M203.3 171.1l-2.4 -4.8M243.1 171.8l-36.0 -0.9M207.1 170.9l-4.8 -9.7M211.6 171.0l-4.8 -9.7M216.1 171.1l-2.4 -4.8M255.9 171.8l-36.0 -0.1M219.9 171.7l-5.0 -9.5M224.4 171.7l-5.0 -9.5M228.9 171.7l-2.5 -4.8M268.7 171.8l-36.0 -1.6M232.8 170.2l-4.6 -9.8M237.2 170.4l-4.6 -9.8M281.5 171.8l-36.0 -0.7M245.5 171.1l-4.9 -9.6M250.0 171.2l-4.9 -9.6M294.3 171.8l-36.0 -0.5M258.3 171.3l-4.9 -9.6M262.8 171.4l-4.9 -9.6M267.3 171.5l-2.5 -4.8M307.1 171.8l-35.4 -6.3M271.7 165.5l-3.3 -10.3M276.1 166.3l-3.3 -10.3M319.9 171.8l-33.5 -13.2M286.4 158.6l-1.2 -10.7M290.6 160.2l-1.2 -10.7M294.8 161.9l-0.6 -5.4M332.7 171.8l-30.2 -19.6M302.5 152.3l0.9 -10.8M306.3 154.7l0.9 -10.8M310.1 157.2l0.5 -5.4M345.5 171.8l-26.5 -24.4M319.0 147.5l2.7 -10.5M322.3 150.5l2.7 -10.5M325.7 153.5l1.4 -5.2M358.3 171.8l-27.9 -22.8M330.4 149.1l2.1 -10.6M333.9 151.9l2.1 -10.6M337.4 154.8l1.0 -5.3M371.1 171.8l-27.0 -23.8M344.1 148.0l2.5 -10.5M347.5 151.0l2.5 -10.5M383.9 171.8l-27.8 -22.8M356.1 149.0l2.1 -10.6M359.6 151.9l2.1 -10.6M363.0 154.7l1.1 -5.3M396.7 171.8l-28.6 -21.8M368.1 150.0l1.8 -10.7M371.7 152.7l1.8 -10.7M375.3 155.4l0.9 -5.3M409.5 171.8l-27.6 -23.2M382.0 148.7l2.3 -10.6M385.4 151.6l2.3 -10.6M422.3 171.8l-27.6 -23.1M394.7 148.7l2.2 -10.6M398.2 151.6l2.2 -10.6M401.6 154.5l1.1 -5.3M435.1 171.8l-27.8 -22.9M407.4 148.9l2.1 -10.6M410.8 151.8l2.1 -10.6M447.9 171.8l-28.8 -21.7M419.2 150.2l1.7 -10.7M422.8 152.9l1.7 -10.7M426.4 155.6l0.8 -5.3M460.7 171.8l-27.8 -22.9M433.0 148.9l2.2 -10.6M436.4 151.8l2.2 -10.6M439.9 154.6l1.1 -5.3M473.5 171.8l-27.5 -23.2M446.0 148.6l2.3 -10.6M449.5 151.5l2.3 -10.6M452.9 154.4l1.1 -5.3M486.3 171.8l-27.5 -23.3M458.9 148.6l2.3 -10.6M462.3 151.5l2.3 -10.6M499.1 171.8l-27.0 -23.8M472.1 148.0l2.5 -10.5M475.5 151.0l2.5 -10.5M511.9 171.8l-26.9 -24.0M485.1 147.9l2.6 -10.5M488.4 150.9l2.6 -10.5M524.8 171.8l-26.8 -24.0M497.9 147.8l2.6 -10.5M501.3 150.8l2.6 -10.5M504.6 153.8l1.3 -5.2M537.6 171.8l-26.5 -24.4M511.0 147.5l2.7 -10.5M514.4 150.5l2.7 -10.5M550.4 171.8l-27.7 -22.9M522.6 148.9l2.2 -10.6M526.1 151.7l2.2 -10.6M529.5 154.6l1.1 -5.3M563.2 171.8l-26.7 -24.2M536.5 147.7l2.6 -10.5M539.8 150.7l2.6 -10.5M576.0 171.8l-27.2 -23.5M548.7 148.3l2.4 -10.5M552.1 151.2l2.4 -10.5M555.5 154.2l1.2 -5.3M588.8 171.8l-26.2 -24.7M562.6 147.1l2.9 -10.4M565.8 150.2l2.9 -10.4M569.1 153.3l1.4 -5.2M601.6 171.8l-26.0 -24.9M575.6 146.9l2.9 -10.4M578.8 150.0l2.9 -10.4M582.1 153.1l1.5 -5.2M614.4 171.8l-24.8 -26.1M589.5 145.7l3.4 -10.2M592.6 149.0l3.4 -10.2M627.2 171.8l-24.7 -26.2M602.5 145.6l3.5 -10.2M605.6 148.9l3.5 -10.2M608.7 152.1l1.7 -5.1M640.0 171.8l-24.3 -26.6M615.7 145.3l3.6 -10.2M618.7 148.6l3.6 -10.2M621.7 151.9l1.8 -5.1M652.8 171.8l-24.6 -26.3M628.2 145.5l3.5 -10.2M631.2 148.8l3.5 -10.2M634.3 152.1l1.7 -5.1M665.6 171.8l-22.6 -28.1M643.0 143.8l4.3 -9.9M645.8 147.3l4.3 -9.9M678.4 171.8l-22.3 -28.2M656.0 143.6l4.3 -9.9M658.8 147.1l4.3 -9.9M691.2 171.8l-23.3 -27.4M667.8 144.4l4.0 -10.0M670.8 147.8l4.0 -10.0M673.7 151.3l2.0 -5.0M704.0 171.8l-21.6 -28.8M682.4 143.0l4.6 -9.8M685.1 146.6l4.6 -9.8M716.8 171.8l-23.4 -27.4M693.4 144.4l4.0 -10.0M696.3 147.9l4.0 -10.0M699.2 151.3l2.0 -5.0M729.6 171.8l-22.9 -27.7M706.6 144.1l4.1 -10.0M709.5 147.5l4.1 -10.0M712.4 151.0l2.1 -5.0M742.4 171.8l-23.2 -27.5M719.2 144.3l4.0 -10.0M722.1 147.8l4.0 -10.0M725.0 151.2l2.0 -5.0M755.2 171.8l-22.3 -28.3M732.9 143.6l4.3 -9.9M735.7 147.1l4.3 -9.9M738.4 150.6l2.2 -4.9M768.0 171.8l-23.8 -27.0M744.2 144.8l3.8 -10.1M747.1 148.2l3.8 -10.1M750.1 151.6l3.8 -10.1M780.8 171.8l-24.0 -26.8M756.8 145.0l3.7 -10.1M759.8 148.4l3.7 -10.1M762.8 151.7l1.9 -5.1M793.6 171.8l-21.7 -28.7M771.9 143.1l4.6 -9.8M774.6 146.7l4.6 -9.8M806.4 171.8l-24.4 -26.5M782.0 145.3l3.6 -10.2M785.1 148.6l3.6 -10.2M788.1 151.9l1.8 -5.1M819.2 171.8l-23.2 -27.5M796.0 144.3l4.0 -10.0M798.9 147.7l4.0 -10.0M832.0 171.8l-25.6 -25.3M806.4 146.5l3.1 -10.3M809.6 149.7l3.1 -10.3M812.8 152.9l1.5 -5.2M844.8 171.8l-27.4 -23.4M817.4 148.5l2.3 -10.5M820.8 151.4l2.3 -10.5M857.6 171.8l-29.3 -20.9M828.3 151.0l1.4 -10.7M831.9 153.6l1.4 -10.7M870.4 171.8l-29.7 -20.3M840.7 151.5l1.2 -10.7M844.4 154.0l1.2 -10.7M153.5 161.9l-36.0 0.3M117.5 162.2l-5.1 -9.5M122.0 162.1l-2.6 -4.7M166.3 161.9l-36.0 0.0M130.3 161.9l-5.1 -9.5M134.8 161.9l-5.1 -9.5M139.3 161.9l-2.5 -4.8M179.1 161.9l-36.0 -0.3M143.1 161.6l-5.0 -9.6M147.6 161.6l-5.0 -9.6M152.1 161.6l-2.5 -4.8M191.9 161.9l-36.0 -0.2M155.9 161.7l-5.0 -9.6M160.4 161.8l-5.0 -9.6M204.7 161.9l-36.0 -1.1M168.7 160.8l-4.8 -9.7M173.2 161.0l-4.8 -9.7M217.5 161.9l-36.0 0.2M181.5 162.1l-5.1 -9.5M186.0 162.1l-5.1 -9.5M230.3 161.9l-36.0 -1.2M194.3 160.7l-4.8 -9.7M198.8 160.9l-4.8 -9.7M243.1 161.9l-36.0 -0.7M207.1 161.2l-4.9 -9.6M211.6 161.3l-4.9 -9.6M255.9 161.9l-36.0 -0.7M219.9 161.2l-4.9 -9.6M224.4 161.3l-4.9 -9.6M268.7 161.9l-35.9 -1.9M232.8 160.0l-4.6 -9.8M237.3 160.2l-4.6 -9.8M281.5 161.9l-36.0 -0.8M245.5 161.1l-4.9 -9.6M250.0 161.2l-4.9 -9.6M294.3 161.9l-35.9 -2.0M258.4 159.9l-4.5 -9.8M262.9 160.1l-4.5 -9.8M267.4 160.4l-2.3 -4.9M307.1 161.9l-35.5 -5.9M271.6 156.0l-3.4 -10.2M276.0 156.8l-3.4 -10.2M280.5 157.5l-1.7 -5.1M319.9 161.9l-33.9 -12.1M286.0 149.8l-1.6 -10.7M290.2 151.3l-1.6 -10.7M332.7 161.9l-31.4 -17.7M301.3 144.2l0.3 -10.8M305.3 146.5l0.3 -10.8M345.5 161.9l-28.3 -22.2M317.2 139.7l1.9 -10.6M320.7 142.5l1.9 -10.6M324.3 145.2l0.9 -5.3M358.3 161.9l-28.4 -22.1M329.9 139.8l1.9 -10.6M333.5 142.5l1.9 -10.6M371.1 161.9l-26.9 -24.0M344.3 137.9l2.6 -10.5M347.6 140.9l2.6 -10.5M351.0 143.9l1.3 -5.2M383.9 161.9l-27.3 -23.4M356.6 138.5l2.4 -10.5M360.0 141.4l2.4 -10.5M396.7 161.9l-27.3 -23.5M369.5 138.4l2.4 -10.5M372.9 141.3l2.4 -10.5M409.5 161.9l-28.5 -22.0M381.0 139.9l1.8 -10.6M384.6 142.7l1.8 -10.6M388.1 145.4l0.9 -5.3M422.3 161.9l-28.3 -22.2M394.0 139.7l1.9 -10.6M397.6 142.4l1.9 -10.6M435.1 161.9l-29.3 -20.9M405.9 141.0l1.4 -10.7M409.5 143.6l1.4 -10.7M447.9 161.9l-28.7 -21.8M419.3 140.1l1.7 -10.7M422.8 142.9l1.7 -10.7M426.4 145.6l0.9 -5.3M460.7 161.9l-29.2 -21.1M431.6 140.8l1.5 -10.7M435.2 143.5l1.5 -10.7M473.5 161.9l-28.2 -22.4M445.4 139.5l2.0 -10.6M448.9 142.3l2.0 -10.6M486.3 161.9l-28.6 -21.9M457.8 140.0l1.8 -10.7M461.3 142.8l1.8 -10.7M499.1 161.9l-28.2 -22.4M471.0 139.5l2.0 -10.6M474.5 142.3l2.0 -10.6M511.9 161.9l-27.5 -23.3M484.5 138.6l2.3 -10.6M487.9 141.5l2.3 -10.6M491.4 144.4l1.2 -5.3M524.8 161.9l-26.6 -24.2M498.1 137.7l2.7 -10.5M501.5 140.7l2.7 -10.5M537.6 161.9l-28.1 -22.5M509.5 139.4l2.0 -10.6M513.0 142.2l2.0 -10.6M516.5 145.0l1.0 -5.3M550.4 161.9l-25.8 -25.1M524.6 136.8l3.0 -10.4M527.8 139.9l3.0 -10.4M563.2 161.9l-26.0 -24.9M537.2 137.0l2.9 -10.4M540.4 140.1l2.9 -10.4M576.0 161.9l-27.1 -23.7M548.8 138.2l2.4 -10.5M552.2 141.2l2.4 -10.5M555.6 144.2l1.2 -5.3M588.8 161.9l-27.1 -23.7M561.7 138.2l2.5 -10.5M565.1 141.2l2.5 -10.5M568.4 144.1l1.2 -5.3M601.6 161.9l-25.8 -25.1M575.8 136.8l3.0 -10.4M579.0 139.9l3.0 -10.4M614.4 161.9l-25.6 -25.3M588.7 136.6l3.1 -10.4M591.9 139.8l3.1 -10.4M595.1 142.9l1.5 -5.2M627.2 161.9l-23.4 -27.4M603.8 134.5l3.9 -10.1M606.7 138.0l3.9 -10.1M609.6 141.4l2.0 -5.0M640.0 161.9l-23.9 -26.9M616.1 135.0l3.8 -10.1M619.1 138.3l3.8 -10.1M622.0 141.7l1.9 -5.1M652.8 161.9l-22.5 -28.1M630.3 133.8l4.3 -9.9M633.1 137.3l4.3 -9.9M665.6 161.9l-24.7 -26.2M640.9 135.7l3.5 -10.2M643.9 139.0l3.5 -10.2M678.4 161.9l-22.4 -28.2M656.0 133.7l4.3 -9.9M658.8 137.3l4.3 -9.9M691.2 161.9l-22.7 -27.9M668.4 134.0l4.2 -10.0M671.3 137.5l4.2 -10.0M674.1 141.0l2.1 -5.0M704.0 161.9l-21.2 -29.1M682.7 132.8l4.7 -9.7M685.4 136.5l4.7 -9.7M688.1 140.1l2.4 -4.9M716.8 161.9l-22.3 -28.3M694.5 133.6l4.3 -9.9M697.3 137.2l4.3 -9.9M700.1 140.7l2.2 -4.9M729.6 161.9l-22.6 -28.0M707.0 133.9l4.2 -9.9M709.8 137.4l4.2 -9.9M742.4 161.9l-21.6 -28.8M720.8 133.1l4.6 -9.8M723.5 136.7l4.6 -9.8M726.2 140.3l2.3 -4.9M755.2 161.9l-21.4 -29.0M733.8 132.9l4.7 -9.7M736.5 136.5l4.7 -9.7M739.2 140.2l2.3 -4.9M768.0 161.9l-21.3 -29.0M746.7 132.9l4.7 -9.7M749.3 136.5l4.7 -9.7M780.8 161.9l-22.7 -27.9M758.1 134.0l4.2 -10.0M760.9 137.5l4.2 -10.0M763.7 141.0l2.1 -5.0M793.6 161.9l-23.3 -27.5M770.3 134.4l4.0 -10.0M773.2 137.9l4.0 -10.0M776.1 141.3l2.0 -5.0M806.4 161.9l-23.8 -27.0M782.6 134.9l3.8 -10.1M785.6 138.2l3.8 -10.1M788.6 141.6l1.9 -5.1M819.2 161.9l-21.8 -28.6M797.4 133.3l4.5 -9.8M800.1 136.8l4.5 -9.8M802.8 140.4l2.3 -4.9M832.0 161.9l-23.7 -27.1M808.3 134.8l3.9 -10.1M811.3 138.2l3.9 -10.1M844.8 161.9l-24.9 -26.0M819.9 135.9l3.4 -10.3M823.0 139.2l3.4 -10.3M857.6 161.9l-29.1 -21.2M828.5 140.7l1.5 -10.7M832.2 143.3l1.5 -10.7M870.4 161.9l-29.6 -20.5M840.8 141.4l1.3 -10.7M844.5 143.9l1.3 -10.7M153.5 152.0l-36.0 0.6M117.5 152.6l-5.2 -9.4M122.0 152.5l-5.2 -9.4M166.3 152.0l-36.0 0.7M130.3 152.7l-5.2 -9.4M134.8 152.6l-2.6 -4.7M179.1 152.0l-36.0 -1.0M143.1 151.0l-4.8 -9.7M147.6 151.1l-2.4 -4.8M191.9 152.0l-36.0 -0.9M155.9 151.1l-4.8 -9.7M160.4 151.2l-2.4 -4.8M204.7 152.0l-36.0 -1.0M168.7 151.0l-4.8 -9.7M173.2 151.1l-4.8 -9.7M217.5 152.0l-36.0 -1.2M181.5 150.8l-4.8 -9.7M186.0 151.0l-2.4 -4.8M230.3 152.0l-36.0 -0.6M194.3 151.4l-4.9 -9.6M198.8 151.5l-4.9 -9.6M243.1 152.0l-36.0 -1.4M207.1 150.5l-4.7 -9.7M211.6 150.7l-4.7 -9.7M255.9 152.0l-36.0 -0.9M219.9 151.1l-4.8 -9.7M224.4 151.2l-4.8 -9.7M268.7 152.0l-36.0 -1.0M232.7 150.9l-4.8 -9.7M237.2 151.1l-2.4 -4.8M281.5 152.0l-36.0 -0.9M245.5 151.1l-4.8 -9.7M250.0 151.2l-2.4 -4.8M294.3 152.0l-36.0 -1.5M258.4 150.5l-4.7 -9.7M262.8 150.7l-2.3 -4.9M307.1 152.0l-35.8 -3.8M271.3 148.2l-4.0 -10.0M275.8 148.6l-4.0 -10.0M319.9 152.0l-33.7 -12.7M286.2 139.3l-1.4 -10.7M290.4 140.9l-1.4 -10.7M332.7 152.0l-31.9 -16.6M300.8 135.3l-0.1 -10.8M304.8 137.4l-0.1 -10.8M345.5 152.0l-27.3 -23.5M318.2 128.5l2.4 -10.5M321.6 131.4l2.4 -10.5M325.1 134.4l1.2 -5.3M358.3 152.0l-27.5 -23.3M330.8 128.7l2.3 -10.6M334.3 131.6l2.3 -10.6M337.7 134.5l1.1 -5.3M371.1 152.0l-28.9 -21.4M342.2 130.6l1.6 -10.7M345.8 133.2l1.6 -10.7M383.9 152.0l-27.7 -23.0M356.2 129.0l2.2 -10.6M359.7 131.8l2.2 -10.6M396.7 152.0l-29.0 -21.4M367.8 130.6l1.6 -10.7M371.4 133.3l1.6 -10.7M375.0 135.9l0.8 -5.3M409.5 152.0l-29.0 -21.3M380.5 130.7l1.5 -10.7M384.1 133.4l1.5 -10.7M387.8 136.0l0.8 -5.3M422.3 152.0l-28.0 -22.6M394.3 129.3l2.1 -10.6M397.8 132.2l2.1 -10.6M435.1 152.0l-29.3 -20.9M405.8 131.1l1.4 -10.7M409.5 133.7l1.4 -10.7M413.1 136.3l0.7 -5.4M447.9 152.0l-27.4 -23.3M420.5 128.7l2.3 -10.6M423.9 131.6l2.3 -10.6M427.4 134.5l1.2 -5.3M460.7 152.0l-28.7 -21.7M432.0 130.3l1.7 -10.7M435.6 133.0l1.7 -10.7M439.2 135.7l0.8 -5.3M473.5 152.0l-27.7 -23.0M445.9 129.0l2.2 -10.6M449.3 131.8l2.2 -10.6M452.8 134.7l1.1 -5.3M486.3 152.0l-28.9 -21.5M457.5 130.5l1.6 -10.7M461.1 133.2l1.6 -10.7M464.7 135.9l0.8 -5.3M499.1 152.0l-27.8 -22.8M471.3 129.1l2.1 -10.6M474.8 132.0l2.1 -10.6M478.3 134.9l1.1 -5.3M511.9 152.0l-28.6 -21.8M483.3 130.2l1.7 -10.7M486.9 132.9l1.7 -10.7M490.5 135.6l0.9 -5.3M524.8 152.0l-27.7 -23.0M497.1 128.9l2.2 -10.6M500.6 131.8l2.2 -10.6M504.0 134.7l1.1 -5.3M537.6 152.0l-26.2 -24.7M511.4 127.3l2.9 -10.4M514.6 130.4l2.9 -10.4M550.4 152.0l-27.1 -23.7M523.3 128.2l2.5 -10.5M526.7 131.2l2.5 -10.5M563.2 152.0l-27.4 -23.4M535.8 128.6l2.3 -10.5M539.2 131.5l2.3 -10.5M576.0 152.0l-26.6 -24.3M549.4 127.7l2.7 -10.5M552.7 130.8l2.7 -10.5M588.8 152.0l-25.4 -25.5M563.4 126.5l3.2 -10.3M566.5 129.7l3.2 -10.3M569.7 132.8l1.6 -5.2M601.6 152.0l-24.6 -26.3M576.9 125.7l3.5 -10.2M580.0 129.0l3.5 -10.2M583.1 132.3l1.7 -5.1M614.4 152.0l-26.0 -24.9M588.4 127.1l2.9 -10.4M591.6 130.2l2.9 -10.4M594.9 133.3l1.5 -5.2M627.2 152.0l-24.0 -26.8M603.2 125.1l3.7 -10.1M606.2 128.5l3.7 -10.1M640.0 152.0l-24.8 -26.1M615.2 125.8l3.4 -10.2M618.3 129.1l3.4 -10.2M652.8 152.0l-24.8 -26.1M628.0 125.9l3.4 -10.2M631.1 129.1l3.4 -10.2M665.6 152.0l-23.5 -27.3M642.0 124.7l3.9 -10.1M645.0 128.1l3.9 -10.1M678.4 152.0l-21.4 -28.9M656.9 123.1l4.6 -9.8M659.6 126.7l4.6 -9.8M691.2 152.0l-21.0 -29.3M670.2 122.7l4.8 -9.7M672.8 126.4l4.8 -9.7M704.0 152.0l-21.5 -28.9M682.5 123.1l4.6 -9.8M685.1 126.7l4.6 -9.8M687.8 130.3l4.6 -9.8M716.8 152.0l-22.7 -27.9M694.1 124.0l4.2 -9.9M696.9 127.5l4.2 -9.9M729.6 152.0l-23.0 -27.7M706.5 124.3l4.1 -10.0M709.4 127.8l4.1 -10.0M742.4 152.0l-22.5 -28.1M719.9 123.8l4.3 -9.9M722.7 127.4l4.3 -9.9M725.5 130.9l2.1 -5.0M755.2 152.0l-23.6 -27.1M731.5 124.8l3.9 -10.1M734.5 128.2l3.9 -10.1M737.4 131.6l1.9 -5.0M768.0 152.0l-22.5 -28.1M745.5 123.9l4.3 -9.9M748.3 127.4l4.3 -9.9M780.8 152.0l-22.5 -28.1M758.3 123.9l4.3 -9.9M761.1 127.4l4.3 -9.9M793.6 152.0l-23.6 -27.2M770.0 124.8l3.9 -10.1M772.9 128.2l3.9 -10.1M775.9 131.6l1.9 -5.0M806.4 152.0l-23.6 -27.2M782.8 124.8l3.9 -10.1M785.8 128.2l3.9 -10.1M819.2 152.0l-23.9 -26.9M795.3 125.1l3.7 -10.1M798.2 128.5l3.7 -10.1M801.2 131.8l1.9 -5.1M832.0 152.0l-23.8 -27.0M808.2 125.0l3.8 -10.1M811.2 128.4l3.8 -10.1M814.1 131.7l1.9 -5.1M844.8 152.0l-25.3 -25.6M819.5 126.3l3.2 -10.3M822.7 129.5l3.2 -10.3M857.6 152.0l-28.0 -22.6M829.6 129.4l2.0 -10.6M833.1 132.2l2.0 -10.6M870.4 152.0l-30.9 -18.5M839.5 133.5l0.5 -10.8M843.4 135.8l0.5 -10.8M847.2 138.1l0.3 -5.4M153.5 142.1l-36.0 0.3M117.5 142.4l-5.2 -9.5M122.0 142.3l-5.2 -9.5M126.5 142.3l-2.6 -4.7M166.3 142.1l-36.0 -0.9M130.3 141.1l-4.8 -9.7M134.8 141.2l-2.4 -4.8M179.1 142.1l-36.0 -1.1M143.1 141.0l-4.8 -9.7M147.6 141.1l-4.8 -9.7M191.9 142.1l-36.0 0.3M155.9 142.3l-5.1 -9.5M160.4 142.3l-5.1 -9.5M204.7 142.1l-36.0 -0.4M168.7 141.7l-5.0 -9.6M173.2 141.8l-5.0 -9.6M177.7 141.8l-2.5 -4.8M217.5 142.1l-36.0 -0.8M181.5 141.3l-4.9 -9.6M186.0 141.4l-2.4 -4.8M230.3 142.1l-36.0 -0.4M194.3 141.7l-5.0 -9.6M198.8 141.7l-2.5 -4.8M243.1 142.1l-36.0 -1.3M207.1 140.8l-4.7 -9.7M211.6 140.9l-2.4 -4.9M255.9 142.1l-36.0 -1.5M219.9 140.5l-4.7 -9.7M224.4 140.7l-2.3 -4.9M268.7 142.1l-36.0 -0.9M232.7 141.1l-4.8 -9.7M237.2 141.2l-2.4 -4.8M281.5 142.1l-36.0 -0.9M245.5 141.2l-4.8 -9.7M250.0 141.3l-4.8 -9.7M294.3 142.1l-36.0 -1.5M258.4 140.6l-4.7 -9.7M262.8 140.7l-2.3 -4.9M307.1 142.1l-35.7 -4.6M271.4 137.4l-3.8 -10.1M275.9 138.0l-3.8 -10.1M280.3 138.6l-1.9 -5.1M319.9 142.1l-34.3 -10.9M285.6 131.2l-1.9 -10.6M289.9 132.5l-1.9 -10.6M332.7 142.1l-31.3 -17.8M301.5 124.2l0.3 -10.8M305.4 126.5l0.3 -10.8M309.3 128.7l0.2 -5.4M345.5 142.1l-28.0 -22.6M317.5 119.4l2.0 -10.6M321.0 122.3l2.0 -10.6M324.5 125.1l1.0 -5.3M358.3 142.1l-27.3 -23.5M331.1 118.6l2.4 -10.5M334.5 121.5l2.4 -10.5M337.9 124.4l1.2 -5.3M371.1 142.1l-28.3 -22.2M342.8 119.8l1.9 -10.6M346.4 122.6l1.9 -10.6M349.9 125.4l1.0 -5.3M383.9 142.1l-27.0 -23.8M356.9 118.3l2.5 -10.5M360.3 121.2l2.5 -10.5M363.7 124.2l1.2 -5.3M396.7 142.1l-27.8 -22.8M368.9 119.2l2.1 -10.6M372.4 122.1l2.1 -10.6M375.9 124.9l1.1 -5.3M409.5 142.1l-28.6 -21.8M380.9 120.2l1.8 -10.7M384.5 122.9l1.8 -10.7M388.1 125.7l0.9 -5.3M422.3 142.1l-27.7 -23.0M394.7 119.0l2.2 -10.6M398.1 121.9l2.2 -10.6M435.1 142.1l-28.8 -21.6M406.4 120.4l1.7 -10.7M409.9 123.1l1.7 -10.7M413.5 125.8l0.8 -5.3M447.9 142.1l-29.5 -20.7M418.5 121.4l1.3 -10.7M422.2 124.0l1.3 -10.7M425.8 126.6l0.7 -5.4M460.7 142.1l-27.7 -23.0M433.1 119.1l2.2 -10.6M436.5 121.9l2.2 -10.6M440.0 124.8l1.1 -5.3M473.5 142.1l-28.0 -22.6M445.5 119.5l2.0 -10.6M449.0 122.3l2.0 -10.6M452.5 125.1l1.0 -5.3M486.3 142.1l-27.6 -23.1M458.8 118.9l2.2 -10.6M462.2 121.8l2.2 -10.6M465.7 124.7l1.1 -5.3M499.1 142.1l-27.6 -23.1M471.5 119.0l2.2 -10.6M475.0 121.8l2.2 -10.6M511.9 142.1l-27.4 -23.3M484.5 118.7l2.3 -10.5M488.0 121.6l2.3 -10.5M524.8 142.1l-28.5 -22.0M496.3 120.0l1.8 -10.6M499.8 122.8l1.8 -10.6M537.6 142.1l-26.8 -24.0M510.7 118.1l2.6 -10.5M514.1 121.1l2.6 -10.5M550.4 142.1l-27.3 -23.4M523.0 118.6l2.4 -10.5M526.4 121.6l2.4 -10.5M563.2 142.1l-25.8 -25.2M537.4 116.9l3.0 -10.4M540.6 120.0l3.0 -10.4M576.0 142.1l-26.5 -24.3M549.4 117.7l2.7 -10.5M552.7 120.8l2.7 -10.5M556.1 123.8l1.4 -5.2M588.8 142.1l-25.7 -25.2M563.0 116.9l3.0 -10.4M566.2 120.0l3.0 -10.4M601.6 142.1l-25.1 -25.8M576.4 116.3l3.3 -10.3M579.6 119.5l3.3 -10.3M582.7 122.7l1.6 -5.1M614.4 142.1l-24.3 -26.6M590.1 115.5l3.6 -10.2M593.1 118.8l3.6 -10.2M627.2 142.1l-25.7 -25.2M601.5 116.8l3.1 -10.4M604.7 120.0l3.1 -10.4M607.9 123.1l1.5 -5.2M640.0 142.1l-23.2 -27.5M616.8 114.5l4.0 -10.0M619.7 118.0l4.0 -10.0M652.8 142.1l-24.9 -26.0M627.9 116.0l3.4 -10.3M631.0 119.3l3.4 -10.3M634.1 122.5l1.7 -5.1M665.6 142.1l-22.1 -28.4M643.5 113.6l4.4 -9.9M646.2 117.2l4.4 -9.9M649.0 120.7l2.2 -4.9M678.4 142.1l-22.1 -28.4M656.3 113.6l4.4 -9.9M659.1 117.2l4.4 -9.9M661.8 120.7l2.2 -4.9M691.2 142.1l-22.8 -27.9M668.4 114.2l4.2 -10.0M671.2 117.7l4.2 -10.0M704.0 142.1l-23.5 -27.3M680.5 114.8l3.9 -10.1M683.4 118.2l3.9 -10.1M716.8 142.1l-21.2 -29.1M695.5 113.0l4.7 -9.7M698.2 116.6l4.7 -9.7M700.9 120.3l2.4 -4.9M729.6 142.1l-21.2 -29.1M708.3 113.0l4.7 -9.7M711.0 116.6l4.7 -9.7M742.4 142.1l-23.0 -27.7M719.4 114.3l4.1 -10.0M722.3 117.8l4.1 -10.0M725.2 121.3l2.1 -5.0M755.2 142.1l-23.8 -27.0M731.4 115.0l3.8 -10.1M734.4 118.4l3.8 -10.1M737.4 121.8l1.9 -5.1M768.0 142.1l-21.9 -28.6M746.1 113.5l4.5 -9.8M748.9 117.0l4.5 -9.8M780.8 142.1l-23.1 -27.6M757.7 114.5l4.1 -10.0M760.6 117.9l4.1 -10.0M763.4 121.4l2.0 -5.0M793.6 142.1l-22.3 -28.2M771.2 113.8l4.3 -9.9M774.0 117.4l4.3 -9.9M776.8 120.9l2.2 -4.9M806.4 142.1l-22.2 -28.4M784.2 113.7l4.4 -9.9M787.0 117.2l4.4 -9.9M789.8 120.8l2.2 -4.9M819.2 142.1l-21.9 -28.6M797.3 113.5l4.5 -9.8M800.0 117.0l4.5 -9.8M802.8 120.6l2.2 -4.9M832.0 142.1l-25.8 -25.1M806.1 117.0l3.0 -10.4M809.4 120.1l3.0 -10.4M812.6 123.3l1.5 -5.2M844.8 142.1l-25.7 -25.2M819.1 116.8l3.1 -10.4M822.3 120.0l3.1 -10.4M825.5 123.1l1.5 -5.2M857.6 142.1l-29.1 -21.1M828.5 120.9l1.5 -10.7M832.1 123.6l1.5 -10.7M835.7 126.2l0.7 -5.3M870.4 142.1l-29.5 -20.7M840.9 121.4l1.3 -10.7M844.6 124.0l1.3 -10.7M848.3 126.6l0.7 -5.4M153.5 132.1l-36.0 -0.7M117.5 131.5l-4.9 -9.6M122.0 131.5l-4.9 -9.6M126.5 131.6l-2.4 -4.8M166.3 132.1l-36.0 0.7M130.3 132.9l-5.3 -9.4M134.8 132.8l-5.3 -9.4M139.3 132.7l-2.6 -4.7M179.1 132.1l-36.0 -0.7M143.1 131.4l-4.9 -9.6M147.6 131.5l-4.9 -9.6M152.1 131.6l-2.4 -4.8M191.9 132.1l-36.0 -0.7M155.9 131.5l-4.9 -9.6M160.4 131.5l-4.9 -9.6M204.7 132.1l-36.0 0.0M168.7 132.2l-5.1 -9.5M173.2 132.2l-5.1 -9.5M177.7 132.2l-2.5 -4.8M217.5 132.1l-36.0 -0.9M181.5 131.3l-4.8 -9.7M186.0 131.4l-4.8 -9.7M230.3 132.1l-36.0 -0.3M194.3 131.8l-5.0 -9.6M198.8 131.9l-5.0 -9.6M203.3 131.9l-2.5 -4.8M243.1 132.1l-36.0 -0.8M207.1 131.3l-4.8 -9.7M211.6 131.4l-4.8 -9.7M255.9 132.1l-36.0 -1.6M220.0 130.5l-4.6 -9.8M224.4 130.7l-4.6 -9.8M268.7 132.1l-36.0 -0.4M232.7 131.8l-5.0 -9.6M237.2 131.8l-5.0 -9.6M281.5 132.1l-36.0 -0.8M245.5 131.3l-4.9 -9.6M250.0 131.4l-4.9 -9.6M294.3 132.1l-36.0 -1.5M258.3 130.7l-4.7 -9.7M262.8 130.9l-4.7 -9.7M307.1 132.1l-35.8 -3.5M271.3 128.7l-4.1 -10.0M275.8 129.1l-4.1 -10.0M319.9 132.1l-33.3 -13.6M286.6 118.6l-1.1 -10.7M290.7 120.3l-1.1 -10.7M294.9 122.0l-0.5 -5.4M332.7 132.1l-31.3 -17.8M301.4 114.4l0.3 -10.8M305.3 116.6l0.3 -10.8M345.5 132.1l-28.2 -22.3M317.3 109.8l1.9 -10.6M320.8 112.6l1.9 -10.6M324.4 115.4l1.0 -5.3M358.3 132.1l-28.7 -21.8M329.7 110.4l1.7 -10.7M333.2 113.1l1.7 -10.7M336.8 115.8l0.9 -5.3M371.1 132.1l-27.8 -22.9M343.4 109.2l2.2 -10.6M346.8 112.1l2.2 -10.6M350.3 115.0l1.1 -5.3M383.9 132.1l-27.9 -22.8M356.0 109.4l2.1 -10.6M359.5 112.2l2.1 -10.6M396.7 132.1l-28.1 -22.5M368.7 109.6l2.0 -10.6M372.2 112.4l2.0 -10.6M375.7 115.2l1.0 -5.3M409.5 132.1l-28.3 -22.3M381.3 109.8l1.9 -10.6M384.8 112.6l1.9 -10.6M422.3 132.1l-29.5 -20.7M392.8 111.5l1.3 -10.7M396.5 114.1l1.3 -10.7M400.2 116.7l0.7 -5.4M435.1 132.1l-28.9 -21.4M406.2 110.7l1.6 -10.7M409.8 113.4l1.6 -10.7M413.4 116.1l0.8 -5.3M447.9 132.1l-28.1 -22.5M419.8 109.6l2.0 -10.6M423.4 112.5l2.0 -10.6M426.9 115.3l1.0 -5.3M460.7 132.1l-27.6 -23.1M433.1 109.0l2.2 -10.6M436.6 111.9l2.2 -10.6M473.5 132.1l-27.0 -23.8M446.5 108.4l2.5 -10.5M449.9 111.3l2.5 -10.5M453.3 114.3l1.2 -5.3M486.3 132.1l-28.8 -21.6M457.5 110.6l1.7 -10.7M461.1 113.3l1.7 -10.7M499.1 132.1l-27.4 -23.4M471.8 108.7l2.3 -10.5M475.2 111.7l2.3 -10.5M511.9 132.1l-26.6 -24.3M485.4 107.9l2.7 -10.5M488.7 110.9l2.7 -10.5M492.0 113.9l1.3 -5.2M524.8 132.1l-28.2 -22.4M496.5 109.8l1.9 -10.6M500.1 112.6l1.9 -10.6M537.6 132.1l-26.5 -24.4M511.1 107.7l2.7 -10.4M514.4 110.8l2.7 -10.4M517.7 113.8l1.4 -5.2M550.4 132.1l-26.2 -24.7M524.2 107.5l2.8 -10.4M527.4 110.5l2.8 -10.4M530.7 113.6l1.4 -5.2M563.2 132.1l-26.3 -24.6M536.9 107.5l2.8 -10.4M540.2 110.6l2.8 -10.4M543.4 113.7l1.4 -5.2M576.0 132.1l-25.5 -25.4M550.5 106.7l3.1 -10.3M553.7 109.9l3.1 -10.3M588.8 132.1l-25.7 -25.2M563.1 106.9l3.1 -10.4M566.3 110.1l3.1 -10.4M601.6 132.1l-26.1 -24.8M575.5 107.3l2.9 -10.4M578.7 110.4l2.9 -10.4M614.4 132.1l-25.4 -25.5M588.9 106.7l3.2 -10.3M592.1 109.8l3.2 -10.3M595.3 113.0l1.6 -5.2M627.2 132.1l-24.2 -26.7M603.0 105.5l3.7 -10.2M606.0 108.8l3.7 -10.2M640.0 132.1l-23.1 -27.6M616.8 104.6l4.0 -10.0M619.7 108.0l4.0 -10.0M652.8 132.1l-24.6 -26.3M628.2 105.9l3.5 -10.2M631.2 109.1l3.5 -10.2M634.3 112.4l1.7 -5.1M665.6 132.1l-21.9 -28.5M643.6 103.6l4.5 -9.8M646.4 107.2l4.5 -9.8M649.1 110.7l2.2 -4.9M678.4 132.1l-23.2 -27.5M655.2 104.6l4.0 -10.0M658.1 108.1l4.0 -10.0M691.2 132.1l-21.1 -29.2M670.1 103.0l4.8 -9.7M672.7 106.6l4.8 -9.7M704.0 132.1l-21.8 -28.7M682.2 103.5l4.5 -9.8M684.9 107.0l4.5 -9.8M687.7 110.6l2.3 -4.9M716.8 132.1l-21.9 -28.6M694.9 103.6l4.5 -9.8M697.6 107.1l4.5 -9.8M700.4 110.7l2.2 -4.9M729.6 132.1l-23.5 -27.3M706.1 104.8l3.9 -10.1M709.0 108.3l3.9 -10.1M712.0 111.7l2.0 -5.0M742.4 132.1l-21.4 -29.0M721.0 103.2l4.7 -9.7M723.7 106.8l4.7 -9.7M726.3 110.4l2.3 -4.9M755.2 132.1l-21.4 -29.0M733.8 103.2l4.7 -9.7M736.5 106.8l4.7 -9.7M739.1 110.4l2.3 -4.9M768.0 132.1l-21.5 -28.9M746.5 103.3l4.6 -9.8M749.2 106.9l4.6 -9.8M780.8 132.1l-22.6 -28.1M758.2 104.1l4.3 -9.9M761.0 107.6l4.3 -9.9M793.6 132.1l-24.3 -26.5M769.3 105.6l3.6 -10.2M772.3 108.9l3.6 -10.2M775.3 112.2l1.8 -5.1M806.4 132.1l-24.2 -26.7M782.2 105.5l3.7 -10.2M785.2 108.8l3.7 -10.2M788.3 112.1l1.8 -5.1M819.2 132.1l-23.9 -26.9M795.3 105.2l3.8 -10.1M798.3 108.6l3.8 -10.1M801.3 111.9l1.9 -5.1M832.0 132.1l-24.6 -26.3M807.4 105.8l3.5 -10.2M810.5 109.1l3.5 -10.2M813.6 112.4l1.8 -5.1M844.8 132.1l-26.6 -24.3M818.2 107.9l2.7 -10.5M821.5 110.9l2.7 -10.5M857.6 132.1l-28.3 -22.3M829.3 109.9l1.9 -10.6M832.8 112.7l1.9 -10.6M870.4 132.1l-30.5 -19.2M839.9 113.0l0.8 -10.8M843.7 115.4l0.8 -10.8M847.6 117.8l0.4 -5.4M153.5 122.2l-36.0 0.4M117.5 122.6l-5.2 -9.5M122.0 122.5l-5.2 -9.5M126.5 122.5l-2.6 -4.7M166.3 122.2l-36.0 0.4M130.3 122.7l-5.2 -9.5M134.8 122.6l-5.2 -9.5M139.3 122.5l-5.2 -9.5M179.1 122.2l-36.0 -1.0M143.1 121.2l-4.8 -9.7M147.6 121.4l-4.8 -9.7M191.9 122.2l-36.0 -1.2M155.9 121.0l-4.8 -9.7M160.4 121.2l-4.8 -9.7M204.7 122.2l-36.0 0.4M168.7 122.6l-5.2 -9.5M173.2 122.6l-5.2 -9.5M177.7 122.5l-2.6 -4.7M217.5 122.2l-36.0 -0.7M181.5 121.6l-4.9 -9.6M186.0 121.6l-4.9 -9.6M190.5 121.7l-2.4 -4.8M230.3 122.2l-36.0 -0.5M194.3 121.7l-4.9 -9.6M198.8 121.7l-4.9 -9.6M243.1 122.2l-36.0 -0.2M207.1 122.0l-5.0 -9.6M211.6 122.0l-5.0 -9.6M216.1 122.0l-2.5 -4.8M255.9 122.2l-36.0 -0.2M219.9 122.0l-5.0 -9.6M224.4 122.0l-5.0 -9.6M228.9 122.0l-2.5 -4.8M268.7 122.2l-35.9 -1.9M232.8 120.3l-4.6 -9.8M237.3 120.5l-4.6 -9.8M241.8 120.8l-2.3 -4.9M281.5 122.2l-36.0 -1.9M245.6 120.4l-4.6 -9.8M250.1 120.6l-4.6 -9.8M254.6 120.8l-4.6 -9.8M294.3 122.2l-35.9 -2.0M258.4 120.2l-4.5 -9.8M262.9 120.5l-4.5 -9.8M307.1 122.2l-35.7 -4.3M271.4 118.0l-3.9 -10.1M275.8 118.5l-3.9 -10.1M319.9 122.2l-34.1 -11.7M285.9 110.5l-1.7 -10.7M290.1 112.0l-1.7 -10.7M332.7 122.2l-31.2 -18.0M301.6 104.2l0.4 -10.8M305.5 106.4l0.4 -10.8M345.5 122.2l-27.5 -23.2M318.0 99.0l2.3 -10.6M321.5 101.9l2.3 -10.6M358.3 122.2l-28.2 -22.4M330.1 99.9l2.0 -10.6M333.6 102.6l2.0 -10.6M371.1 122.2l-27.1 -23.7M344.0 98.5l2.5 -10.5M347.4 101.5l2.5 -10.5M383.9 122.2l-28.3 -22.3M355.7 99.9l1.9 -10.6M359.2 102.7l1.9 -10.6M362.7 105.5l1.0 -5.3M396.7 122.2l-27.2 -23.6M369.5 98.6l2.4 -10.5M372.9 101.6l2.4 -10.5M376.3 104.5l1.2 -5.3M409.5 122.2l-29.3 -20.9M380.2 101.4l1.4 -10.7M383.9 104.0l1.4 -10.7M422.3 122.2l-27.9 -22.7M394.4 99.5l2.1 -10.6M397.9 102.3l2.1 -10.6M401.4 105.2l1.0 -5.3M435.1 122.2l-29.6 -20.5M405.5 101.7l1.3 -10.7M409.2 104.3l1.3 -10.7M447.9 122.2l-29.0 -21.4M419.0 100.8l1.6 -10.7M422.6 103.5l1.6 -10.7M426.2 106.2l0.8 -5.3M460.7 122.2l-29.2 -21.1M431.6 101.1l1.5 -10.7M435.2 103.8l1.5 -10.7M473.5 122.2l-27.1 -23.7M446.5 98.5l2.5 -10.5M449.8 101.5l2.5 -10.5M486.3 122.2l-27.2 -23.6M459.2 98.6l2.4 -10.5M462.6 101.6l2.4 -10.5M466.0 104.5l1.2 -5.3M499.1 122.2l-28.6 -21.8M470.5 100.4l1.8 -10.7M474.1 103.1l1.8 -10.7M477.7 105.8l0.9 -5.3M511.9 122.2l-26.5 -24.3M485.4 97.9l2.7 -10.5M488.7 100.9l2.7 -10.5M524.8 122.2l-26.6 -24.2M498.1 98.0l2.7 -10.5M501.5 101.0l2.7 -10.5M504.8 104.1l1.3 -5.2M537.6 122.2l-27.6 -23.1M509.9 99.1l2.2 -10.6M513.4 102.0l2.2 -10.6M516.8 104.9l1.1 -5.3M550.4 122.2l-26.7 -24.1M523.6 98.1l2.6 -10.5M527.0 101.1l2.6 -10.5M530.3 104.1l1.3 -5.2M563.2 122.2l-26.6 -24.3M536.6 97.9l2.7 -10.5M539.9 101.0l2.7 -10.5M576.0 122.2l-26.2 -24.7M549.8 97.5l2.9 -10.4M553.1 100.6l2.9 -10.4M556.3 103.7l1.4 -5.2M588.8 122.2l-26.4 -24.5M562.3 97.8l2.8 -10.4M565.6 100.8l2.8 -10.4M601.6 122.2l-25.6 -25.3M575.9 97.0l3.1 -10.4M579.1 100.1l3.1 -10.4M614.4 122.2l-23.8 -27.0M590.6 95.2l3.8 -10.1M593.5 98.6l3.8 -10.1M627.2 122.2l-24.3 -26.6M602.9 95.6l3.6 -10.2M605.9 98.9l3.6 -10.2M640.0 122.2l-23.0 -27.7M616.9 94.5l4.1 -10.0M619.8 98.0l4.1 -10.0M652.8 122.2l-25.0 -25.9M627.7 96.3l3.3 -10.3M630.9 99.6l3.3 -10.3M634.0 102.8l1.7 -5.1M665.6 122.2l-22.0 -28.5M643.6 93.7l4.5 -9.8M646.3 97.3l4.5 -9.8M678.4 122.2l-22.5 -28.1M655.8 94.1l4.3 -9.9M658.7 97.7l4.3 -9.9M691.2 122.2l-21.4 -29.0M669.8 93.3l4.7 -9.7M672.5 96.9l4.7 -9.7M675.1 100.5l2.3 -4.9M704.0 122.2l-23.2 -27.5M680.8 94.7l4.0 -10.0M683.7 98.1l4.0 -10.0M716.8 122.2l-21.3 -29.0M695.4 93.2l4.7 -9.7M698.1 96.8l4.7 -9.7M729.6 122.2l-20.9 -29.3M708.6 92.9l4.8 -9.7M711.3 96.6l4.8 -9.7M713.9 100.3l2.4 -4.8M742.4 122.2l-21.7 -28.7M720.7 93.5l4.5 -9.8M723.4 97.1l4.5 -9.8M726.1 100.7l2.3 -4.9M755.2 122.2l-23.5 -27.3M731.7 94.9l3.9 -10.1M734.7 98.3l3.9 -10.1M768.0 122.2l-21.8 -28.6M746.2 93.6l4.5 -9.8M748.9 97.2l4.5 -9.8M780.8 122.2l-23.6 -27.2M757.2 95.0l3.9 -10.1M760.1 98.4l3.9 -10.1M763.1 101.8l1.9 -5.0M793.6 122.2l-22.3 -28.2M771.2 94.0l4.3 -9.9M774.0 97.5l4.3 -9.9M776.8 101.1l2.2 -4.9M806.4 122.2l-22.6 -28.0M783.8 94.2l4.2 -9.9M786.6 97.7l4.2 -9.9M789.4 101.2l2.1 -5.0M819.2 122.2l-24.0 -26.9M795.2 95.4l3.7 -10.1M798.2 98.7l3.7 -10.1M832.0 122.2l-25.5 -25.4M806.5 96.8l3.1 -10.3M809.7 100.0l3.1 -10.3M812.9 103.1l1.6 -5.2M844.8 122.2l-26.4 -24.5M818.4 97.8l2.8 -10.4M821.7 100.8l2.8 -10.4M825.0 103.9l1.4 -5.2M857.6 122.2l-29.2 -21.0M828.4 101.2l1.5 -10.7M832.0 103.8l1.5 -10.7M870.4 122.2l-31.4 -17.6M839.0 104.6l0.3 -10.8M842.9 106.8l0.3 -10.8M153.5 112.3l-36.0 0.6M117.5 112.9l-5.2 -9.5M122.0 112.8l-5.2 -9.5M166.3 112.3l-36.0 -0.5M130.3 111.8l-4.9 -9.6M134.8 111.9l-4.9 -9.6M139.3 111.9l-2.5 -4.8M179.1 112.3l-36.0 0.4M143.1 112.7l-5.2 -9.5M147.6 112.7l-5.2 -9.5M152.1 112.6l-2.6 -4.7M191.9 112.3l-36.0 -0.9M155.9 111.4l-4.8 -9.7M160.4 111.5l-4.8 -9.7M164.9 111.6l-4.8 -9.7M204.7 112.3l-36.0 0.2M168.7 112.5l-5.1 -9.5M173.2 112.5l-5.1 -9.5M177.7 112.5l-2.6 -4.8M217.5 112.3l-36.0 -1.4M181.5 110.9l-4.7 -9.7M186.0 111.1l-4.7 -9.7M190.5 111.3l-2.3 -4.9M230.3 112.3l-36.0 -1.1M194.3 111.2l-4.8 -9.7M198.8 111.4l-4.8 -9.7M203.3 111.5l-2.4 -4.8M243.1 112.3l-36.0 0.1M207.1 112.4l-5.1 -9.5M211.6 112.4l-5.1 -9.5M216.1 112.3l-2.5 -4.8M255.9 112.3l-36.0 -0.3M219.9 112.0l-5.0 -9.6M224.4 112.1l-5.0 -9.6M268.7 112.3l-36.0 -1.5M232.7 110.8l-4.7 -9.7M237.2 111.0l-4.7 -9.7M241.7 111.2l-2.3 -4.9M281.5 112.3l-36.0 -1.4M245.5 110.9l-4.7 -9.7M250.0 111.1l-4.7 -9.7M294.3 112.3l-35.9 -2.0M258.4 110.3l-4.5 -9.8M262.9 110.5l-4.5 -9.8M307.1 112.3l-35.6 -5.6M271.6 106.7l-3.5 -10.2M276.0 107.4l-3.5 -10.2M319.9 112.3l-33.7 -12.6M286.2 99.7l-1.4 -10.7M290.4 101.3l-1.4 -10.7M332.7 112.3l-30.7 -18.8M302.0 93.5l0.6 -10.8M305.8 95.9l0.3 -5.4M345.5 112.3l-28.0 -22.6M317.5 89.7l2.0 -10.6M321.0 92.5l2.0 -10.6M358.3 112.3l-27.8 -22.9M330.6 89.4l2.2 -10.6M334.0 92.3l2.2 -10.6M371.1 112.3l-27.4 -23.3M343.7 89.0l2.3 -10.6M347.1 91.9l2.3 -10.6M383.9 112.3l-27.7 -23.0M356.2 89.3l2.2 -10.6M359.7 92.2l2.2 -10.6M396.7 112.3l-27.5 -23.3M369.3 89.0l2.3 -10.6M372.7 92.0l2.3 -10.6M409.5 112.3l-28.5 -21.9M381.0 90.4l1.8 -10.7M384.6 93.1l1.8 -10.7M422.3 112.3l-29.6 -20.6M392.8 91.7l1.3 -10.7M396.5 94.3l1.3 -10.7M435.1 112.3l-28.4 -22.1M406.7 90.2l1.9 -10.6M410.3 93.0l1.9 -10.6M413.8 95.7l0.9 -5.3M447.9 112.3l-27.2 -23.5M420.7 88.8l2.4 -10.5M424.1 91.7l2.4 -10.5M460.7 112.3l-28.8 -21.5M431.9 90.8l1.6 -10.7M435.5 93.5l1.6 -10.7M439.1 96.1l0.8 -5.3M473.5 112.3l-28.0 -22.6M445.5 89.7l2.1 -10.6M449.0 92.5l2.1 -10.6M486.3 112.3l-28.4 -22.1M457.9 90.2l1.8 -10.6M461.5 93.0l1.8 -10.6M465.0 95.7l0.9 -5.3M499.1 112.3l-28.3 -22.2M470.8 90.1l1.9 -10.6M474.4 92.9l1.9 -10.6M477.9 95.7l0.9 -5.3M511.9 112.3l-28.4 -22.1M483.6 90.2l1.9 -10.6M487.1 92.9l1.9 -10.6M490.7 95.7l0.9 -5.3M524.8 112.3l-27.7 -23.0M497.1 89.3l2.2 -10.6M500.5 92.2l2.2 -10.6M504.0 95.1l1.1 -5.3M537.6 112.3l-27.2 -23.6M510.4 88.7l2.4 -10.5M513.8 91.6l2.4 -10.5M517.2 94.6l1.2 -5.3M550.4 112.3l-27.0 -23.9M523.4 88.4l2.5 -10.5M526.8 91.4l2.5 -10.5M530.1 94.4l1.3 -5.3M563.2 112.3l-27.5 -23.2M535.6 89.1l2.3 -10.6M539.1 92.0l2.3 -10.6M576.0 112.3l-26.9 -23.9M549.0 88.4l2.5 -10.5M552.4 91.4l2.5 -10.5M555.8 94.4l1.3 -5.2M588.8 112.3l-26.1 -24.8M562.6 87.5l2.9 -10.4M565.9 90.6l2.9 -10.4M569.2 93.7l1.4 -5.2M601.6 112.3l-24.2 -26.6M577.3 85.7l3.6 -10.2M580.4 89.0l3.6 -10.2M583.4 92.3l1.8 -5.1M614.4 112.3l-24.7 -26.2M589.6 86.1l3.5 -10.2M592.7 89.4l3.5 -10.2M595.8 92.7l1.7 -5.1M627.2 112.3l-23.7 -27.1M603.5 85.2l3.8 -10.1M606.4 88.6l3.8 -10.1M609.4 92.0l1.9 -5.0M640.0 112.3l-23.2 -27.5M616.8 84.8l4.0 -10.0M619.7 88.2l4.0 -10.0M622.6 91.7l2.0 -5.0M652.8 112.3l-23.8 -27.0M629.0 85.3l3.8 -10.1M632.0 88.6l3.8 -10.1M634.9 92.0l1.9 -5.1M665.6 112.3l-22.8 -27.9M642.8 84.4l4.2 -10.0M645.6 87.9l4.2 -10.0M648.5 91.4l2.1 -5.0M678.4 112.3l-21.5 -28.9M656.9 83.4l4.6 -9.8M659.6 87.0l4.6 -9.8M691.2 112.3l-23.2 -27.6M668.0 84.7l4.0 -10.0M670.9 88.2l4.0 -10.0M673.8 91.6l2.0 -5.0M704.0 112.3l-23.0 -27.7M681.0 84.6l4.1 -10.0M683.8 88.1l4.1 -10.0M716.8 112.3l-21.0 -29.2M695.7 83.1l4.8 -9.7M698.4 86.7l4.8 -9.7M701.0 90.4l2.4 -4.8M729.6 112.3l-23.1 -27.6M706.5 84.7l4.1 -10.0M709.4 88.1l4.1 -10.0M742.4 112.3l-23.8 -27.0M718.6 85.3l3.8 -10.1M721.6 88.6l3.8 -10.1M724.6 92.0l1.9 -5.1M755.2 112.3l-21.2 -29.1M734.0 83.2l4.7 -9.7M736.6 86.9l4.7 -9.7M739.3 90.5l2.4 -4.9M768.0 112.3l-22.2 -28.3M745.7 84.0l4.4 -9.9M748.5 87.5l4.4 -9.9M780.8 112.3l-23.9 -26.9M756.9 85.4l3.8 -10.1M759.8 88.8l3.8 -10.1M762.8 92.1l1.9 -5.1M793.6 112.3l-21.8 -28.6M771.8 83.7l4.5 -9.8M774.5 87.2l4.5 -9.8M806.4 112.3l-22.4 -28.2M784.0 84.1l4.3 -9.9M786.8 87.6l4.3 -9.9M789.6 91.1l2.2 -4.9M819.2 112.3l-22.0 -28.5M797.2 83.8l4.5 -9.8M800.0 87.4l4.5 -9.8M832.0 112.3l-24.4 -26.5M807.6 85.8l3.6 -10.2M810.6 89.1l3.6 -10.2M813.7 92.4l1.8 -5.1M844.8 112.3l-26.0 -24.9M818.8 87.4l2.9 -10.4M822.1 90.5l2.9 -10.4M825.3 93.6l1.5 -5.2M857.6 112.3l-29.2 -21.0M828.4 91.3l1.5 -10.7M832.0 93.9l1.5 -10.7M835.7 96.5l0.7 -5.4M870.4 112.3l-31.2 -17.9M839.2 94.4l0.3 -10.8M843.1 96.6l0.3 -10.8M847.0 98.9l0.2 -5.4"/>
<circle cx="319.9" cy="400.0" r="4.4"/>
<circle cx="166.3" cy="390.1" r="4.4"/>
<circle cx="191.9" cy="390.1" r="4.4"/>
<circle cx="358.3" cy="380.1" r="4.4"/>
<circle cx="640.0" cy="380.1" r="4.4"/>
<circle cx="665.6" cy="380.1" r="4.4"/>
<circle cx="678.4" cy="380.1" r="4.4"/>
<circle cx="742.4" cy="380.1" r="4.4"/>
<circle cx="768.0" cy="380.1" r="4.4"/>
<circle cx="832.0" cy="380.1" r="4.4"/>
<circle cx="844.8" cy="380.1" r="4.4"/>
<circle cx="358.3" cy="370.2" r="4.4"/>
<circle cx="601.6" cy="370.2" r="4.4"/>
<circle cx="627.2" cy="370.2" r="4.4"/>
<circle cx="665.6" cy="370.2" r="4.4"/>
<circle cx="780.8" cy="370.2" r="4.4"/>
<circle cx="832.0" cy="370.2" r="4.4"/>
<circle cx="844.8" cy="370.2" r="4.4"/>
<circle cx="729.6" cy="360.3" r="4.4"/>
<circle cx="742.4" cy="360.3" r="4.4"/>
<circle cx="755.2" cy="360.3" r="4.4"/>
<circle cx="768.0" cy="360.3" r="4.4"/>
<circle cx="780.8" cy="360.3" r="4.4"/>
<circle cx="832.0" cy="360.3" r="4.4"/>
<circle cx="844.8" cy="360.3" r="4.4"/>
<circle cx="742.4" cy="350.4" r="4.4"/>
<circle cx="806.4" cy="350.4" r="4.4"/>
<circle cx="832.0" cy="340.5" r="4.4"/>
<circle cx="857.6" cy="340.5" r="4.4"/>
<circle cx="588.8" cy="330.5" r="4.4"/>
<circle cx="857.6" cy="330.5" r="4.4"/>
<circle cx="588.8" cy="320.6" r="4.4"/>
<circle cx="601.6" cy="310.7" r="4.4"/>
<circle cx="601.6" cy="300.8" r="4.4"/>
<circle cx="870.4" cy="300.8" r="4.4"/>
<circle cx="870.4" cy="290.9" r="4.4"/>
</g>
<path d="M166.3 102.5v10M166.3 409.5v-10M179.1 102.5v10M179.1 409.5v-10M191.9 102.5v10M191.9 409.5v-10M204.7 102.5v10M204.7 409.5v-10M217.5 102.5v10M217.5 409.5v-10M230.3 102.5v10M230.3 409.5v-10M243.1 102.5v10M243.1 409.5v-10M255.9 102.5v10M255.9 409.5v-10M268.7 102.5v10M268.7 409.5v-10M281.5 102.5v10M281.5 409.5v-10M294.3 102.5v10M294.3 409.5v-10M307.1 102.5v10M307.1 409.5v-10M319.9 102.5v10M319.9 409.5v-10M332.7 102.5v10M332.7 409.5v-10M345.5 102.5v10M345.5 409.5v-10M358.3 102.5v10M358.3 409.5v-10M371.1 102.5v10M371.1 409.5v-10M383.9 102.5v10M383.9 409.5v-10M396.7 102.5v10M396.7 409.5v-10M409.5 102.5v10M409.5 409.5v-10M422.3 102.5v10M422.3 409.5v-10M435.1 102.5v10M435.1 409.5v-10M447.9 102.5v10M447.9 409.5v-10M460.7 102.5v10M460.7 409.5v-10M473.5 102.5v10M473.5 409.5v-10M486.3 102.5v10M486.3 409.5v-10M499.1 102.5v10M499.1 409.5v-10M511.9 102.5v10M511.9 409.5v-10M524.8 102.5v10M524.8 409.5v-10M537.6 102.5v10M537.6 409.5v-10M550.4 102.5v10M550.4 409.5v-10M563.2 102.5v10M563.2 409.5v-10M576.0 102.5v10M576.0 409.5v-10M588.8 102.5v10M588.8 409.5v-10M601.6 102.5v10M601.6 409.5v-10M614.4 102.5v10M614.4 409.5v-10M627.2 102.5v10M627.2 409.5v-10M640.0 102.5v10M640.0 409.5v-10M652.8 102.5v10M652.8 409.5v-10M665.6 102.5v10M665.6 409.5v-10M678.4 102.5v10M678.4 409.5v-10M691.2 102.5v10M691.2 409.5v-10M704.0 102.5v10M704.0 409.5v-10M716.8 102.5v10M716.8 409.5v-10M729.6 102.5v10M729.6 409.5v-10M742.4 102.5v10M742.4 409.5v-10M755.2 102.5v10M755.2 409.5v-10M768.0 102.5v10M768.0 409.5v-10M780.8 102.5v10M780.8 409.5v-10M793.6 102.5v10M793.6 409.5v-10M806.4 102.5v10M806.4 409.5v-10M819.2 102.5v10M819.2 409.5v-10M832.0 102.5v10M832.0 409.5v-10M844.8 102.5v10M844.8 409.5v-10M857.6 102.5v10M857.6 409.5v-10M153.5 409.9h25M870.4 409.9h-25M153.5 360.3h25M870.4 360.3h-25M153.5 310.7h25M870.4 310.7h-25M153.5 261.1h25M870.4 261.1h-25M153.5 211.5h25M870.4 211.5h-25M153.5 161.9h25M870.4 161.9h-25M153.5 112.3h25M870.4 112.3h-25" stroke="#000" stroke-width="1" fill="none"/>
<rect x="153.5" y="102.5" width="716.9" height="307.0" fill="none" stroke="#000" stroke-width="1.1"/>
<text x="143.9" y="414.8" font-size="14" text-anchor="end" font-family="'Liberation Sans','DejaVu Sans',sans-serif" >0</text>
<text x="143.9" y="365.2" font-size="14" text-anchor="end" font-family="'Liberation Sans','DejaVu Sans',sans-serif" >5</text>
<text x="143.9" y="315.6" font-size="14" text-anchor="end" font-family="'Liberation Sans','DejaVu Sans',sans-serif" >10</text>
<text x="143.9" y="266.0" font-size="14" text-anchor="end" font-family="'Liberation Sans','DejaVu Sans',sans-serif" >15</text>
<text x="143.9" y="216.4" font-size="14" text-anchor="end" font-family="'Liberation Sans','DejaVu Sans',sans-serif" >20</text>
<text x="143.9" y="166.8" font-size="14" text-anchor="end" font-family="'Liberation Sans','DejaVu Sans',sans-serif" >25</text>
<text x="143.9" y="117.2" font-size="14" text-anchor="end" font-family="'Liberation Sans','DejaVu Sans',sans-serif" >30</text>
<text transform="translate(153.8,433.3) rotate(-45)" x="0" y="4.3" font-size="12.2" text-anchor="middle" font-family="'Liberation Sans','DejaVu Sans',sans-serif">23.00</text>
<text transform="translate(205.0,433.3) rotate(-45)" x="0" y="4.3" font-size="12.2" text-anchor="middle" font-family="'Liberation Sans','DejaVu Sans',sans-serif">23.12</text>
<text transform="translate(256.2,433.3) rotate(-45)" x="0" y="4.3" font-size="12.2" text-anchor="middle" font-family="'Liberation Sans','DejaVu Sans',sans-serif">24.00</text>
<text transform="translate(307.4,433.3) rotate(-45)" x="0" y="4.3" font-size="12.2" text-anchor="middle" font-family="'Liberation Sans','DejaVu Sans',sans-serif">24.12</text>
<text transform="translate(358.6,433.3) rotate(-45)" x="0" y="4.3" font-size="12.2" text-anchor="middle" font-family="'Liberation Sans','DejaVu Sans',sans-serif">25.00</text>
<text transform="translate(409.8,433.3) rotate(-45)" x="0" y="4.3" font-size="12.2" text-anchor="middle" font-family="'Liberation Sans','DejaVu Sans',sans-serif">25.12</text>
<text transform="translate(461.0,433.3) rotate(-45)" x="0" y="4.3" font-size="12.2" text-anchor="middle" font-family="'Liberation Sans','DejaVu Sans',sans-serif">26.00</text>
<text transform="translate(512.2,433.3) rotate(-45)" x="0" y="4.3" font-size="12.2" text-anchor="middle" font-family="'Liberation Sans','DejaVu Sans',sans-serif">26.12</text>
<text transform="translate(563.5,433.3) rotate(-45)" x="0" y="4.3" font-size="12.2" text-anchor="middle" font-family="'Liberation Sans','DejaVu Sans',sans-serif">27.00</text>
<text transform="translate(614.7,433.3) rotate(-45)" x="0" y="4.3" font-size="12.2" text-anchor="middle" font-family="'Liberation Sans','DejaVu Sans',sans-serif">27.12</text>
<text transform="translate(665.9,433.3) rotate(-45)" x="0" y="4.3" font-size="12.2" text-anchor="middle" font-family="'Liberation Sans','DejaVu Sans',sans-serif">28.00</text>
<text transform="translate(717.1,433.3) rotate(-45)" x="0" y="4.3" font-size="12.2" text-anchor="middle" font-family="'Liberation Sans','DejaVu Sans',sans-serif">28.12</text>
<text transform="translate(768.3,433.3) rotate(-45)" x="0" y="4.3" font-size="12.2" text-anchor="middle" font-family="'Liberation Sans','DejaVu Sans',sans-serif">29.00</text>
<text transform="translate(819.5,433.3) rotate(-45)" x="0" y="4.3" font-size="12.2" text-anchor="middle" font-family="'Liberation Sans','DejaVu Sans',sans-serif">29.12</text>
<text transform="translate(870.7,433.3) rotate(-45)" x="0" y="4.3" font-size="12.2" text-anchor="middle" font-family="'Liberation Sans','DejaVu Sans',sans-serif">30.00</text>
<rect x="889.3" y="113.1" width="19.7" height="285.7" fill="#fff"/>
<rect x="889.3" y="395.86" width="19.7" height="2.7" fill="#8e25e9"/>
<rect x="889.3" y="392.91" width="19.7" height="2.7" fill="#7f1fe7"/>
<rect x="889.3" y="389.97" width="19.7" height="2.7" fill="#6c18e6"/>
<rect x="889.3" y="387.02" width="19.7" height="2.7" fill="#5612e6"/>
<rect x="889.3" y="384.08" width="19.7" height="2.7" fill="#420ce8"/>
<rect x="889.3" y="381.13" width="19.7" height="2.7" fill="#2f06eb"/>
<rect x="889.3" y="378.19" width="19.7" height="2.7" fill="#1e02f1"/>
<rect x="889.3" y="375.24" width="19.7" height="2.7" fill="#0e00f8"/>
<rect x="889.3" y="372.30" width="19.7" height="2.7" fill="#0000ff"/>
<rect x="889.3" y="369.35" width="19.7" height="2.7" fill="#0102f9"/>
<rect x="889.3" y="366.40" width="19.7" height="2.7" fill="#050ef5"/>
<rect x="889.3" y="363.46" width="19.7" height="2.7" fill="#0f20ee"/>
<rect x="889.3" y="360.51" width="19.7" height="2.7" fill="#1a30e9"/>
<rect x="889.3" y="357.57" width="19.7" height="2.7" fill="#233ce6"/>
<rect x="889.3" y="354.62" width="19.7" height="2.7" fill="#2c48e3"/>
<rect x="889.3" y="351.68" width="19.7" height="2.7" fill="#3454e0"/>
<rect x="889.3" y="348.73" width="19.7" height="2.7" fill="#3b5ddd"/>
<rect x="889.3" y="345.79" width="19.7" height="2.7" fill="#3c64de"/>
<rect x="889.3" y="342.84" width="19.7" height="2.7" fill="#3b6ae2"/>
<rect x="889.3" y="339.90" width="19.7" height="2.7" fill="#3871e5"/>
<rect x="889.3" y="336.95" width="19.7" height="2.7" fill="#3377e8"/>
<rect x="889.3" y="334.00" width="19.7" height="2.7" fill="#2c7dec"/>
<rect x="889.3" y="331.06" width="19.7" height="2.7" fill="#2680f2"/>
<rect x="889.3" y="328.11" width="19.7" height="2.7" fill="#2283f6"/>
<rect x="889.3" y="325.17" width="19.7" height="2.7" fill="#1f86f9"/>
<rect x="889.3" y="322.22" width="19.7" height="2.7" fill="#1a87fa"/>
<rect x="889.3" y="319.28" width="19.7" height="2.7" fill="#1587fa"/>
<rect x="889.3" y="316.33" width="19.7" height="2.7" fill="#0e8dfa"/>
<rect x="889.3" y="313.39" width="19.7" height="2.7" fill="#0893fa"/>
<rect x="889.3" y="310.44" width="19.7" height="2.7" fill="#0299fa"/>
<rect x="889.3" y="307.50" width="19.7" height="2.7" fill="#00a2fa"/>
<rect x="889.3" y="304.55" width="19.7" height="2.7" fill="#00abfa"/>
<rect x="889.3" y="301.61" width="19.7" height="2.7" fill="#00b7fa"/>
<rect x="889.3" y="298.66" width="19.7" height="2.7" fill="#05b9fa"/>
<rect x="889.3" y="295.71" width="19.7" height="2.7" fill="#15b9f7"/>
<rect x="889.3" y="292.77" width="19.7" height="2.7" fill="#24baf4"/>
<rect x="889.3" y="289.82" width="19.7" height="2.7" fill="#34bdf2"/>
<rect x="889.3" y="286.88" width="19.7" height="2.7" fill="#48c0f1"/>
<rect x="889.3" y="283.93" width="19.7" height="2.7" fill="#5ec4f0"/>
<rect x="889.3" y="280.99" width="19.7" height="2.7" fill="#71c7ee"/>
<rect x="889.3" y="278.04" width="19.7" height="2.7" fill="#80caee"/>
<rect x="889.3" y="275.10" width="19.7" height="2.7" fill="#8eceee"/>
<rect x="889.3" y="272.15" width="19.7" height="2.7" fill="#99d2ef"/>
<rect x="889.3" y="269.21" width="19.7" height="2.7" fill="#a2d5f0"/>
<rect x="889.3" y="266.26" width="19.7" height="2.7" fill="#abd9f1"/>
<rect x="889.3" y="263.32" width="19.7" height="2.7" fill="#b4dcf2"/>
<rect x="889.3" y="260.37" width="19.7" height="2.7" fill="#bee1f3"/>
<rect x="889.3" y="257.42" width="19.7" height="2.7" fill="#c8e6f5"/>
<rect x="889.3" y="254.48" width="19.7" height="2.7" fill="#ffffce"/>
<rect x="889.3" y="251.53" width="19.7" height="2.7" fill="#fffec1"/>
<rect x="889.3" y="248.59" width="19.7" height="2.7" fill="#fffcb0"/>
<rect x="889.3" y="245.64" width="19.7" height="2.7" fill="#fffa9d"/>
<rect x="889.3" y="242.70" width="19.7" height="2.7" fill="#fff78a"/>
<rect x="889.3" y="239.75" width="19.7" height="2.7" fill="#fff478"/>
<rect x="889.3" y="236.81" width="19.7" height="2.7" fill="#fff167"/>
<rect x="889.3" y="233.86" width="19.7" height="2.7" fill="#ffec53"/>
<rect x="889.3" y="230.92" width="19.7" height="2.7" fill="#ffe535"/>
<rect x="889.3" y="227.97" width="19.7" height="2.7" fill="#ffdd2c"/>
<rect x="889.3" y="225.03" width="19.7" height="2.7" fill="#ffd523"/>
<rect x="889.3" y="222.08" width="19.7" height="2.7" fill="#ffcd19"/>
<rect x="889.3" y="219.13" width="19.7" height="2.7" fill="#ffc312"/>
<rect x="889.3" y="216.19" width="19.7" height="2.7" fill="#ffba0b"/>
<rect x="889.3" y="213.24" width="19.7" height="2.7" fill="#ffb306"/>
<rect x="889.3" y="210.30" width="19.7" height="2.7" fill="#ffac01"/>
<rect x="889.3" y="207.35" width="19.7" height="2.7" fill="#ffa500"/>
<rect x="889.3" y="204.41" width="19.7" height="2.7" fill="#ff9e00"/>
<rect x="889.3" y="201.46" width="19.7" height="2.7" fill="#ff9700"/>
<rect x="889.3" y="198.52" width="19.7" height="2.7" fill="#ff9000"/>
<rect x="889.3" y="195.57" width="19.7" height="2.7" fill="#ff8800"/>
<rect x="889.3" y="192.63" width="19.7" height="2.7" fill="#ff8100"/>
<rect x="889.3" y="189.68" width="19.7" height="2.7" fill="#ff7a00"/>
<rect x="889.3" y="186.73" width="19.7" height="2.7" fill="#ff7300"/>
<rect x="889.3" y="183.79" width="19.7" height="2.7" fill="#ff6c00"/>
<rect x="889.3" y="180.84" width="19.7" height="2.7" fill="#ff6300"/>
<rect x="889.3" y="177.90" width="19.7" height="2.7" fill="#ff5a00"/>
<rect x="889.3" y="174.95" width="19.7" height="2.7" fill="#ff4d00"/>
<rect x="889.3" y="172.01" width="19.7" height="2.7" fill="#ff3c00"/>
<rect x="889.3" y="169.06" width="19.7" height="2.7" fill="#ff3200"/>
<rect x="889.3" y="166.12" width="19.7" height="2.7" fill="#ff2600"/>
<rect x="889.3" y="163.17" width="19.7" height="2.7" fill="#ff1900"/>
<rect x="889.3" y="160.23" width="19.7" height="2.7" fill="#ff0800"/>
<rect x="889.3" y="157.28" width="19.7" height="2.7" fill="#fa0000"/>
<rect x="889.3" y="154.34" width="19.7" height="2.7" fill="#f10000"/>
<rect x="889.3" y="151.39" width="19.7" height="2.7" fill="#ea0000"/>
<rect x="889.3" y="148.44" width="19.7" height="2.7" fill="#e20000"/>
<rect x="889.3" y="145.50" width="19.7" height="2.7" fill="#db0000"/>
<rect x="889.3" y="142.55" width="19.7" height="2.7" fill="#d40000"/>
<rect x="889.3" y="139.61" width="19.7" height="2.7" fill="#cd0000"/>
<rect x="889.3" y="136.66" width="19.7" height="2.7" fill="#c60000"/>
<rect x="889.3" y="133.72" width="19.7" height="2.7" fill="#c60505"/>
<rect x="889.3" y="130.77" width="19.7" height="2.7" fill="#ca1212"/>
<rect x="889.3" y="127.83" width="19.7" height="2.7" fill="#d22626"/>
<rect x="889.3" y="124.88" width="19.7" height="2.7" fill="#da3c3c"/>
<rect x="889.3" y="121.94" width="19.7" height="2.7" fill="#de5050"/>
<rect x="889.3" y="118.99" width="19.7" height="2.7" fill="#e66969"/>
<rect x="889.3" y="116.05" width="19.7" height="2.7" fill="#f08787"/>
<rect x="889.3" y="113.10" width="19.7" height="2.7" fill="#faa5a5"/>
<text x="927.0" y="122.6" font-size="18" text-anchor="start" font-family="'Liberation Sans','DejaVu Sans',sans-serif"  textLength="18.0" lengthAdjust="spacingAndGlyphs">35</text>
<text x="927.0" y="143.2" font-size="18" text-anchor="start" font-family="'Liberation Sans','DejaVu Sans',sans-serif"  textLength="18.0" lengthAdjust="spacingAndGlyphs">28</text>
<text x="927.0" y="163.9" font-size="18" text-anchor="start" font-family="'Liberation Sans','DejaVu Sans',sans-serif"  textLength="18.0" lengthAdjust="spacingAndGlyphs">21</text>
<text x="927.0" y="184.5" font-size="18" text-anchor="start" font-family="'Liberation Sans','DejaVu Sans',sans-serif"  textLength="18.0" lengthAdjust="spacingAndGlyphs">14</text>
<text x="927.0" y="205.1" font-size="18" text-anchor="start" font-family="'Liberation Sans','DejaVu Sans',sans-serif"  textLength="9.0" lengthAdjust="spacingAndGlyphs">7</text>
<text x="927.0" y="225.8" font-size="18" text-anchor="start" font-family="'Liberation Sans','DejaVu Sans',sans-serif"  textLength="9.0" lengthAdjust="spacingAndGlyphs">0</text>
<text x="927.0" y="246.4" font-size="18" text-anchor="start" font-family="'Liberation Sans','DejaVu Sans',sans-serif"  textLength="14.4" lengthAdjust="spacingAndGlyphs">-7</text>
<text x="927.0" y="267.0" font-size="18" text-anchor="start" font-family="'Liberation Sans','DejaVu Sans',sans-serif"  textLength="23.4" lengthAdjust="spacingAndGlyphs">-14</text>
<text x="927.0" y="287.6" font-size="18" text-anchor="start" font-family="'Liberation Sans','DejaVu Sans',sans-serif"  textLength="23.4" lengthAdjust="spacingAndGlyphs">-21</text>
<text x="927.0" y="308.3" font-size="18" text-anchor="start" font-family="'Liberation Sans','DejaVu Sans',sans-serif"  textLength="23.4" lengthAdjust="spacingAndGlyphs">-28</text>
<text x="927.0" y="328.9" font-size="18" text-anchor="start" font-family="'Liberation Sans','DejaVu Sans',sans-serif"  textLength="23.4" lengthAdjust="spacingAndGlyphs">-35</text>
<text x="927.0" y="349.5" font-size="18" text-anchor="start" font-family="'Liberation Sans','DejaVu Sans',sans-serif"  textLength="23.4" lengthAdjust="spacingAndGlyphs">-42</text>
<text x="927.0" y="370.2" font-size="18" text-anchor="start" font-family="'Liberation Sans','DejaVu Sans',sans-serif"  textLength="23.4" lengthAdjust="spacingAndGlyphs">-49</text>
<text x="927.0" y="390.8" font-size="18" text-anchor="start" font-family="'Liberation Sans','DejaVu Sans',sans-serif"  textLength="23.4" lengthAdjust="spacingAndGlyphs">-56</text>
<text x="148.3" y="52.1" font-size="41.6" textLength="719" lengthAdjust="spacingAndGlyphs" font-family="'Liberation Sans','DejaVu Sans',sans-serif">Kazhydromet for Lepsinsk(45.53 80.62)</text>
<text x="441.6" y="91.3" font-size="22.9" textLength="25.2" lengthAdjust="spacingAndGlyphs" font-family="'Liberation Sans','DejaVu Sans',sans-serif">23</text>
<text x="473.6" y="90.9" font-size="17.6" textLength="126" lengthAdjust="spacing" stroke="#000" stroke-width=".15" font-family="'DejaVu Sans',sans-serif">☆☆☆☆☆☆☆☆☆☆</text>
<text x="604.9" y="91.3" font-size="22.9" textLength="50.4" lengthAdjust="spacingAndGlyphs" font-family="'Liberation Sans','DejaVu Sans',sans-serif">2026</text>
<path d="M165.6 563.0V460.5M177.5 563.0V460.5M189.5 563.0V460.5M201.4 563.0V460.5M213.4 563.0V460.5M225.3 563.0V460.5M237.3 563.0V460.5M249.2 563.0V460.5M261.2 563.0V460.5M273.1 563.0V460.5M285.1 563.0V460.5M297.0 563.0V460.5M309.0 563.0V460.5M320.9 563.0V460.5M332.9 563.0V460.5M344.9 563.0V460.5M356.8 563.0V460.5M368.8 563.0V460.5M380.7 563.0V460.5M392.6 563.0V460.5M404.6 563.0V460.5M416.5 563.0V460.5M428.5 563.0V460.5M440.4 563.0V460.5M452.4 563.0V460.5M464.4 563.0V460.5M476.3 563.0V460.5M488.2 563.0V460.5M500.2 563.0V460.5M512.1 563.0V460.5M524.1 563.0V460.5M536.0 563.0V460.5M548.0 563.0V460.5M559.9 563.0V460.5M571.9 563.0V460.5M583.9 563.0V460.5M595.8 563.0V460.5M607.8 563.0V460.5M619.7 563.0V460.5M631.6 563.0V460.5M643.6 563.0V460.5M655.5 563.0V460.5M667.5 563.0V460.5M679.5 563.0V460.5M691.4 563.0V460.5M703.4 563.0V460.5M715.3 563.0V460.5M727.2 563.0V460.5M739.2 563.0V460.5M751.1 563.0V460.5M763.1 563.0V460.5M775.0 563.0V460.5M787.0 563.0V460.5M798.9 563.0V460.5M810.9 563.0V460.5M822.9 563.0V460.5M834.8 563.0V460.5M153.5 548.4H870.4M153.5 533.7H870.4M153.5 519.1H870.4M153.5 504.4H870.4M153.5 489.8H870.4M153.5 475.1H870.4" stroke="#111" stroke-width=".5" stroke-dasharray="3.4 6.06" fill="none"/>
<text x="134.3" y="566.0" font-size="8.3" text-anchor="end" font-family="'Liberation Sans','DejaVu Sans',sans-serif"  textLength="19.6" lengthAdjust="spacingAndGlyphs">1008</text>
<text x="134.3" y="551.3" font-size="8.3" text-anchor="end" font-family="'Liberation Sans','DejaVu Sans',sans-serif"  textLength="19.6" lengthAdjust="spacingAndGlyphs">1011</text>
<text x="134.3" y="536.7" font-size="8.3" text-anchor="end" font-family="'Liberation Sans','DejaVu Sans',sans-serif"  textLength="19.6" lengthAdjust="spacingAndGlyphs">1014</text>
<text x="134.3" y="522.0" font-size="8.3" text-anchor="end" font-family="'Liberation Sans','DejaVu Sans',sans-serif"  textLength="19.6" lengthAdjust="spacingAndGlyphs">1017</text>
<text x="134.3" y="507.4" font-size="8.3" text-anchor="end" font-family="'Liberation Sans','DejaVu Sans',sans-serif"  textLength="19.6" lengthAdjust="spacingAndGlyphs">1020</text>
<text x="134.3" y="492.7" font-size="8.3" text-anchor="end" font-family="'Liberation Sans','DejaVu Sans',sans-serif"  textLength="19.6" lengthAdjust="spacingAndGlyphs">1023</text>
<text x="134.3" y="478.1" font-size="8.3" text-anchor="end" font-family="'Liberation Sans','DejaVu Sans',sans-serif"  textLength="19.6" lengthAdjust="spacingAndGlyphs">1026</text>
<text x="134.3" y="463.4" font-size="8.3" text-anchor="end" font-family="'Liberation Sans','DejaVu Sans',sans-serif"  textLength="19.6" lengthAdjust="spacingAndGlyphs">1029</text>
<path d="M146.5 558.1H153.5M870.4 558.1h7M146.5 553.2H153.5M870.4 553.2h7M146.5 543.5H153.5M870.4 543.5h7M146.5 538.6H153.5M870.4 538.6h7M146.5 528.8H153.5M870.4 528.8h7M146.5 524.0H153.5M870.4 524.0h7M146.5 514.2H153.5M870.4 514.2h7M146.5 509.3H153.5M870.4 509.3h7M146.5 499.5H153.5M870.4 499.5h7M146.5 494.7H153.5M870.4 494.7h7M146.5 484.9H153.5M870.4 484.9h7M146.5 480.0H153.5M870.4 480.0h7M146.5 470.3H153.5M870.4 470.3h7M146.5 465.4H153.5M870.4 465.4h7" stroke="#333" stroke-width=".8" fill="none"/>
<path d="M139.5 563.0H153.5M870.4 563.0h14M139.5 548.4H153.5M870.4 548.4h14M139.5 533.7H153.5M870.4 533.7h14M139.5 519.1H153.5M870.4 519.1h14M139.5 504.4H153.5M870.4 504.4h14M139.5 489.8H153.5M870.4 489.8h14M139.5 475.1H153.5M870.4 475.1h14M139.5 460.5H153.5M870.4 460.5h14M165.6 563.0v13.6M177.5 563.0v13.6M189.5 563.0v13.6M201.4 563.0v13.6M213.4 563.0v13.6M225.3 563.0v13.6M237.3 563.0v13.6M249.2 563.0v13.6M261.2 563.0v13.6M273.1 563.0v13.6M285.1 563.0v13.6M297.0 563.0v13.6M309.0 563.0v13.6M320.9 563.0v13.6M332.9 563.0v13.6M344.9 563.0v13.6M356.8 563.0v13.6M368.8 563.0v13.6M380.7 563.0v13.6M392.6 563.0v13.6M404.6 563.0v13.6M416.5 563.0v13.6M428.5 563.0v13.6M440.4 563.0v13.6M452.4 563.0v13.6M464.4 563.0v13.6M476.3 563.0v13.6M488.2 563.0v13.6M500.2 563.0v13.6M512.1 563.0v13.6M524.1 563.0v13.6M536.0 563.0v13.6M548.0 563.0v13.6M559.9 563.0v13.6M571.9 563.0v13.6M583.9 563.0v13.6M595.8 563.0v13.6M607.8 563.0v13.6M619.7 563.0v13.6M631.6 563.0v13.6M643.6 563.0v13.6M655.5 563.0v13.6M667.5 563.0v13.6M679.5 563.0v13.6M691.4 563.0v13.6M703.4 563.0v13.6M715.3 563.0v13.6M727.2 563.0v13.6M739.2 563.0v13.6M751.1 563.0v13.6M763.1 563.0v13.6M775.0 563.0v13.6M787.0 563.0v13.6M798.9 563.0v13.6M810.9 563.0v13.6M822.9 563.0v13.6M834.8 563.0v13.6" stroke="#000" stroke-width="1.15" fill="none"/>
<text transform="translate(169.1,589.5) rotate(-45)" x="0" y="4.3" font-size="12.2" text-anchor="middle" font-family="'Liberation Sans','DejaVu Sans',sans-serif">23.00</text>
<text transform="translate(216.9,589.5) rotate(-45)" x="0" y="4.3" font-size="12.2" text-anchor="middle" font-family="'Liberation Sans','DejaVu Sans',sans-serif">23.12</text>
<text transform="translate(264.7,589.5) rotate(-45)" x="0" y="4.3" font-size="12.2" text-anchor="middle" font-family="'Liberation Sans','DejaVu Sans',sans-serif">24.00</text>
<text transform="translate(312.5,589.5) rotate(-45)" x="0" y="4.3" font-size="12.2" text-anchor="middle" font-family="'Liberation Sans','DejaVu Sans',sans-serif">24.12</text>
<text transform="translate(360.3,589.5) rotate(-45)" x="0" y="4.3" font-size="12.2" text-anchor="middle" font-family="'Liberation Sans','DejaVu Sans',sans-serif">25.00</text>
<text transform="translate(408.1,589.5) rotate(-45)" x="0" y="4.3" font-size="12.2" text-anchor="middle" font-family="'Liberation Sans','DejaVu Sans',sans-serif">25.12</text>
<text transform="translate(455.9,589.5) rotate(-45)" x="0" y="4.3" font-size="12.2" text-anchor="middle" font-family="'Liberation Sans','DejaVu Sans',sans-serif">26.00</text>
<text transform="translate(503.7,589.5) rotate(-45)" x="0" y="4.3" font-size="12.2" text-anchor="middle" font-family="'Liberation Sans','DejaVu Sans',sans-serif">26.12</text>
<text transform="translate(551.5,589.5) rotate(-45)" x="0" y="4.3" font-size="12.2" text-anchor="middle" font-family="'Liberation Sans','DejaVu Sans',sans-serif">27.00</text>
<text transform="translate(599.3,589.5) rotate(-45)" x="0" y="4.3" font-size="12.2" text-anchor="middle" font-family="'Liberation Sans','DejaVu Sans',sans-serif">27.12</text>
<text transform="translate(647.1,589.5) rotate(-45)" x="0" y="4.3" font-size="12.2" text-anchor="middle" font-family="'Liberation Sans','DejaVu Sans',sans-serif">28.00</text>
<text transform="translate(694.9,589.5) rotate(-45)" x="0" y="4.3" font-size="12.2" text-anchor="middle" font-family="'Liberation Sans','DejaVu Sans',sans-serif">28.12</text>
<text transform="translate(742.7,589.5) rotate(-45)" x="0" y="4.3" font-size="12.2" text-anchor="middle" font-family="'Liberation Sans','DejaVu Sans',sans-serif">29.00</text>
<text transform="translate(790.5,589.5) rotate(-45)" x="0" y="4.3" font-size="12.2" text-anchor="middle" font-family="'Liberation Sans','DejaVu Sans',sans-serif">29.12</text>
<text transform="translate(838.3,589.5) rotate(-45)" x="0" y="4.3" font-size="12.2" text-anchor="middle" font-family="'Liberation Sans','DejaVu Sans',sans-serif">30.00</text>
<polyline fill="none" stroke="#1010ff" stroke-width="1" points="165.6,513.1 177.5,519.7 189.5,512.6 201.4,515.8 213.4,511.4 225.3,504.6 237.3,504.3 249.2,508.2 261.2,508.2 273.1,502.1 285.1,496.0 297.0,491.1 309.0,480.4 320.9,473.6 332.9,473.1 344.9,480.1 356.8,481.1 368.8,479.7 380.7,482.2 392.6,483.7 404.6,484.5 416.5,486.5 428.5,492.4 440.4,495.0 452.4,496.5 464.4,498.0 476.3,502.6 488.2,501.9 500.2,502.1 512.1,501.4 524.1,507.0 536.0,511.9 548.0,511.2 559.9,509.4 571.9,510.9 583.9,510.9 595.8,512.1 607.8,514.3 619.7,523.7 631.6,531.9 643.6,535.3 655.5,536.8 667.5,539.5 679.5,541.9 691.4,542.4 703.4,543.6 715.3,547.5 727.2,551.9 739.2,550.0 751.1,544.8 763.1,541.7 775.0,539.2 787.0,537.3 798.9,535.8 810.9,539.0 822.9,542.2 834.8,538.5"/>
<rect x="153.5" y="460.5" width="716.9" height="102.5" fill="none" stroke="#000" stroke-width="1.2"/>
<text transform="translate(98.8,512.0) rotate(-90)" x="0" y="0" font-size="24" text-anchor="middle" textLength="63.3" lengthAdjust="spacingAndGlyphs" font-family="'Liberation Sans','DejaVu Sans',sans-serif">PMSL</text>
<path d="M165.6 716.2V614.3M177.5 716.2V614.3M189.5 716.2V614.3M201.4 716.2V614.3M213.4 716.2V614.3M225.3 716.2V614.3M237.3 716.2V614.3M249.2 716.2V614.3M261.2 716.2V614.3M273.1 716.2V614.3M285.1 716.2V614.3M297.0 716.2V614.3M309.0 716.2V614.3M320.9 716.2V614.3M332.9 716.2V614.3M344.9 716.2V614.3M356.8 716.2V614.3M368.8 716.2V614.3M380.7 716.2V614.3M392.6 716.2V614.3M404.6 716.2V614.3M416.5 716.2V614.3M428.5 716.2V614.3M440.4 716.2V614.3M452.4 716.2V614.3M464.4 716.2V614.3M476.3 716.2V614.3M488.2 716.2V614.3M500.2 716.2V614.3M512.1 716.2V614.3M524.1 716.2V614.3M536.0 716.2V614.3M548.0 716.2V614.3M559.9 716.2V614.3M571.9 716.2V614.3M583.9 716.2V614.3M595.8 716.2V614.3M607.8 716.2V614.3M619.7 716.2V614.3M631.6 716.2V614.3M643.6 716.2V614.3M655.5 716.2V614.3M667.5 716.2V614.3M679.5 716.2V614.3M691.4 716.2V614.3M703.4 716.2V614.3M715.3 716.2V614.3M727.2 716.2V614.3M739.2 716.2V614.3M751.1 716.2V614.3M763.1 716.2V614.3M775.0 716.2V614.3M787.0 716.2V614.3M798.9 716.2V614.3M810.9 716.2V614.3M822.9 716.2V614.3M834.8 716.2V614.3M153.5 699.2H870.4M153.5 682.2H870.4M153.5 665.2H870.4M153.5 648.3H870.4M153.5 631.3H870.4" stroke="#111" stroke-width=".5" stroke-dasharray="3.4 6.06" fill="none"/>
<text x="134.3" y="719.2" font-size="8.3" text-anchor="end" font-family="'Liberation Sans','DejaVu Sans',sans-serif"  textLength="7.8" lengthAdjust="spacingAndGlyphs">-6</text>
<text x="134.3" y="702.2" font-size="8.3" text-anchor="end" font-family="'Liberation Sans','DejaVu Sans',sans-serif"  textLength="7.8" lengthAdjust="spacingAndGlyphs">-3</text>
<text x="134.3" y="685.2" font-size="8.3" text-anchor="end" font-family="'Liberation Sans','DejaVu Sans',sans-serif"  textLength="4.9" lengthAdjust="spacingAndGlyphs">0</text>
<text x="134.3" y="668.2" font-size="8.3" text-anchor="end" font-family="'Liberation Sans','DejaVu Sans',sans-serif"  textLength="4.9" lengthAdjust="spacingAndGlyphs">3</text>
<text x="134.3" y="651.2" font-size="8.3" text-anchor="end" font-family="'Liberation Sans','DejaVu Sans',sans-serif"  textLength="4.9" lengthAdjust="spacingAndGlyphs">6</text>
<text x="134.3" y="634.2" font-size="8.3" text-anchor="end" font-family="'Liberation Sans','DejaVu Sans',sans-serif"  textLength="4.9" lengthAdjust="spacingAndGlyphs">9</text>
<text x="134.3" y="617.2" font-size="8.3" text-anchor="end" font-family="'Liberation Sans','DejaVu Sans',sans-serif"  textLength="9.8" lengthAdjust="spacingAndGlyphs">12</text>
<path d="M146.5 710.5H153.5M870.4 710.5h7M146.5 704.9H153.5M870.4 704.9h7M146.5 693.6H153.5M870.4 693.6h7M146.5 687.9H153.5M870.4 687.9h7M146.5 676.6H153.5M870.4 676.6h7M146.5 670.9H153.5M870.4 670.9h7M146.5 659.6H153.5M870.4 659.6h7M146.5 653.9H153.5M870.4 653.9h7M146.5 642.6H153.5M870.4 642.6h7M146.5 636.9H153.5M870.4 636.9h7M146.5 625.6H153.5M870.4 625.6h7M146.5 620.0H153.5M870.4 620.0h7" stroke="#333" stroke-width=".8" fill="none"/>
<path d="M139.5 716.2H153.5M870.4 716.2h14M139.5 699.2H153.5M870.4 699.2h14M139.5 682.2H153.5M870.4 682.2h14M139.5 665.2H153.5M870.4 665.2h14M139.5 648.3H153.5M870.4 648.3h14M139.5 631.3H153.5M870.4 631.3h14M139.5 614.3H153.5M870.4 614.3h14M165.6 716.2v13.6M177.5 716.2v13.6M189.5 716.2v13.6M201.4 716.2v13.6M213.4 716.2v13.6M225.3 716.2v13.6M237.3 716.2v13.6M249.2 716.2v13.6M261.2 716.2v13.6M273.1 716.2v13.6M285.1 716.2v13.6M297.0 716.2v13.6M309.0 716.2v13.6M320.9 716.2v13.6M332.9 716.2v13.6M344.9 716.2v13.6M356.8 716.2v13.6M368.8 716.2v13.6M380.7 716.2v13.6M392.6 716.2v13.6M404.6 716.2v13.6M416.5 716.2v13.6M428.5 716.2v13.6M440.4 716.2v13.6M452.4 716.2v13.6M464.4 716.2v13.6M476.3 716.2v13.6M488.2 716.2v13.6M500.2 716.2v13.6M512.1 716.2v13.6M524.1 716.2v13.6M536.0 716.2v13.6M548.0 716.2v13.6M559.9 716.2v13.6M571.9 716.2v13.6M583.9 716.2v13.6M595.8 716.2v13.6M607.8 716.2v13.6M619.7 716.2v13.6M631.6 716.2v13.6M643.6 716.2v13.6M655.5 716.2v13.6M667.5 716.2v13.6M679.5 716.2v13.6M691.4 716.2v13.6M703.4 716.2v13.6M715.3 716.2v13.6M727.2 716.2v13.6M739.2 716.2v13.6M751.1 716.2v13.6M763.1 716.2v13.6M775.0 716.2v13.6M787.0 716.2v13.6M798.9 716.2v13.6M810.9 716.2v13.6M822.9 716.2v13.6M834.8 716.2v13.6" stroke="#000" stroke-width="1.15" fill="none"/>
<text transform="translate(169.1,742.7) rotate(-45)" x="0" y="4.3" font-size="12.2" text-anchor="middle" font-family="'Liberation Sans','DejaVu Sans',sans-serif">23.00</text>
<text transform="translate(216.9,742.7) rotate(-45)" x="0" y="4.3" font-size="12.2" text-anchor="middle" font-family="'Liberation Sans','DejaVu Sans',sans-serif">23.12</text>
<text transform="translate(264.7,742.7) rotate(-45)" x="0" y="4.3" font-size="12.2" text-anchor="middle" font-family="'Liberation Sans','DejaVu Sans',sans-serif">24.00</text>
<text transform="translate(312.5,742.7) rotate(-45)" x="0" y="4.3" font-size="12.2" text-anchor="middle" font-family="'Liberation Sans','DejaVu Sans',sans-serif">24.12</text>
<text transform="translate(360.3,742.7) rotate(-45)" x="0" y="4.3" font-size="12.2" text-anchor="middle" font-family="'Liberation Sans','DejaVu Sans',sans-serif">25.00</text>
<text transform="translate(408.1,742.7) rotate(-45)" x="0" y="4.3" font-size="12.2" text-anchor="middle" font-family="'Liberation Sans','DejaVu Sans',sans-serif">25.12</text>
<text transform="translate(455.9,742.7) rotate(-45)" x="0" y="4.3" font-size="12.2" text-anchor="middle" font-family="'Liberation Sans','DejaVu Sans',sans-serif">26.00</text>
<text transform="translate(503.7,742.7) rotate(-45)" x="0" y="4.3" font-size="12.2" text-anchor="middle" font-family="'Liberation Sans','DejaVu Sans',sans-serif">26.12</text>
<text transform="translate(551.5,742.7) rotate(-45)" x="0" y="4.3" font-size="12.2" text-anchor="middle" font-family="'Liberation Sans','DejaVu Sans',sans-serif">27.00</text>
<text transform="translate(599.3,742.7) rotate(-45)" x="0" y="4.3" font-size="12.2" text-anchor="middle" font-family="'Liberation Sans','DejaVu Sans',sans-serif">27.12</text>
<text transform="translate(647.1,742.7) rotate(-45)" x="0" y="4.3" font-size="12.2" text-anchor="middle" font-family="'Liberation Sans','DejaVu Sans',sans-serif">28.00</text>
<text transform="translate(694.9,742.7) rotate(-45)" x="0" y="4.3" font-size="12.2" text-anchor="middle" font-family="'Liberation Sans','DejaVu Sans',sans-serif">28.12</text>
<text transform="translate(742.7,742.7) rotate(-45)" x="0" y="4.3" font-size="12.2" text-anchor="middle" font-family="'Liberation Sans','DejaVu Sans',sans-serif">29.00</text>
<text transform="translate(790.5,742.7) rotate(-45)" x="0" y="4.3" font-size="12.2" text-anchor="middle" font-family="'Liberation Sans','DejaVu Sans',sans-serif">29.12</text>
<text transform="translate(838.3,742.7) rotate(-45)" x="0" y="4.3" font-size="12.2" text-anchor="middle" font-family="'Liberation Sans','DejaVu Sans',sans-serif">30.00</text>
<polyline fill="none" stroke="#ff1010" stroke-width="1" points="165.6,680.2 177.5,662.1 189.5,660.2 201.4,662.9 213.4,670.9 225.3,673.6 237.3,679.7 249.2,678.2 261.2,679.0 273.1,678.2 285.1,680.9 297.0,685.1 309.0,690.7 320.9,702.7 332.9,710.7 344.9,711.4 356.8,712.2 368.8,685.0 380.7,677.5 392.6,674.3 404.6,681.2 416.5,695.8 428.5,697.0 440.4,697.8 452.4,697.3 464.4,668.5 476.3,645.8 488.2,643.3 500.2,656.3 512.1,671.4 524.1,671.4 536.0,671.2 548.0,670.7 559.9,647.0 571.9,632.1 583.9,632.8 595.8,646.7 607.8,666.2 619.7,667.5 631.6,669.9 643.6,675.3 655.5,645.0 667.5,637.0 679.5,634.1 691.4,644.6 703.4,667.5 715.3,670.2 727.2,670.9 739.2,671.4 751.1,638.7 763.1,623.6 775.0,619.4 787.0,628.4 798.9,649.9 810.9,652.4 822.9,654.3 834.8,657.5"/>
<rect x="153.5" y="614.3" width="716.9" height="101.9" fill="none" stroke="#000" stroke-width="1.2"/>
<text transform="translate(108.4,665.4) rotate(-90)" x="0" y="0" font-size="24" text-anchor="middle" textLength="137.5" lengthAdjust="spacingAndGlyphs" font-family="'Liberation Sans','DejaVu Sans',sans-serif">TEMP at 2 M</text>
<rect x="190.8" y="941.2" width="12.9" height="11.0" fill="#00f000"/>
<rect x="203.4" y="951.0" width="12.9" height="1.2" fill="#00f000"/>
<rect x="216.0" y="943.2" width="12.9" height="9.0" fill="#00f000"/>
<rect x="228.7" y="948.3" width="12.9" height="3.9" fill="#00f000"/>
<rect x="253.9" y="950.8" width="12.9" height="1.4" fill="#00f000"/>
<rect x="266.5" y="908.5" width="12.9" height="43.7" fill="#00f000"/>
<rect x="279.1" y="827.5" width="12.9" height="124.7" fill="#00f000"/>
<rect x="291.7" y="891.2" width="12.9" height="61.0" fill="#00f000"/>
<rect x="304.3" y="924.9" width="12.9" height="27.3" fill="#00f000"/>
<rect x="316.9" y="943.2" width="12.9" height="9.0" fill="#00f000"/>
<path d="M159.3 952.2V819.3M171.9 952.2V819.3M184.5 952.2V819.3M197.1 952.2V819.3M209.7 952.2V819.3M222.4 952.2V819.3M235.0 952.2V819.3M247.6 952.2V819.3M260.2 952.2V819.3M272.8 952.2V819.3M285.4 952.2V819.3M298.0 952.2V819.3M310.6 952.2V819.3M323.2 952.2V819.3M335.8 952.2V819.3M348.4 952.2V819.3M361.1 952.2V819.3M373.7 952.2V819.3M386.3 952.2V819.3M398.9 952.2V819.3M411.5 952.2V819.3M424.1 952.2V819.3M436.7 952.2V819.3M449.3 952.2V819.3M461.9 952.2V819.3M474.6 952.2V819.3M487.2 952.2V819.3M499.8 952.2V819.3M512.4 952.2V819.3M525.0 952.2V819.3M537.6 952.2V819.3M550.2 952.2V819.3M562.8 952.2V819.3M575.4 952.2V819.3M588.0 952.2V819.3M600.6 952.2V819.3M613.3 952.2V819.3M625.9 952.2V819.3M638.5 952.2V819.3M651.1 952.2V819.3M663.7 952.2V819.3M676.3 952.2V819.3M688.9 952.2V819.3M701.5 952.2V819.3M714.1 952.2V819.3M726.8 952.2V819.3M739.4 952.2V819.3M752.0 952.2V819.3M764.6 952.2V819.3M777.2 952.2V819.3M789.8 952.2V819.3M802.4 952.2V819.3M815.0 952.2V819.3M827.6 952.2V819.3M840.2 952.2V819.3M852.8 952.2V819.3M865.5 952.2V819.3M153.5 933.2H870.4M153.5 914.2H870.4M153.5 895.2H870.4M153.5 876.3H870.4M153.5 857.3H870.4M153.5 838.3H870.4" stroke="#111" stroke-width=".5" stroke-dasharray="3.4 6.06" fill="none"/>
<text x="134.3" y="955.2" font-size="8.3" text-anchor="end" font-family="'Liberation Sans','DejaVu Sans',sans-serif"  textLength="12.2" lengthAdjust="spacingAndGlyphs">0.0</text>
<text x="134.3" y="936.2" font-size="8.3" text-anchor="end" font-family="'Liberation Sans','DejaVu Sans',sans-serif"  textLength="12.2" lengthAdjust="spacingAndGlyphs">0.5</text>
<text x="134.3" y="917.2" font-size="8.3" text-anchor="end" font-family="'Liberation Sans','DejaVu Sans',sans-serif"  textLength="12.2" lengthAdjust="spacingAndGlyphs">1.0</text>
<text x="134.3" y="898.2" font-size="8.3" text-anchor="end" font-family="'Liberation Sans','DejaVu Sans',sans-serif"  textLength="12.2" lengthAdjust="spacingAndGlyphs">1.5</text>
<text x="134.3" y="879.2" font-size="8.3" text-anchor="end" font-family="'Liberation Sans','DejaVu Sans',sans-serif"  textLength="12.2" lengthAdjust="spacingAndGlyphs">2.0</text>
<text x="134.3" y="860.2" font-size="8.3" text-anchor="end" font-family="'Liberation Sans','DejaVu Sans',sans-serif"  textLength="12.2" lengthAdjust="spacingAndGlyphs">2.5</text>
<text x="134.3" y="841.2" font-size="8.3" text-anchor="end" font-family="'Liberation Sans','DejaVu Sans',sans-serif"  textLength="12.2" lengthAdjust="spacingAndGlyphs">3.0</text>
<text x="134.3" y="822.2" font-size="8.3" text-anchor="end" font-family="'Liberation Sans','DejaVu Sans',sans-serif"  textLength="12.2" lengthAdjust="spacingAndGlyphs">3.5</text>
<path d="M146.5 948.4H153.5M870.4 948.4h7M146.5 944.6H153.5M870.4 944.6h7M146.5 940.8H153.5M870.4 940.8h7M146.5 937.0H153.5M870.4 937.0h7M146.5 929.4H153.5M870.4 929.4h7M146.5 925.6H153.5M870.4 925.6h7M146.5 921.8H153.5M870.4 921.8h7M146.5 918.0H153.5M870.4 918.0h7M146.5 910.4H153.5M870.4 910.4h7M146.5 906.6H153.5M870.4 906.6h7M146.5 902.8H153.5M870.4 902.8h7M146.5 899.0H153.5M870.4 899.0h7M146.5 891.4H153.5M870.4 891.4h7M146.5 887.6H153.5M870.4 887.6h7M146.5 883.9H153.5M870.4 883.9h7M146.5 880.1H153.5M870.4 880.1h7M146.5 872.5H153.5M870.4 872.5h7M146.5 868.7H153.5M870.4 868.7h7M146.5 864.9H153.5M870.4 864.9h7M146.5 861.1H153.5M870.4 861.1h7M146.5 853.5H153.5M870.4 853.5h7M146.5 849.7H153.5M870.4 849.7h7M146.5 845.9H153.5M870.4 845.9h7M146.5 842.1H153.5M870.4 842.1h7M146.5 834.5H153.5M870.4 834.5h7M146.5 830.7H153.5M870.4 830.7h7M146.5 826.9H153.5M870.4 826.9h7M146.5 823.1H153.5M870.4 823.1h7" stroke="#333" stroke-width=".8" fill="none"/>
<path d="M139.5 952.2H153.5M870.4 952.2h14M139.5 933.2H153.5M870.4 933.2h14M139.5 914.2H153.5M870.4 914.2h14M139.5 895.2H153.5M870.4 895.2h14M139.5 876.3H153.5M870.4 876.3h14M139.5 857.3H153.5M870.4 857.3h14M139.5 838.3H153.5M870.4 838.3h14M139.5 819.3H153.5M870.4 819.3h14M159.3 952.2v14.0M171.9 952.2v14.0M184.5 952.2v14.0M197.1 952.2v14.0M209.7 952.2v14.0M222.4 952.2v14.0M235.0 952.2v14.0M247.6 952.2v14.0M260.2 952.2v14.0M272.8 952.2v14.0M285.4 952.2v14.0M298.0 952.2v14.0M310.6 952.2v14.0M323.2 952.2v14.0M335.8 952.2v14.0M348.4 952.2v14.0M361.1 952.2v14.0M373.7 952.2v14.0M386.3 952.2v14.0M398.9 952.2v14.0M411.5 952.2v14.0M424.1 952.2v14.0M436.7 952.2v14.0M449.3 952.2v14.0M461.9 952.2v14.0M474.6 952.2v14.0M487.2 952.2v14.0M499.8 952.2v14.0M512.4 952.2v14.0M525.0 952.2v14.0M537.6 952.2v14.0M550.2 952.2v14.0M562.8 952.2v14.0M575.4 952.2v14.0M588.0 952.2v14.0M600.6 952.2v14.0M613.3 952.2v14.0M625.9 952.2v14.0M638.5 952.2v14.0M651.1 952.2v14.0M663.7 952.2v14.0M676.3 952.2v14.0M688.9 952.2v14.0M701.5 952.2v14.0M714.1 952.2v14.0M726.8 952.2v14.0M739.4 952.2v14.0M752.0 952.2v14.0M764.6 952.2v14.0M777.2 952.2v14.0M789.8 952.2v14.0M802.4 952.2v14.0M815.0 952.2v14.0M827.6 952.2v14.0M840.2 952.2v14.0M852.8 952.2v14.0M865.5 952.2v14.0" stroke="#000" stroke-width="1.15" fill="none"/>
<text transform="translate(163.0,979.2) rotate(-45)" x="0" y="4.3" font-size="12.2" text-anchor="middle" font-family="'Liberation Sans','DejaVu Sans',sans-serif">23.00</text>
<text transform="translate(213.4,979.2) rotate(-45)" x="0" y="4.3" font-size="12.2" text-anchor="middle" font-family="'Liberation Sans','DejaVu Sans',sans-serif">23.12</text>
<text transform="translate(263.9,979.2) rotate(-45)" x="0" y="4.3" font-size="12.2" text-anchor="middle" font-family="'Liberation Sans','DejaVu Sans',sans-serif">24.00</text>
<text transform="translate(314.3,979.2) rotate(-45)" x="0" y="4.3" font-size="12.2" text-anchor="middle" font-family="'Liberation Sans','DejaVu Sans',sans-serif">24.12</text>
<text transform="translate(364.8,979.2) rotate(-45)" x="0" y="4.3" font-size="12.2" text-anchor="middle" font-family="'Liberation Sans','DejaVu Sans',sans-serif">25.00</text>
<text transform="translate(415.2,979.2) rotate(-45)" x="0" y="4.3" font-size="12.2" text-anchor="middle" font-family="'Liberation Sans','DejaVu Sans',sans-serif">25.12</text>
<text transform="translate(465.6,979.2) rotate(-45)" x="0" y="4.3" font-size="12.2" text-anchor="middle" font-family="'Liberation Sans','DejaVu Sans',sans-serif">26.00</text>
<text transform="translate(516.1,979.2) rotate(-45)" x="0" y="4.3" font-size="12.2" text-anchor="middle" font-family="'Liberation Sans','DejaVu Sans',sans-serif">26.12</text>
<text transform="translate(566.5,979.2) rotate(-45)" x="0" y="4.3" font-size="12.2" text-anchor="middle" font-family="'Liberation Sans','DejaVu Sans',sans-serif">27.00</text>
<text transform="translate(617.0,979.2) rotate(-45)" x="0" y="4.3" font-size="12.2" text-anchor="middle" font-family="'Liberation Sans','DejaVu Sans',sans-serif">27.12</text>
<text transform="translate(667.4,979.2) rotate(-45)" x="0" y="4.3" font-size="12.2" text-anchor="middle" font-family="'Liberation Sans','DejaVu Sans',sans-serif">28.00</text>
<text transform="translate(717.8,979.2) rotate(-45)" x="0" y="4.3" font-size="12.2" text-anchor="middle" font-family="'Liberation Sans','DejaVu Sans',sans-serif">28.12</text>
<text transform="translate(768.3,979.2) rotate(-45)" x="0" y="4.3" font-size="12.2" text-anchor="middle" font-family="'Liberation Sans','DejaVu Sans',sans-serif">29.00</text>
<text transform="translate(818.7,979.2) rotate(-45)" x="0" y="4.3" font-size="12.2" text-anchor="middle" font-family="'Liberation Sans','DejaVu Sans',sans-serif">29.12</text>
<text transform="translate(869.2,979.2) rotate(-45)" x="0" y="4.3" font-size="12.2" text-anchor="middle" font-family="'Liberation Sans','DejaVu Sans',sans-serif">30.00</text>
<rect x="153.5" y="819.3" width="716.9" height="132.9" fill="none" stroke="#000" stroke-width="1.2"/>
<text transform="translate(100.9,885.7) rotate(-90)" x="0" y="0" font-size="24" text-anchor="middle" textLength="144.6" lengthAdjust="spacingAndGlyphs" font-family="'Liberation Sans','DejaVu Sans',sans-serif">PRECIP, mm</text>
</svg>
</body></html>
